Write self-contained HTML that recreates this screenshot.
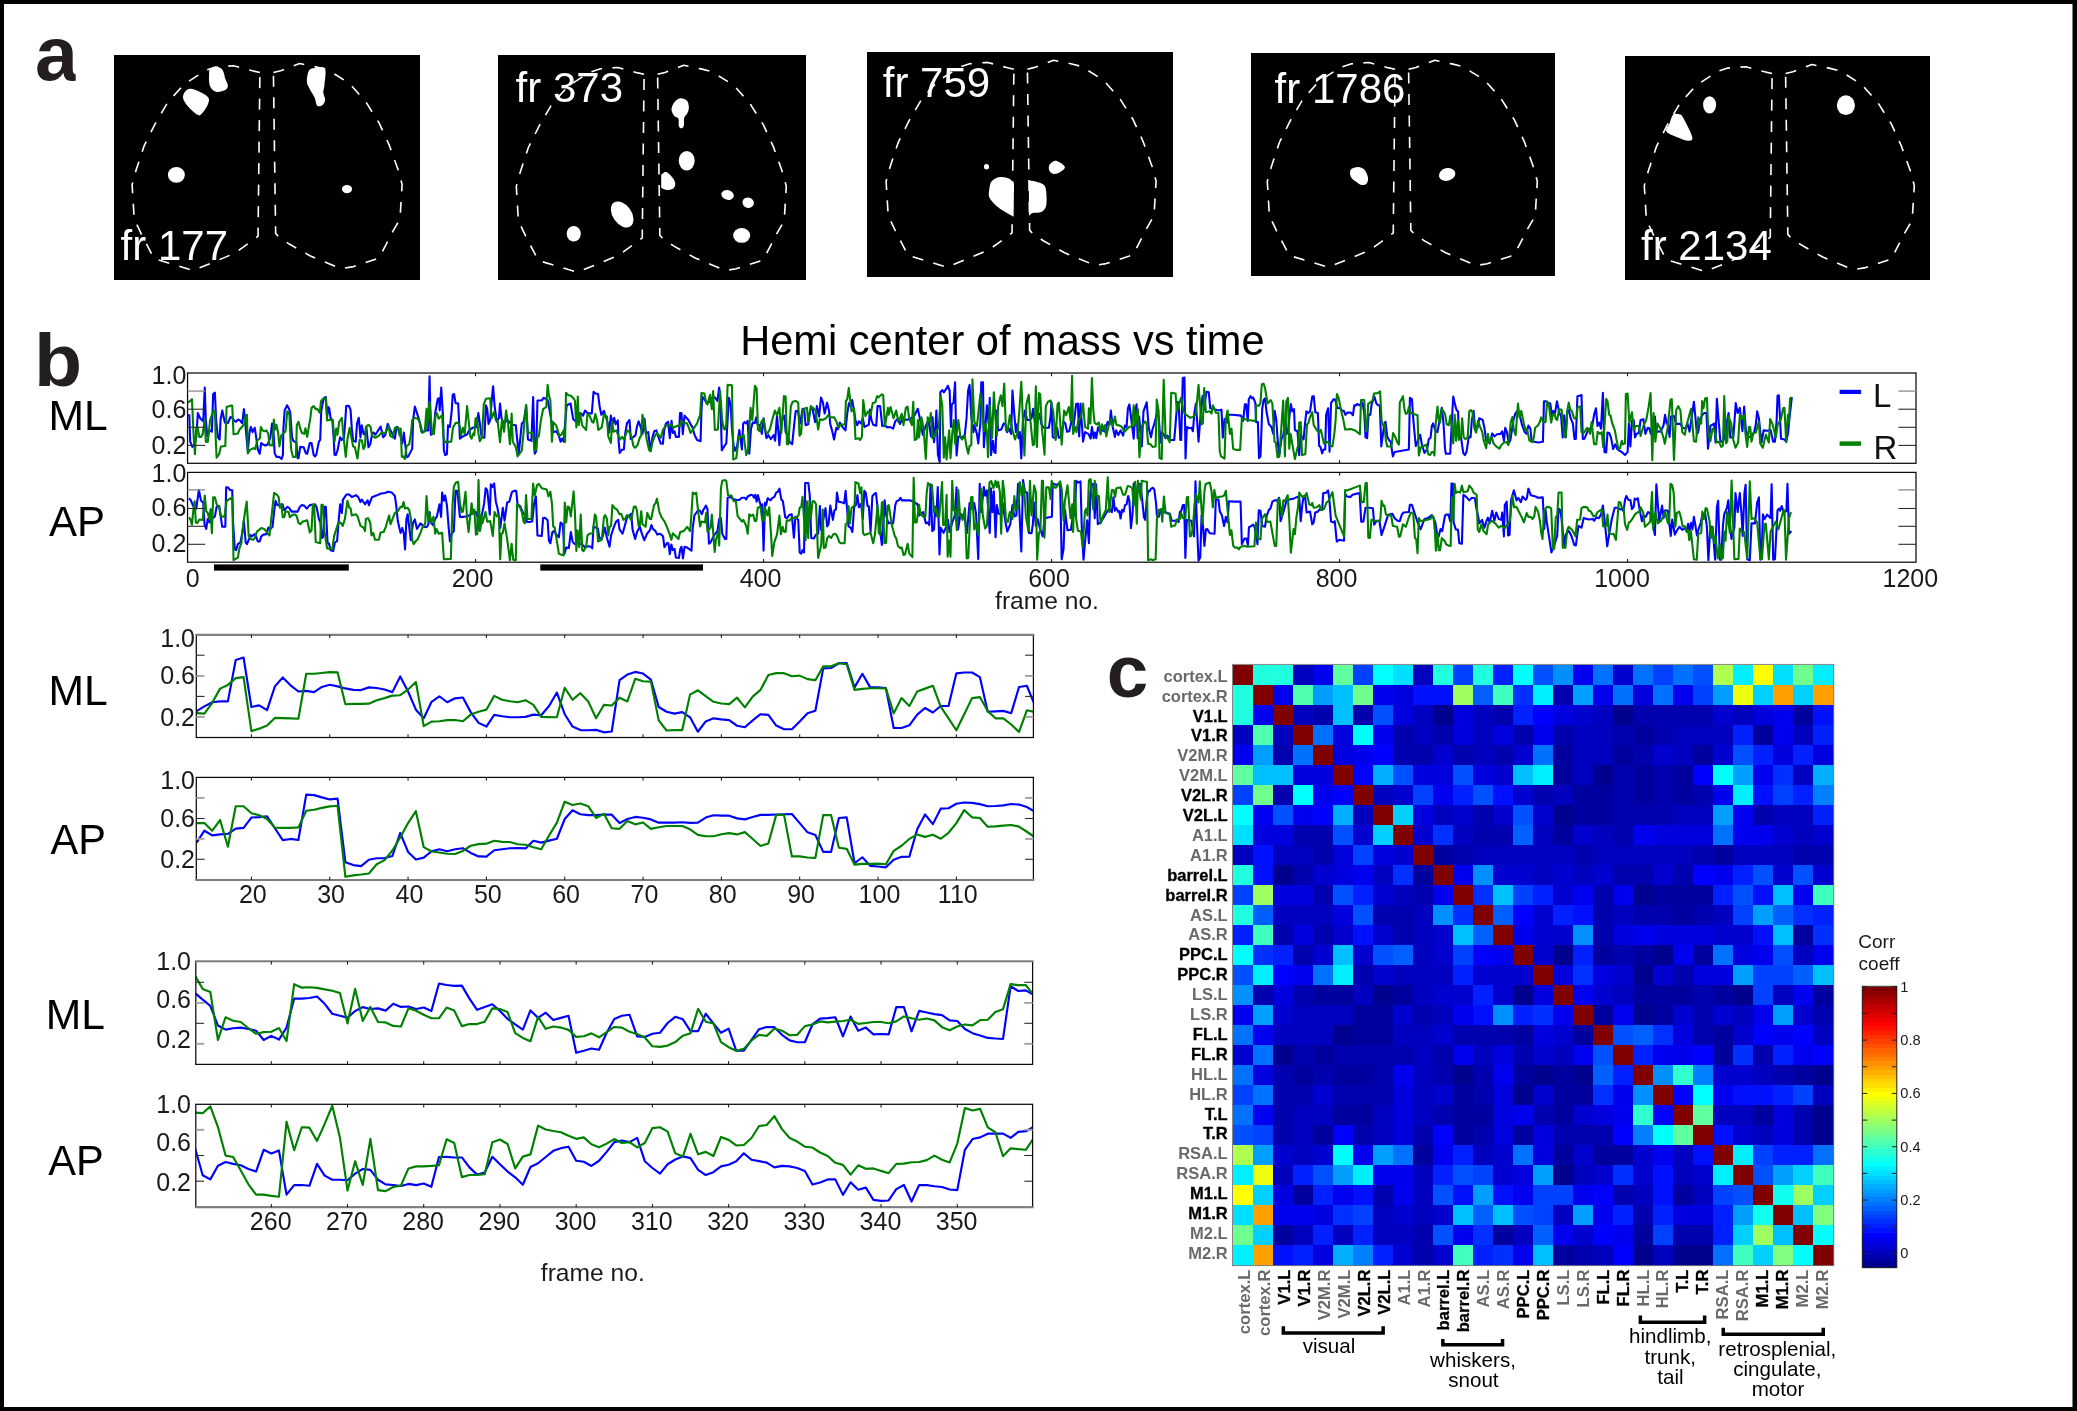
<!DOCTYPE html>
<html lang="en"><head><meta charset="utf-8"><title>Figure</title>
<style>html,body{margin:0;padding:0;background:#fff;}body{width:2077px;height:1411px;overflow:hidden;}svg{display:block;will-change:transform;}text{font-family:"Liberation Sans",sans-serif;}</style></head>
<body>
<svg width="2077" height="1411" viewBox="0 0 2077 1411">
<rect x="0" y="0" width="2077" height="1411" fill="#fff"/>
<rect x="0" y="0" width="2077" height="4" fill="#000"/>
<rect x="0" y="1407" width="2077" height="4" fill="#000"/>
<rect x="0" y="0" width="4" height="1411" fill="#000"/>
<rect x="2072.5" y="0" width="4.5" height="1411" fill="#000"/>
<defs><clipPath id="ca"><rect x="30" y="30" width="44.9" height="60"/></clipPath></defs>
<text x="34.9" y="80.3" font-size="75.6" text-anchor="start" font-weight="bold" fill="#231f20" transform="translate(34.9 80.3) scale(1.0200 1) translate(-34.9 -80.3)" clip-path="url(#ca)">a</text>
<text x="34" y="385.6" font-size="75" text-anchor="start" font-weight="bold" fill="#231f20" transform="translate(34 385.6) scale(1.0500 1) translate(-34 -385.6)">b</text>
<text x="1106.8" y="696.8" font-size="74.5" text-anchor="start" font-weight="bold" fill="#231f20">c</text>
<g transform="translate(114 55)">
<rect x="0" y="0" width="306" height="225" fill="#000"/>
<path d="M96.2 13.9C97.6 12.7 101.3 11.9 103.4 12.1C105.5 12.4 107.5 13.4 108.8 15.4C110.1 17.3 110.5 21.4 111.4 23.9C112.2 26.3 113.8 28.4 113.9 30.2C113.9 32.0 113.5 33.6 111.7 34.7C110.0 35.8 105.7 37.0 103.4 36.9C101.1 36.8 99.3 35.6 98.0 34.2C96.6 32.7 95.7 30.9 95.3 28.4C94.8 25.9 94.9 21.8 95.1 19.3C95.2 16.9 94.8 15.1 96.2 13.9Z" fill="#fff"/>
<path d="M70.5 37.4C71.7 35.8 73.5 33.8 76.3 33.8C79.1 33.8 84.1 35.9 87.1 37.4C90.2 38.9 93.5 40.7 94.5 42.8C95.6 45.0 94.8 47.4 93.6 50.1C92.5 52.8 89.2 57.5 87.5 59.1C85.8 60.7 85.7 60.9 83.5 59.7C81.3 58.4 76.9 54.5 74.5 51.9C72.1 49.2 69.9 46.2 69.2 43.7C68.6 41.3 69.3 39.1 70.5 37.4Z" fill="#fff"/>
<path d="M195.2 15.2C196.9 12.9 200.2 13.2 202.8 13.0C205.5 12.8 209.9 11.1 211.1 13.9C212.4 16.8 210.7 26.3 210.4 30.2C210.1 34.1 209.2 35.0 209.3 37.4C209.4 39.8 211.3 42.5 211.1 44.6C211.0 46.8 209.9 49.0 208.6 50.1C207.3 51.1 204.5 52.0 203.2 50.8C201.9 49.6 201.9 45.7 200.7 42.8C199.4 40.0 196.9 36.5 195.6 33.8C194.3 31.1 192.9 29.7 192.9 26.6C192.8 23.5 193.6 17.4 195.2 15.2Z" fill="#fff"/>
<ellipse cx="62.36" cy="119.85" rx="8.5" ry="7.95" fill="#fff"/>
<ellipse cx="233.01" cy="134.13" rx="5.06" ry="4.16" fill="#fff"/>
<path d="M145.9 17.5 L139.6 16.1 L119.7 10.7 L101.6 12.1 L91.6 15.4 L70 29.3 L53.7 47.4 L41 69.1 L30.2 90.7 L22.1 115.1 L18.1 129.6 L20.2 164 L27.5 179.3 L40.1 203.7 L58.2 209.1 L79 215.5 L99.8 207 L120.6 198.3 L139.6 184.7 L144.1 181.1 L144.1 174.8Z" fill="none" stroke="#fff" stroke-width="1.6" stroke-dasharray="11 10.5" stroke-linejoin="round"/>
<path d="M159.4 17.5 L166.7 15.7 L178.4 11.2 L185.6 8.5 L202.8 12.1 L213.7 14.8 L235.4 28.4 L251.6 46.5 L265.2 68.1 L275.1 89.8 L284.2 115.1 L288.1 129.6 L286 164 L278.7 176.6 L265.2 202.8 L260.7 204.6 L238.1 211.9 L227.2 213.7 L196.5 201 L175.7 189.3 L164.9 182 L161.6 178.4 L161.6 174.8Z" fill="none" stroke="#fff" stroke-width="1.6" stroke-dasharray="11 10.5" stroke-linejoin="round"/>
</g>
<text x="120.6" y="259.6" font-size="42" text-anchor="start" fill="#fff">fr 177</text>
<g transform="translate(498 55)">
<rect x="0" y="0" width="308" height="225" fill="#000"/>
<path d="M182.2 43.2C184.3 42.9 187.5 44.0 188.9 45.6C190.3 47.1 190.9 50.5 190.9 52.8C190.9 55.0 189.7 57.5 188.9 59.1C188.1 60.8 186.7 60.8 186.2 62.7C185.7 64.7 186.3 69.1 185.8 70.9C185.3 72.6 184.1 73.2 183.3 73.2C182.5 73.2 181.2 72.5 180.8 70.9C180.3 69.3 181.2 65.3 180.4 63.6C179.7 62.0 177.4 62.4 176.2 60.9C175.1 59.4 173.5 56.9 173.5 54.6C173.5 52.3 174.8 49.3 176.2 47.4C177.7 45.5 180.1 43.5 182.2 43.2Z" fill="#fff"/>
<ellipse cx="188.72" cy="105.75" rx="7.95" ry="9.76" fill="#fff"/>
<path d="M163.2 119.7C164.9 118.8 166.2 116.5 168.1 117.0C170.0 117.4 172.9 120.6 174.4 122.4C175.9 124.2 176.9 126.0 177.2 127.8C177.4 129.6 177.1 132.0 175.7 133.2C174.3 134.4 171.1 135.1 169.0 135.0C166.9 135.0 165.2 133.6 163.2 132.9L163.2 119.7Z" fill="#fff"/>
<ellipse cx="229.57" cy="139.91" rx="6.33" ry="4.88" fill="#fff" transform="rotate(15 229.57 139.91)"/>
<ellipse cx="250.18" cy="147.69" rx="5.78" ry="5.24" fill="#fff" transform="rotate(15 250.18 147.69)"/>
<ellipse cx="243.67" cy="180.4" rx="8.5" ry="7.41" fill="#fff"/>
<ellipse cx="124.19" cy="159.44" rx="14.46" ry="9.4" fill="#fff" transform="rotate(55 124.19 159.44)"/>
<ellipse cx="75.74" cy="178.78" rx="7.05" ry="7.77" fill="#fff"/>
<path d="M146.1 19.3 L139.8 17.9 L119.9 12.5 L101.8 13.9 L91.8 17.2 L70.2 31.1 L53.9 49.2 L41.2 70.9 L30.4 92.5 L22.3 116.9 L18.3 131.4 L20.4 165.8 L27.7 181.1 L40.3 205.5 L58.4 210.9 L79.2 217.3 L100 208.8 L120.8 200.1 L139.8 186.5 L144.3 182.9 L144.3 176.6Z" fill="none" stroke="#fff" stroke-width="1.6" stroke-dasharray="11 10.5" stroke-linejoin="round"/>
<path d="M159.6 19.3 L166.9 17.5 L178.6 13 L185.8 10.3 L203 13.9 L213.9 16.6 L235.6 30.2 L251.8 48.3 L265.4 69.9 L275.3 91.6 L284.4 116.9 L288.3 131.4 L286.2 165.8 L278.9 178.4 L265.4 204.6 L260.9 206.4 L238.3 213.7 L227.4 215.5 L196.7 202.8 L175.9 191.1 L165.1 183.8 L161.8 180.2 L161.8 176.6Z" fill="none" stroke="#fff" stroke-width="1.6" stroke-dasharray="11 10.5" stroke-linejoin="round"/>
</g>
<text x="515.6" y="102.4" font-size="42" text-anchor="start" fill="#fff">fr 373</text>
<g transform="translate(867 52)">
<rect x="0" y="0" width="306" height="225" fill="#000"/>
<ellipse cx="119.49" cy="114.79" rx="2.53" ry="2.71" fill="#fff"/>
<path d="M182.2 113.3C183.0 111.6 185.4 109.5 187.1 109.0C188.8 108.5 190.7 109.2 192.5 110.3C194.3 111.3 197.9 113.6 197.9 115.3C197.9 117.0 194.3 119.5 192.5 120.6C190.7 121.7 188.8 122.2 187.1 122.0C185.4 121.8 183.4 120.8 182.6 119.3C181.8 117.9 181.5 115.1 182.2 113.3Z" fill="#fff"/>
<path d="M124.7 129.2C126.5 127.3 130.0 125.5 132.9 125.1C135.7 124.6 139.6 125.5 141.9 126.5C144.3 127.6 145.3 129.8 147.0 131.4L146.6 164.7C143.2 162.8 139.2 160.8 136.5 159.1C133.7 157.4 132.0 156.1 130.2 154.6C128.3 153.0 127.0 151.7 125.6 150.0C124.3 148.4 122.6 146.9 122.0 144.6C121.5 142.4 121.9 139.0 122.4 136.5C122.8 133.9 123.0 131.1 124.7 129.2Z" fill="#fff"/>
<path d="M161.8 128.3C164.8 128.9 168.2 129.2 170.8 130.2C173.5 131.1 176.2 131.5 177.7 133.8C179.1 136.0 179.3 140.2 179.5 143.7C179.7 147.2 179.8 151.8 179.0 154.6C178.1 157.3 176.6 158.9 174.4 160.0C172.2 161.1 167.8 160.4 165.8 161.1C163.7 161.7 163.4 162.9 162.1 163.8L161.8 128.3Z" fill="#fff"/>
<path d="M146.9 17.2 L140.6 15.8 L120.7 10.4 L102.6 11.8 L92.6 15.1 L71 29 L54.7 47.1 L42 68.8 L31.2 90.4 L23.1 114.8 L19.1 129.3 L21.2 163.7 L28.5 179 L41.1 203.4 L59.2 208.8 L80 215.2 L100.8 206.7 L121.6 198 L140.6 184.4 L145.1 180.8 L145.1 174.5Z" fill="none" stroke="#fff" stroke-width="1.6" stroke-dasharray="11 10.5" stroke-linejoin="round"/>
<path d="M160.4 17.2 L167.7 15.4 L179.4 10.9 L186.6 8.2 L203.8 11.8 L214.7 14.5 L236.4 28.1 L252.6 46.2 L266.2 67.8 L276.1 89.5 L285.2 114.8 L289.1 129.3 L287 163.7 L279.7 176.3 L266.2 202.5 L261.7 204.3 L239.1 211.6 L228.2 213.4 L197.5 200.7 L176.7 189 L165.9 181.7 L162.6 178.1 L162.6 174.5Z" fill="none" stroke="#fff" stroke-width="1.6" stroke-dasharray="11 10.5" stroke-linejoin="round"/>
</g>
<text x="882.8" y="97.2" font-size="42" text-anchor="start" fill="#fff">fr 759</text>
<g transform="translate(1251 53)">
<rect x="0" y="0" width="304" height="223" fill="#000"/>
<path d="M99.8 116.6C101.0 114.9 104.8 113.9 107.0 113.9C109.3 113.9 111.7 114.8 113.3 116.6C115.0 118.4 116.6 122.4 117.0 124.7C117.3 127.0 116.7 129.3 115.7 130.5C114.6 131.7 112.5 132.3 110.6 132.0C108.7 131.6 106.1 129.7 104.3 128.3C102.5 127.0 100.5 125.8 99.8 123.8C99.0 121.9 98.6 118.3 99.8 116.6Z" fill="#fff"/>
<ellipse cx="196.13" cy="121.48" rx="8.32" ry="6.33" fill="#fff" transform="rotate(-15 196.13 121.48)"/>
<path d="M144.1 16.3 L137.8 14.9 L117.9 9.5 L99.8 10.9 L89.8 14.2 L68.2 28.1 L51.9 46.2 L39.2 67.9 L28.4 89.5 L20.3 113.9 L16.3 128.4 L18.4 162.8 L25.7 178.1 L38.3 202.5 L56.4 207.9 L77.2 214.3 L98 205.8 L118.8 197.1 L137.8 183.5 L142.3 179.9 L142.3 173.6Z" fill="none" stroke="#fff" stroke-width="1.6" stroke-dasharray="11 10.5" stroke-linejoin="round"/>
<path d="M157.6 16.3 L164.9 14.5 L176.6 10 L183.8 7.3 L201 10.9 L211.9 13.6 L233.6 27.2 L249.8 45.3 L263.4 66.9 L273.3 88.6 L282.4 113.9 L286.3 128.4 L284.2 162.8 L276.9 175.4 L263.4 201.6 L258.9 203.4 L236.3 210.7 L225.4 212.5 L194.7 199.8 L173.9 188.1 L163.1 180.8 L159.8 177.2 L159.8 173.6Z" fill="none" stroke="#fff" stroke-width="1.6" stroke-dasharray="11 10.5" stroke-linejoin="round"/>
</g>
<text x="1274.6" y="102.7" font-size="42" text-anchor="start" fill="#fff">fr 1786</text>
<g transform="translate(1625 56)">
<rect x="0" y="0" width="305" height="224" fill="#000"/>
<ellipse cx="84.6" cy="48.81" rx="6.51" ry="8.68" fill="#fff"/>
<path d="M48.3 58.6C49.9 57.1 52.9 57.7 54.6 58.2C56.2 58.7 56.1 58.1 58.2 61.8C60.3 65.6 66.3 77.0 67.2 80.8C68.1 84.6 65.9 84.6 63.6 84.8C61.4 84.9 57.4 83.3 53.7 81.7C50.0 80.1 42.9 77.8 41.4 75.4C39.9 73.0 43.5 70.0 44.6 67.2C45.8 64.4 46.6 60.1 48.3 58.6Z" fill="#fff"/>
<ellipse cx="220.9" cy="49.17" rx="9.04" ry="9.94" fill="#fff"/>
<path d="M147.1 17.5 L140.8 16.1 L120.9 10.7 L102.8 12.1 L92.8 15.4 L71.2 29.3 L54.9 47.4 L42.2 69.1 L31.4 90.7 L23.3 115.1 L19.3 129.6 L21.4 164 L28.7 179.3 L41.3 203.7 L59.4 209.1 L80.2 215.5 L101 207 L121.8 198.3 L140.8 184.7 L145.3 181.1 L145.3 174.8Z" fill="none" stroke="#fff" stroke-width="1.6" stroke-dasharray="11 10.5" stroke-linejoin="round"/>
<path d="M160.6 17.5 L167.9 15.7 L179.6 11.2 L186.8 8.5 L204 12.1 L214.9 14.8 L236.6 28.4 L252.8 46.5 L266.4 68.1 L276.3 89.8 L285.4 115.1 L289.3 129.6 L287.2 164 L279.9 176.6 L266.4 202.8 L261.9 204.6 L239.3 211.9 L228.4 213.7 L197.7 201 L176.9 189.3 L166.1 182 L162.8 178.4 L162.8 174.8Z" fill="none" stroke="#fff" stroke-width="1.6" stroke-dasharray="11 10.5" stroke-linejoin="round"/>
</g>
<text x="1641" y="259.7" font-size="42" text-anchor="start" fill="#fff">fr 2134</text>
<defs><clipPath id="cML"><rect x="187.55" y="373" width="1728.45" height="90.3"/></clipPath><clipPath id="cAP"><rect x="187.55" y="472.4" width="1728.45" height="89.8"/></clipPath></defs>
<path d="M188.03 415.23 L189.33 415.23 L190.2 441.66 L192.37 446.86 L194.53 444.26 L196.27 437.33 L197.83 413.06 L200.17 418.26 L203.2 421.3 L204.76 387.5 L205.8 420 L207.36 436.46 L209.7 430.4 L211.87 431.7 L213.17 394 L214.9 392.7 L216.2 421.73 L217.93 437.33 L219.67 439.5 L220.53 420 L222.27 410.47 L224.87 422.6 L227.9 423.03 L230.5 416.96 L232.23 417.83 L234.4 420.86 L236.13 421.73 L237.86 419.56 L240.03 420.43 L242.2 423.46 L243.93 409.17 L244.8 416.53 L246.53 437.33 L247.83 451.2 L249.56 432.13 L250.86 426.93 L252.6 432.13 L254.76 427.8 L256.06 436.46 L257.8 449.46 L259.7 453.8 L261.26 442.96 L263.43 444.7 L265.6 445.56 L267.76 444.26 L270.36 437.33 L272.1 423.46 L273.4 430.4 L274.7 453.36 L276.43 456.83 L279.03 456.83 L281.63 459 L282.93 454.66 L283.36 428.66 L284.66 410.47 L287.09 405.27 L289 408.73 L290.3 413.06 L292.03 437.33 L293.33 440.8 L295.5 442.1 L296.36 442.53 L297.66 458.13 L298.53 458.13 L300.26 446.86 L303.73 447.3 L305.9 453.36 L307.2 453.8 L309.8 442.96 L311.53 442.96 L313.7 455.1 L315 456.4 L316.3 454.66 L318.9 441.66 L320.19 439.93 L321.23 411.33 L322.79 402.67 L324.09 397.9 L325.83 397.03 L327.13 416.53 L328.43 407 L329.29 408.73 L330.59 418.26 L332.33 420 L333.63 437.33 L334.49 454.66 L335.79 455.1 L337.53 450.33 L340.13 437.33 L341.86 439.93 L344.03 437.33 L345.33 420 L346.19 406.13 L348.79 405.7 L350.53 409.6 L351.83 428.66 L353.13 440.8 L355.73 441.66 L357.03 423.46 L358.76 417.83 L360.49 437.33 L361.79 425.2 L363.53 433.86 L365 434.73 L366.3 426.93 L368.47 447.3 L370.2 444.26 L372.37 433 L373.67 432.56 L375.4 434.73 L380.6 426.5 L383.2 437.33 L385.37 434.73 L387.71 423.9 L389.7 428.66 L391.87 433 L394.9 438.63 L396.63 426.93 L398.37 427.8 L400.53 436.46 L402.27 443.4 L403.83 432.56 L405.73 448.6 L406.6 457.26 L408.33 456.4 L412.23 448.6 L413.1 420 L414.83 406.57 L417 413.06 L419.16 420 L420.9 426.93 L422.2 432.56 L425.66 430.4 L428.26 430.4 L429.56 376.23 L430.86 434.73 L433.46 433.86 L435.2 413.06 L437.8 398.77 L439.1 398.33 L439.7 410.47 L441.26 387.5 L443 416.53 L443.86 450.33 L445.16 455.1 L446.9 454.23 L448.02 425.2 L449.93 426.93 L451.66 411.33 L452.7 394.87 L454.09 394 L455.56 403.1 L458.16 403.53 L459.46 428.66 L459.9 438.63 L462.06 436.9 L467.26 434.3 L469 430.4 L472.46 427.8 L476.8 426.93 L478.36 413.06 L479.83 423.46 L481.56 436.9 L484.42 437.76 L485.9 405.27 L487.2 408.73 L488.5 423.9 L490.23 420 L491.53 402.67 L493.09 386.2 L494.56 405.27 L496.73 421.73 L498.9 418.26 L500.02 403.53 L501.49 417.83 L503.66 423.46 L507.13 420 L512.33 424.76 L515.79 425.2 L517.53 442.53 L518.83 453.36 L520.56 435.6 L521.86 423.46 L523.59 422.16 L525.33 411.33 L526.19 405.27 L527.93 439.5 L531.39 440.8 L533.13 397.03 L534.69 453.8 L536.16 451.2 L537.46 400.5 L541.79 400.5 L543.53 397.9 L545 398.33 L547.6 400.07 L549.77 411.33 L551.93 424.33 L553.23 432.13 L556.27 431.26 L558.87 435.6 L560.6 441.66 L562.33 438.63 L563.63 441.66 L565.37 420 L566.67 405.27 L570.57 403.53 L571.87 411.33 L573.17 419.13 L574.9 420.86 L576.63 419.13 L578.37 420.86 L580.53 413.06 L583.13 415.66 L585.04 410.47 L587.47 413.06 L591.8 413.5 L593.53 391.83 L595.7 393.57 L598.04 394 L599.6 406.13 L601.33 414.8 L603.93 410.9 L605.66 416.53 L607.4 421.73 L609.13 432.56 L610.86 415.66 L612.6 423.46 L614.16 417.83 L615.63 424.33 L617.8 420.43 L618.66 441.66 L619.7 452.93 L621.7 449.9 L623.86 449.46 L625.16 433.86 L626.9 423.46 L629.5 420 L630.8 439.06 L632.96 437.33 L635.56 435.16 L636.86 426.93 L638.6 421.3 L640.33 426.06 L642.5 433.86 L644.49 418.7 L645.96 433 L648.3 432.13 L650.3 451.2 L652.46 437.33 L654.2 431.26 L656.36 430.4 L658.53 437.33 L660.7 443.4 L662.86 443.83 L664.16 430.4 L665.9 423.46 L668.06 421.73 L669.8 438.2 L671.53 420.86 L672.83 433 L674.56 431.26 L675.86 436.9 L678.9 436.9 L680.02 413.06 L681.49 413.06 L682.79 434.3 L684.53 415.66 L688.43 420 L690.59 424.33 L692.33 426.93 L694.49 434.73 L697.09 439.93 L700.56 441.23 L701.43 411.33 L702.29 396.6 L706.19 401.8 L709.66 402.23 L713.13 396.6 L715.29 397.9 L717.46 400.93 L719.19 387.5 L720.49 402.67 L721.79 450.33 L725 445.13 L726.3 443.4 L727.6 420 L728.9 397.9 L730.63 404.4 L731.93 428.66 L733.67 446 L734.97 450.76 L737.13 446 L739.3 429.96 L741.9 449.46 L743.2 423.46 L744.5 422.16 L746.23 423.46 L747.71 420.86 L749.27 453.8 L751 428.66 L752.73 422.6 L754.9 423.03 L756.2 417.4 L757.5 424.33 L759.67 425.2 L761.83 433.86 L763.57 418.26 L764.87 428.66 L766.43 438.2 L768.33 435.16 L770.76 439.06 L773.7 435.16 L775.09 440.8 L777 415.23 L779.42 445.13 L781.33 420.86 L784.36 415.66 L785.66 432.13 L787.4 434.73 L789.56 442.1 L792.16 444.26 L794.33 423.46 L795.63 411.33 L797.8 410.9 L800.22 423.46 L802.56 408.73 L804.3 410.47 L805.6 425.2 L808.2 424.33 L810.36 409.6 L812.53 408.73 L815.13 422.16 L816.86 406.13 L819.03 416.53 L821.02 397.47 L822.93 402.67 L824.66 413.5 L827.09 402.67 L829 410.47 L830.3 424.33 L832.03 430.4 L834.02 439.5 L836.36 427.8 L838.1 429.1 L839.83 422.6 L842.43 426.93 L845.46 430.4 L847.2 413.93 L848.93 403.1 L850.66 406.13 L852.22 400.07 L853.7 408.73 L855.43 420 L857.16 425.2 L858.9 421.3 L861.06 423.46 L862.79 418.26 L864.53 426.93 L868.86 424.76 L869.9 409.6 L871.46 420 L873.19 424.76 L876.23 425.63 L877.53 406.13 L880.13 406.13 L882.29 426.06 L885.33 425.2 L887.06 427.36 L889.66 426.93 L893.13 428.66 L895.29 421.3 L897.46 419.13 L900.06 423.9 L902.66 417.4 L905 420 L910.2 419.13 L914.53 415.23 L917.83 408.73 L920.17 420 L922.77 434.73 L925.37 426.93 L928.4 420 L931 436.46 L932.56 417.4 L934.03 442.1 L935.33 428.66 L936.37 410.47 L937.93 454.66 L939.67 462.03 L940.36 392.27 L942.27 390.1 L943.83 392.27 L945.73 389.67 L947.9 385.77 L949.63 390.53 L950.93 426.93 L951.8 404.4 L953.53 402.67 L955.09 382.3 L956.56 455.53 L958.3 436.46 L960.46 436.46 L962.2 438.2 L964.8 434.73 L966.53 418.26 L968.09 390.53 L969.56 384.9 L971.3 416.53 L973.46 432.13 L974.33 425.2 L976.93 433.86 L978.23 443.4 L980.4 423.46 L981.26 382.3 L983 382.3 L983.86 447.3 L985.6 424.33 L986.9 405.27 L988.63 423.46 L989.76 397.9 L990.97 455.1 L992.96 440.8 L994.26 452.06 L995.56 452.93 L996.69 410.47 L998.16 430.4 L1001.2 429.53 L1003.8 423.46 L1005.53 424.76 L1007.09 432.13 L1009 428.66 L1011.16 433.86 L1012.46 390.53 L1014.2 413.06 L1015.93 432.13 L1017.23 424.33 L1018.53 438.2 L1019.83 432.13 L1021.3 458.56 L1022.86 421.73 L1025.03 410.47 L1027.2 420 L1029.36 420 L1031.53 418.26 L1033.09 408.73 L1035 423.46 L1037.6 420 L1039.33 413.93 L1041.49 424.33 L1043.66 427.8 L1048.86 427.8 L1050.59 416.53 L1051.46 402.23 L1052.76 437.33 L1055.79 438.2 L1057.09 427.8 L1058.83 437.76 L1060.99 437.33 L1063.59 421.73 L1065.33 423.46 L1067.06 431.7 L1069.23 431.26 L1071.83 420 L1073.56 426.06 L1076.16 403.97 L1077.89 403.53 L1079.19 436.46 L1080.49 403.53 L1081.79 423.46 L1083.09 441.66 L1085 432.13 L1088.47 433.86 L1090.63 438.63 L1091.93 426.93 L1093.67 438.2 L1094.97 432.56 L1096.27 438.2 L1098 427.36 L1100.17 432.13 L1102.77 429.96 L1104.93 431.7 L1107.71 421.73 L1109.7 424.33 L1110.83 410.47 L1112.73 426.93 L1114.9 436.9 L1116.2 430.4 L1118.37 435.16 L1120.53 430.4 L1123.13 435.6 L1124.87 425.63 L1126.6 426.93 L1127.9 408.3 L1129.37 404.4 L1131.8 423.46 L1133.7 438.63 L1135.09 413.06 L1136.56 404.4 L1137.69 438.2 L1139.16 416.53 L1141.76 446.43 L1143.5 411.33 L1146.7 402.23 L1148.7 427.8 L1151.04 437.33 L1152.42 429.53 L1154.33 423.9 L1156.93 413.06 L1158.66 416.53 L1160.57 442.53 L1161.7 432.56 L1163.43 433.86 L1165.6 438.2 L1167.33 435.6 L1170.36 439.93 L1174.26 439.93 L1175.56 424.33 L1177.3 401.8 L1178.6 402.67 L1180.33 439.93 L1181.2 439.93 L1182.76 377.97 L1184.49 377.53 L1185.53 458.56 L1186.83 426.93 L1189 428.23 L1191.6 427.8 L1192.9 431.26 L1194.37 413.06 L1195.93 403.53 L1198.53 441.66 L1201.56 402.67 L1202.69 395.73 L1204.16 409.6 L1206.33 391.83 L1208.76 392.27 L1210.23 408.3 L1212.83 408.73 L1216.73 410.03 L1220.19 410.47 L1221.49 409.6 L1222.79 437.76 L1224.53 419.13 L1227.13 422.6 L1228.43 414.8 L1232.33 414.8 L1240.99 415.66 L1243.16 420.86 L1244.89 404.4 L1246.19 404.4 L1247.75 420.86 L1248.79 399.2 L1250.53 396.17 L1251.83 398.33 L1253.13 397.47 L1255.29 402.67 L1256.16 422.16 L1257.89 422.16 L1259.02 458.13 L1260.49 456.4 L1262.23 408.73 L1263.53 400.07 L1265 398.33 L1266.73 413.06 L1268.9 424.33 L1271.5 426.93 L1273.23 433.86 L1274.71 410.9 L1276.27 420 L1278 444.26 L1279.3 454.66 L1281.47 439.06 L1283.2 435.6 L1285.37 420 L1286.67 433.86 L1288.4 428.66 L1289.7 413.06 L1290.83 403.97 L1292.3 411.33 L1294.03 409.17 L1294.9 429.96 L1297.5 431.26 L1299.23 455.1 L1300.53 434.73 L1303.57 439.5 L1305.04 423.46 L1306.43 411.33 L1307.9 413.06 L1310.06 411.33 L1312.23 396.6 L1313.7 396.17 L1315.26 412.2 L1317.86 413.06 L1319.16 446 L1320.46 446.86 L1322.2 453.36 L1323.5 449.46 L1325.23 449.46 L1326.1 414.8 L1328.09 408.3 L1329.56 451.63 L1331.04 403.1 L1333.46 399.2 L1335.2 399.63 L1337.36 407.87 L1339.96 408.3 L1342.13 410.47 L1343.86 410.9 L1345.42 414.8 L1347.33 412.63 L1350.8 412.63 L1352.96 415.23 L1354.26 405.27 L1355.56 405.7 L1357.04 403.97 L1359.46 405.27 L1362.5 402.67 L1364.23 413.06 L1365.53 437.33 L1367.09 438.2 L1368.56 414.8 L1370.3 414.8 L1371.6 404.4 L1374.37 396.6 L1376.36 403.53 L1378.1 405.27 L1379.83 405.27 L1381.3 446.43 L1384.16 425.2 L1385.46 421.73 L1387.2 436.46 L1388.93 439.93 L1390.66 441.66 L1392.83 456.4 L1394.56 452.06 L1408.86 449.46 L1409.9 397.9 L1411.89 399.2 L1413.63 423.46 L1415.79 446 L1417.53 441.66 L1420.13 434.73 L1421.86 444.26 L1424.46 452.93 L1427.06 449.46 L1428.79 439.06 L1430.53 437.76 L1431.83 426.06 L1433.13 423.46 L1435.29 430.4 L1437.46 432.13 L1441.79 407.87 L1443.53 423.46 L1445 448.6 L1445.87 453.8 L1450.2 453.8 L1451.93 420 L1453.23 396.6 L1455.4 406.13 L1456.7 410.47 L1458 411.33 L1459.3 437.33 L1461.03 437.33 L1463.2 452.93 L1464.93 455.1 L1466.67 451.2 L1468.83 436.46 L1470.57 437.33 L1471.87 420 L1473.6 410.9 L1474.9 426.93 L1477.5 427.8 L1479.23 418.26 L1482.7 420 L1484.43 427.8 L1486.17 440.8 L1487.9 439.06 L1489.63 443.4 L1492.23 433.43 L1494.4 436.46 L1497 434.3 L1500.46 433.86 L1502.2 431.26 L1503.93 440.8 L1505.23 427.8 L1506.96 432.13 L1508.7 443.4 L1510.43 439.93 L1513.46 420 L1515.2 413.93 L1516.93 411.33 L1519.53 414.8 L1522.13 425.2 L1524.73 432.13 L1526.46 433.86 L1528.37 425.63 L1530.36 428.66 L1531.66 440.8 L1534.26 441.66 L1538.16 442.53 L1542.93 441.66 L1543.97 401.37 L1545.96 401.37 L1547.7 402.67 L1550.3 403.53 L1552.03 416.53 L1553.33 410.9 L1555.06 413.06 L1556.97 401.37 L1559.4 413.06 L1561.13 416.53 L1562.69 437.33 L1564.16 415.23 L1565.64 437.33 L1567.2 411.33 L1568.93 410.47 L1570.66 418.26 L1572.83 423.46 L1574.56 439.06 L1575.86 439.06 L1577.42 396.17 L1579.76 395.73 L1581.49 394.87 L1582.79 439.06 L1584.53 438.63 L1587.13 432.13 L1589.29 428.66 L1591.89 427.8 L1594.06 414.8 L1595.97 408.3 L1597.53 426.06 L1599.26 422.6 L1600.99 428.66 L1602.9 392.7 L1604.46 452.06 L1606.19 452.5 L1607.49 432.56 L1609.23 433 L1610.96 437.33 L1613.13 449.03 L1615.29 444.26 L1617.46 449.46 L1621.79 452.06 L1625 455.1 L1627.6 452.06 L1628.9 423.46 L1630.37 446.43 L1631.93 420.86 L1633.67 420 L1634.97 437.33 L1636.7 433.86 L1638.87 432.56 L1640.6 420 L1643.37 419.13 L1645.37 433.86 L1647.71 427.8 L1649.27 428.23 L1650.83 433.86 L1653.6 417.83 L1654.9 416.53 L1656.2 432.56 L1658.37 431.26 L1660.53 431.7 L1663.57 425.2 L1665.04 414.8 L1666.6 423.46 L1667.47 421.73 L1669.63 436.9 L1670.93 416.53 L1673.96 416.1 L1676.13 423.9 L1680.46 423.9 L1682.63 427.8 L1685.66 428.66 L1687.4 423.46 L1689.56 431.7 L1691.73 416.53 L1693.9 401.8 L1695.37 416.53 L1696.93 433.86 L1698.23 432.13 L1699.7 420 L1702.13 415.23 L1704.3 413.06 L1706.46 413.06 L1708.02 448.6 L1710.36 425.63 L1712.53 424.76 L1714.09 423.46 L1715.56 442.53 L1716.86 398.77 L1718.6 420 L1720.33 440.8 L1722.5 442.53 L1724.66 437.33 L1727.26 420 L1728.56 413.06 L1730.3 437.33 L1733.33 437.33 L1735.76 403.1 L1737.66 413.06 L1739.83 407.87 L1742.43 431.26 L1744.16 406.57 L1745.9 430.4 L1748.06 437.33 L1751.53 436.46 L1754.13 432.56 L1755.86 424.33 L1757.16 411.33 L1758.9 418.26 L1761.49 442.53 L1763.66 430.4 L1767.13 430.83 L1770.59 429.96 L1773.19 441.66 L1774.93 441.66 L1776.66 420 L1777.53 395.73 L1778.83 395.3 L1780.13 420 L1780.99 438.63 L1784.46 439.5 L1786.19 441.66 L1787.93 433.86 L1789.66 416.53 L1791.83 397.03" stroke="#0000ff" stroke-width="2.1" fill="none" stroke-linejoin="round" clip-path="url(#cML)"/>
<path d="M188.03 402.67 L191.93 399.2 L193.67 436.46 L194.97 454.23 L196.27 427.8 L197.57 426.93 L199.3 436.9 L201.03 436.9 L202.77 433.86 L204.76 418.7 L205.8 441.66 L207.71 442.1 L210.13 420 L213.17 411.33 L214.9 410.47 L215.77 439.93 L216.63 457.7 L219.23 453.8 L220.97 446.43 L225.3 446 L226.6 407 L229.2 406.13 L230.93 405.44 L232.23 405.7 L233.53 434.3 L237.86 433.43 L239.6 429.53 L244.36 424.33 L245.66 415.23 L246.96 414.8 L247.83 453.36 L250 449.9 L253.46 448.16 L255.2 449.03 L257.36 440.36 L259.96 438.2 L260.83 426.93 L262.56 430.4 L264.73 431.26 L266.46 430.4 L268.2 433.43 L269.5 445.13 L272.53 445.56 L273.83 419.56 L275.13 429.53 L276.43 424.76 L278.16 433 L279.46 446.43 L281.2 435.6 L285.53 431.26 L287.26 411.33 L289.43 414.8 L290.3 435.6 L291.16 449.46 L292.9 456.83 L295.93 456.83 L296.8 425.2 L298.53 421.73 L300.26 428.66 L302 433 L304.16 433.86 L305.46 428.23 L307.2 436.9 L308.93 426.06 L310.23 419.13 L311.53 407.87 L313.7 406.13 L315.86 409.17 L317.16 408.73 L319.76 412.63 L321.06 400.93 L323.66 398.33 L325.83 398.33 L327.13 420.43 L329.29 420 L332.76 420 L334.49 441.66 L336.23 428.66 L337.53 434.73 L339.26 421.73 L341.86 417.83 L343.59 437.33 L345.76 456.83 L347.49 439.06 L349.66 427.8 L351.39 437.33 L353.13 446.43 L354.86 447.3 L357.46 458.56 L359.63 439.93 L361.79 440.36 L363.53 449.03 L365 446 L365.87 426.93 L368.47 424.76 L370.63 426.93 L371.93 435.6 L375.4 437.76 L378.87 435.6 L381.47 432.56 L385.37 433 L388.83 426.06 L390.13 435.6 L392.73 437.33 L394.9 427.8 L397.93 427.8 L399.67 435.16 L400.71 428.66 L401.83 456.83 L403.13 456.4 L404.87 459 L406.6 446 L409.2 444.26 L410.93 433.86 L412.23 420 L414.4 417.83 L417.86 418.7 L419.6 421.73 L421.33 431.7 L422.63 432.56 L424.8 431.26 L426.53 408.73 L426.96 428.66 L428.7 409.6 L429.56 401.8 L432.16 433.86 L433.9 433.86 L435.63 414.8 L436.93 413.06 L438.66 418.7 L442.13 415.23 L443.43 436.46 L444.73 442.1 L451.23 441.66 L452.96 427.8 L455.56 423.03 L458.16 422.6 L459.9 426.93 L461.2 435.16 L462.93 427.8 L464.66 433.86 L467.09 406.13 L468.56 420 L470.3 436.46 L471.6 438.63 L473.33 433.43 L474.37 435.16 L475.5 418.7 L476.8 417.83 L478.53 433.86 L479.83 441.23 L482 437.33 L483.73 404.4 L485.9 398.77 L490.23 398.33 L491.53 418.26 L494.13 412.2 L495.86 420 L497.6 420.86 L500.02 442.1 L501.93 420 L504.09 431.7 L506.09 410.47 L507.99 423.46 L509.9 444.26 L511.63 413.5 L512.76 441.66 L515.79 446.86 L517.53 456.4 L521.86 450.33 L523.59 432.13 L526.02 405.27 L527.93 433 L532.26 432.56 L533.56 439.93 L534.43 450.76 L536.16 449.46 L537.46 436.46 L538.76 436.46 L540.93 420 L543.09 409.17 L545 407.87 L546.3 407 L547.6 384.9 L548.9 394.87 L550.37 400.5 L551.93 441.66 L553.23 422.16 L556.27 425.63 L559.3 435.6 L561.47 434.73 L563.63 430.4 L565.11 442.1 L565.97 392.7 L568.4 395.3 L571 395.73 L573.17 397.9 L574.9 400.5 L576.37 427.36 L577.76 396.6 L578.8 425.2 L580.1 413.06 L582.27 425.63 L586.17 429.96 L587.47 413.93 L589.2 414.8 L592.23 422.16 L593.53 422.6 L595.26 413.93 L597 420 L598.3 429.96 L601.76 427.36 L603.93 414.36 L606.96 416.53 L608.26 436.46 L610.86 442.96 L612.16 421.3 L613.46 431.7 L616.5 430.4 L618.23 435.6 L620.22 439.5 L622.13 436.9 L623.86 439.5 L627.33 430.4 L629.5 432.13 L631.66 437.33 L633.4 446 L635.13 447.73 L637.3 445.56 L639.9 437.33 L641.2 435.6 L642.5 414.8 L644.66 426.93 L646.83 439.93 L649 449.9 L650.73 451.2 L652.46 442.1 L654.63 436.46 L656.8 433 L660.7 437.76 L662.86 429.96 L665.46 426.06 L669.8 425.2 L671.53 424.33 L673.26 427.8 L677.6 425.63 L679.76 426.06 L681.49 420.86 L684.09 423.46 L686.69 423.03 L688.86 427.8 L690.59 433 L694.06 427.8 L697.09 423.46 L700.13 414.8 L701.43 393.13 L704.46 393.57 L706.19 403.1 L707.49 404.4 L710.09 394.87 L711.83 409.17 L713.13 390.97 L714.86 429.96 L717.89 429.53 L720.06 390.97 L722.23 420 L723.53 428.66 L725 429.53 L726.3 423.46 L727.6 384.9 L731.93 385.33 L733.23 459.43 L736.27 458.13 L738.87 436.46 L741.47 437.33 L743.63 434.73 L746.23 455.1 L747.97 450.33 L750.57 407.87 L752.3 420 L754.9 385.77 L756.63 388.37 L757.93 429.53 L759.67 431.26 L761.4 421.73 L763.57 419.13 L765.73 432.13 L767.9 433 L770.06 428.66 L772.23 420 L774.83 410.47 L777 415.23 L779.42 407.87 L781.33 433 L783.93 396.17 L785.66 396.6 L786.96 444.26 L788.26 444.26 L790.86 406.13 L792.6 401.8 L795.63 400.93 L798.23 402.67 L799.53 435.6 L801.09 433.86 L802.56 412.2 L803.86 408.73 L806.9 407.87 L808.2 421.73 L810.8 406.13 L813.4 408.3 L815.56 410.47 L818.16 429.53 L819.9 419.13 L822.5 420 L825.96 418.26 L828.13 415.23 L830.3 417.4 L834.2 417.4 L836.36 421.3 L838.53 427.8 L840.26 424.76 L845.03 424.33 L845.9 400.5 L847.2 399.63 L848.76 387.93 L851.53 411.33 L854.13 408.73 L855.43 439.06 L858.46 438.2 L860.19 439.93 L861.93 436.46 L863.23 400.07 L865.39 416.1 L867.99 411.33 L870.59 414.8 L872.76 403.1 L875.36 402.23 L877.09 396.17 L878.39 397.47 L880.13 395.73 L881.86 394.43 L883.16 394.87 L884.89 426.5 L887.93 407.87 L888.79 414.8 L890.53 407 L893.56 418.26 L896.16 410.47 L898.33 421.73 L901.79 413.93 L903.53 425.2 L905 413.06 L905.87 407.87 L907.6 406.57 L909.33 419.13 L911.93 425.2 L913.23 401.8 L914.71 439.93 L916.7 439.06 L918 420 L919.04 437.33 L921.47 417.4 L923.63 428.66 L925.8 459 L927.71 417.4 L929.7 421.73 L930.83 413.06 L932.3 438.2 L934.9 435.6 L936.63 430.4 L938.8 427.8 L940.71 396.17 L942.27 405.27 L943.83 457.7 L945.04 437.33 L946.6 459.43 L949.2 430.4 L950.5 458.13 L952.23 433.86 L953.7 420 L955.26 444.26 L957 430.4 L958.3 420 L960.46 437.33 L962.2 439.5 L964.8 435.6 L966.53 446.86 L968.26 453.8 L969.56 446 L971.3 445.13 L972.42 379.27 L974.33 421.73 L976.93 426.06 L978.66 410.47 L980.4 393.57 L982.13 409.6 L983.86 431.26 L985.6 423.46 L986.9 432.13 L988.02 457.26 L989.76 405.27 L992.1 438.2 L993.83 392.27 L995.56 420 L996.86 435.6 L998.16 406.13 L1000.76 395.3 L1002.5 406.13 L1004.23 383.6 L1005.96 430.4 L1007.7 430.4 L1009.86 415.23 L1012.46 430.4 L1015.06 439.5 L1017.66 432.13 L1019.4 409.6 L1021.3 381.87 L1023.04 423.46 L1024.42 455.53 L1026.33 404.4 L1028.76 394.87 L1030.66 423.46 L1032.83 445.13 L1034.3 444.26 L1035.86 386.2 L1036.9 446.86 L1038.9 393.13 L1040.19 394 L1041.93 428.66 L1043.23 440.8 L1044.53 454.66 L1045.83 406.13 L1047.99 401.8 L1050.59 400.5 L1053.19 411.33 L1055.62 439.93 L1057.53 404.4 L1058.83 402.67 L1061.69 444.7 L1064.03 410.47 L1066.19 415.23 L1068.79 407 L1070.7 420.86 L1072.09 375.8 L1073.13 433.86 L1075.29 426.93 L1076.59 432.13 L1078.33 420 L1080.93 417.4 L1083.09 403.53 L1085 426.93 L1088.03 428.66 L1088.9 408.3 L1090.37 423.46 L1091.93 377.97 L1093.23 409.6 L1094.53 422.6 L1096.7 424.33 L1098.87 422.6 L1100.6 434.3 L1101.9 424.33 L1103.2 429.1 L1104.93 425.2 L1106.23 436.46 L1108.4 426.93 L1110.83 419.13 L1112.73 426.06 L1114.9 416.53 L1116.37 424.76 L1119.67 425.63 L1121.83 426.93 L1124.43 431.7 L1129.2 426.93 L1132.23 426.06 L1133.7 405.27 L1135.26 425.63 L1137.86 409.17 L1139.42 457.26 L1141.76 426.06 L1145.23 421.3 L1146.53 423.46 L1148.09 443.83 L1150.43 444.26 L1152.6 446.86 L1155.63 446.43 L1156.76 399.63 L1158.66 411.33 L1159.53 458.13 L1161.7 459 L1163.69 379.7 L1165.6 436.46 L1167.33 437.76 L1169.76 442.1 L1171.23 392.7 L1175.56 393.57 L1176.86 411.33 L1179.03 404.4 L1181.02 397.9 L1183.36 410.47 L1184.66 413.5 L1190.3 417.83 L1193.76 416.53 L1195.93 413.06 L1198.53 384.9 L1201.56 424.33 L1202.86 423.46 L1204.16 387.93 L1205.9 412.2 L1209.8 411.33 L1211.53 413.5 L1212.83 405.27 L1215.86 412.63 L1218.46 413.06 L1219.76 451.2 L1221.06 456.4 L1224.53 458.56 L1225.83 419.13 L1227.56 410.47 L1229.9 433.86 L1231.46 428.66 L1233.19 449.03 L1236.66 449.9 L1240.13 449.9 L1241.86 418.26 L1247.93 420 L1254.43 420.86 L1255.73 420 L1256.16 405.27 L1259.19 405.7 L1260.49 402.67 L1261.79 384.47 L1263.53 383.6 L1265 387.93 L1267.6 403.53 L1270.63 400.07 L1272.37 403.53 L1274.53 441.66 L1275.83 442.53 L1277.57 457.26 L1279.3 456.83 L1283.2 400.5 L1284.93 456.4 L1286.23 401.8 L1287.97 397.9 L1289.27 448.6 L1290.57 433.86 L1294.9 459 L1298.37 444.26 L1299.23 422.6 L1300.71 422.16 L1302.09 455.1 L1305.3 454.23 L1307.03 424.33 L1308.33 423.46 L1309.63 418.26 L1312.23 412.2 L1313.7 425.2 L1317 430.4 L1319.16 432.56 L1320.9 429.96 L1323.93 443.4 L1325.66 442.53 L1328.09 441.66 L1329.56 445.13 L1332.42 446.43 L1334.33 433.86 L1335.63 420 L1336.93 394 L1338.66 397.9 L1341.26 411.33 L1343 418.26 L1345.16 429.53 L1350.8 429.1 L1355.13 430.4 L1359.9 434.3 L1361.02 400.07 L1364.23 400.07 L1365.96 431.26 L1367.09 430.4 L1368.13 403.97 L1369.86 402.67 L1372.46 400.93 L1374.02 393.57 L1377.66 393.13 L1380.09 391.4 L1381.56 420 L1383.04 425.2 L1384.42 424.33 L1385.9 440.36 L1387.2 446.43 L1391.53 446.43 L1393.09 433 L1395 436.46 L1397.6 442.96 L1398.9 444.7 L1399.76 402.67 L1402.97 396.17 L1404.53 409.6 L1405.83 413.93 L1407.56 413.06 L1408.86 407 L1410.59 413.06 L1417.53 415.23 L1418.83 455.53 L1420.56 447.73 L1426.19 444.7 L1428.36 454.23 L1430.09 455.1 L1431.83 452.06 L1433.56 452.06 L1434.43 455.53 L1435.73 423.46 L1437.46 406.57 L1438.76 420 L1440.06 422.6 L1441.79 408.73 L1443.53 411.33 L1445 413.93 L1446.73 424.33 L1448.9 425.2 L1450.37 415.66 L1451.93 426.93 L1453.23 443.4 L1454.71 414.8 L1456.09 440.8 L1457.83 420 L1458.87 439.93 L1461.03 436.46 L1462.16 418.26 L1463.63 437.33 L1465.37 439.06 L1467.71 437.33 L1469.27 411.33 L1470.83 410.03 L1472.73 413.06 L1474.47 428.66 L1476.2 432.56 L1477.93 420.86 L1480.1 426.93 L1482.27 432.13 L1483.57 439.93 L1486.17 448.16 L1487.9 433.86 L1489.2 442.53 L1491.8 437.33 L1493.53 443.4 L1496.13 446.43 L1499.42 448.6 L1501.33 445.13 L1503.93 442.53 L1506.96 442.1 L1508.26 445.13 L1510.86 421.73 L1512.42 416.96 L1513.9 430.4 L1515.63 435.16 L1517.97 403.53 L1519.53 417.4 L1521.26 410.9 L1523.86 423.46 L1525.6 430.4 L1526.9 428.66 L1529.5 440.8 L1532.53 442.1 L1533.83 437.33 L1535.13 427.8 L1538.16 425.2 L1539.9 421.73 L1541.2 417.4 L1542.93 421.73 L1545.53 422.16 L1547.09 401.37 L1549 406.13 L1551.16 422.6 L1552.9 414.8 L1554.63 413.93 L1555.93 419.13 L1557.23 420 L1558.96 409.6 L1561.56 409.6 L1562.86 421.73 L1564.16 436.46 L1565.9 436.46 L1567.2 411.33 L1568.76 402.67 L1570.23 409.6 L1571.96 411.33 L1573.7 417.4 L1575 418.7 L1576.73 416.53 L1577.6 407 L1580.19 406.57 L1581.49 432.13 L1583.66 433 L1587.13 427.8 L1588.86 430.4 L1590.16 433.86 L1591.63 422.16 L1594.06 444.26 L1596.23 444.26 L1597.7 431.7 L1600.13 433.86 L1601.86 432.13 L1603.16 446.86 L1604.89 420 L1606.19 398.77 L1607.49 400.93 L1609.23 414.8 L1610.53 415.66 L1612.26 423.46 L1614.86 430.4 L1616.59 439.93 L1618.33 448.6 L1620.06 448.16 L1621.79 440.8 L1623.09 444.26 L1625 443.4 L1625.87 394 L1627.6 393.57 L1629.33 422.6 L1631.93 412.2 L1633.67 430.4 L1635.4 426.06 L1638.87 426.06 L1640.6 436.03 L1643.63 425.2 L1646.23 420 L1648.4 408.3 L1650.57 393.13 L1652.3 460.3 L1653.6 413.06 L1655.33 441.66 L1657.5 423.46 L1660.53 428.66 L1663.13 436.46 L1664.87 443.83 L1667.47 428.66 L1669.2 413.06 L1670.5 399.63 L1671.8 399.2 L1673.96 459.86 L1676.13 410.47 L1678.3 406.13 L1680.46 410.47 L1682.2 432.13 L1684.8 434.73 L1686.53 425.2 L1688.26 419.13 L1691.04 408.73 L1693.9 441.23 L1696.06 441.66 L1698.23 417.4 L1699.7 423.9 L1701.26 423.46 L1702.13 400.93 L1703.43 408.3 L1705.16 398.33 L1706.9 397.9 L1708.37 433.86 L1710.36 441.23 L1712.53 428.66 L1714.26 429.1 L1716.86 442.53 L1719.03 441.66 L1721.2 446.86 L1722.93 445.56 L1724.23 396.17 L1725.96 443.4 L1727.26 441.66 L1728.56 416.53 L1731.16 423.46 L1733.33 439.93 L1735.5 447.73 L1738.1 442.53 L1739.83 415.23 L1741.56 419.13 L1744.16 414.8 L1745.46 433.86 L1747.2 446.86 L1748.93 426.93 L1750.23 426.93 L1751.53 441.66 L1753.26 433 L1755.86 432.56 L1758.9 421.73 L1760.19 443.4 L1762.79 447.73 L1765.83 434.73 L1768.86 442.53 L1770.16 419.13 L1772.33 423.46 L1775.79 437.33 L1777.7 424.33 L1780.99 419.13 L1783.16 408.3 L1784.46 407.87 L1786.19 442.1 L1787.93 414.8 L1788.79 423.46 L1790.09 398.33 L1791.39 397.47" stroke="#008000" stroke-width="2.1" fill="none" stroke-linejoin="round" clip-path="url(#cML)"/>
<rect x="187.55" y="373" width="1728.45" height="90.3" fill="none" stroke="#0a0a0a" stroke-width="1.25"/>
<path d="M187.55 391.1H205.15" stroke="#8a8a8a" stroke-width="1.3" fill="none"/>
<path d="M1916 391.1H1898.4" stroke="#8a8a8a" stroke-width="1.3" fill="none"/>
<path d="M187.55 409.2H205.15" stroke="#2b2b2b" stroke-width="1.1" fill="none"/>
<path d="M1916 409.2H1898.4" stroke="#2b2b2b" stroke-width="1.1" fill="none"/>
<path d="M187.55 427.3H205.15" stroke="#2b2b2b" stroke-width="1.1" fill="none"/>
<path d="M1916 427.3H1898.4" stroke="#2b2b2b" stroke-width="1.1" fill="none"/>
<path d="M187.55 445.4H205.15" stroke="#2b2b2b" stroke-width="1.1" fill="none"/>
<path d="M1916 445.4H1898.4" stroke="#2b2b2b" stroke-width="1.1" fill="none"/>
<path d="M475.6 373v3.2 M475.6 463.3v-3.2 M763.6 373v3.2 M763.6 463.3v-3.2 M1051.6 373v3.2 M1051.6 463.3v-3.2 M1339.6 373v3.2 M1339.6 463.3v-3.2 M1627.6 373v3.2 M1627.6 463.3v-3.2 " stroke="#0a0a0a" stroke-width="1" fill="none"/>
<path d="M188.9 498.2 L190.63 499.93 L193.23 506 L194.53 504.27 L196.27 508.6 L198.87 489.97 L201.03 500.8 L203.2 502.53 L204.5 524.2 L206.23 528.96 L207.71 519 L209.7 522.46 L211.87 519 L214.9 516.4 L216.63 506.87 L219.23 506 L220.53 515.53 L222.27 526.8 L225.3 526.8 L226.17 487.37 L227.9 487.37 L230.06 489.97 L232.23 490.4 L233.1 522.46 L234.83 549.33 L236.13 550.2 L237.86 544.13 L240.46 542.4 L242.2 532.86 L243.93 520.73 L245.66 542.4 L246.96 544.13 L249.13 538.93 L250.43 535.03 L252.16 536.33 L254.33 534.16 L256.06 536.33 L257.8 541.53 L259.7 541.53 L261.26 536.33 L263.43 534.6 L266.46 534.16 L268.37 527.66 L270.36 528.96 L272.53 526.8 L274.26 510.33 L275.56 500.8 L277.3 505.13 L279.9 505.13 L282.5 504.27 L284.23 510.33 L287.26 506.87 L289 507.73 L291.6 511.63 L297.66 511.63 L299.83 506.87 L301.56 505.13 L304.16 505.57 L306.76 508.6 L309.8 505.13 L315 504.27 L316.73 507.73 L318.9 519 L320.37 522.46 L321.93 538.06 L322.97 537.2 L324.7 506.87 L325.83 506.87 L327.56 543.26 L328.86 543.26 L330.59 550.2 L333.19 551.06 L334.93 542.4 L337.09 541.1 L338.83 519 L340.13 504.27 L341.86 512.93 L342.9 499.93 L346.19 494.73 L348.79 494.3 L351.83 496.9 L356.16 495.17 L358.33 497.33 L360.49 502.1 L361.79 499.5 L365 504.27 L367.6 500.37 L368.9 505.13 L371.93 497.33 L376.27 495.6 L381.03 493.43 L384.93 493 L387.97 491.7 L391.87 492.57 L394.9 496.03 L396.2 505.13 L397.76 520.73 L400.53 532.86 L402.27 528.1 L403.83 533.73 L405.04 549.33 L406.43 519 L407.64 514.23 L409.2 526.8 L410.76 540.23 L413.1 522.46 L414.83 519.43 L417 528.96 L420.46 523.33 L423.93 526.8 L426.53 527.23 L428.26 524.63 L429.56 512.06 L430.86 522.46 L433.03 525.06 L435.2 519 L436.93 516.4 L439.53 504.27 L441.09 516.83 L442.13 492.57 L443.86 500.8 L445.16 495.6 L446.9 505.13 L448.63 526.8 L449.93 541.53 L451.66 533.73 L453.83 531.13 L455.56 490.83 L457.3 490.83 L458.6 503.4 L459.9 516.83 L463.8 516.83 L467.26 516.4 L471.6 513.8 L475.93 512.06 L477.66 517.26 L478.53 529.4 L480.26 529.4 L481.56 516.4 L484.16 503.4 L485.64 488.23 L487.2 489.97 L489.8 514.66 L490.84 484.33 L492.4 486.93 L494.13 483.47 L495.86 501.67 L497.42 507.73 L499.33 519 L500.37 527.66 L502.79 507.73 L504.53 520.73 L507.13 502.53 L509.29 501.67 L511.89 492.13 L514.06 490.83 L516.23 490.83 L517.53 504.27 L520.13 506 L522.73 512.06 L524.46 514.23 L527.06 522.03 L529.66 522.03 L532.26 521.16 L533.99 504.27 L535.9 496.47 L537.46 535.46 L541.79 535.9 L543.09 518.13 L545 517.7 L547.6 520.3 L548.9 540.66 L550.37 543.26 L552.37 532 L553.67 531.13 L556.27 534.6 L558.87 537.2 L560.6 522.46 L562.77 524.2 L564.5 553.66 L566.23 547.6 L568.83 548.03 L570.83 532 L572.73 541.96 L574.9 544.13 L577.5 543.26 L581.4 544.13 L585.04 547.16 L588.33 546.3 L590.93 546.73 L592.23 548.46 L593.53 526.8 L596.13 527.66 L597.86 528.53 L599.42 538.5 L602.2 538.06 L604.8 527.66 L606.96 538.06 L609.56 546.73 L611.04 535.46 L613.9 526.8 L616.06 521.6 L618.23 519.86 L619.53 529.4 L622.56 533.73 L624.73 525.93 L627.33 516.4 L629.5 515.53 L631.23 513.8 L632.53 529.4 L635.13 538.93 L637.04 532 L639.9 526.8 L641.63 532.86 L644.23 540.23 L647.09 533.73 L649.86 530.26 L651.42 525.06 L652.9 528.96 L655.5 531.13 L657.23 534.6 L660.26 533.73 L663.04 536.33 L664.42 547.16 L667.2 542.83 L668.5 543.7 L669.8 554.1 L671.36 544.56 L672.83 550.2 L674.56 548.9 L675.86 557.56 L678.9 558 L680.19 549.33 L681.49 546.73 L682.97 558.43 L684.53 546.73 L687.13 547.6 L691.46 550.63 L692.76 527.66 L694.49 515.1 L696.23 512.93 L697.96 510.33 L700.13 510.77 L701.86 514.23 L703.59 509.47 L706.02 505.57 L707.49 509.47 L708.97 543.7 L710.53 542.4 L713.99 535.46 L717.46 531.13 L719.19 519 L720.93 518.13 L722.23 533.73 L725 538.93 L726.3 538.93 L727.6 497.77 L730.2 496.9 L733.23 499.07 L736.27 499.93 L739.3 499.93 L741.9 497.77 L744.93 497.77 L746.23 499.5 L747.71 496.47 L751 494.73 L752.73 495.17 L754.03 497.77 L755.33 494.73 L756.63 501.67 L757.93 495.17 L759.67 501.67 L760.97 506.87 L762.27 504.27 L763.57 550.63 L765.04 502.53 L766.17 505.13 L767.64 498.2 L770.5 500.37 L772.23 498.2 L774.4 496.9 L776.13 492.57 L777.86 491.7 L779.42 488.67 L781.33 499.5 L782.89 501.23 L785.23 517.26 L786.96 518.13 L789.56 514.66 L791.73 514.23 L793.9 537.63 L795.37 516.83 L798.23 519.86 L799.7 552.36 L801.26 553.66 L802.56 550.2 L804.04 552.36 L805.16 483.03 L808.37 483.03 L809.76 495.6 L811.23 538.06 L813.83 538.5 L816 534.6 L818.16 533.73 L819.9 506 L821.2 530.26 L823.8 516.83 L825.53 508.17 L827.09 526.36 L828.56 524.2 L830.3 505.57 L832.9 519.86 L834.37 510.33 L835.93 509.47 L836.97 492.57 L838.53 501.67 L841.13 502.1 L844.16 503.4 L845.64 490.83 L847.2 510.33 L848.5 526.36 L850.66 527.66 L852.4 532 L854.13 506.87 L855.86 505.13 L857.42 495.17 L858.9 507.3 L861.06 503.83 L862.79 519 L864.35 490.83 L865.83 493 L867.56 506 L868.86 506.43 L870.59 531.56 L872.33 496.47 L874.23 493.87 L875.97 493 L877.53 507.73 L880.13 530.26 L881.86 545 L883.59 519 L884.63 500.37 L886.19 515.53 L888.36 523.33 L890.53 522.46 L893.13 523.33 L895.29 505.13 L896.59 501.23 L898.76 500.37 L900.49 497.77 L901.79 500.37 L905 500.37 L910.2 500.37 L913.23 501.67 L917.57 504.27 L919.3 515.53 L923.2 512.06 L925.8 523.33 L927.71 522.46 L929.27 525.06 L930.57 484.33 L932.3 531.13 L934.03 529.4 L935.16 506.87 L936.37 515.53 L937.76 486.93 L939.49 554.53 L940.71 527.66 L943.57 532.86 L946.17 526.8 L947.9 519.86 L949.63 532 L952.23 522.46 L954.83 515.53 L956.56 487.37 L958.04 529.4 L960.46 513.8 L962.63 515.53 L964.8 519 L966.96 532.86 L969.56 502.97 L971.73 508.6 L974.16 502.97 L976.06 513.8 L978.23 558.86 L979.7 483.9 L981.26 512.06 L983.86 486.93 L985.16 495.6 L986.9 490.4 L989.76 532.86 L990.97 488.23 L992.53 512.06 L993.83 491.27 L995.56 537.2 L996.86 505.13 L998.6 513.8 L1001.2 513.8 L1002.76 503.4 L1005.53 522.46 L1007.26 531.56 L1010.3 524.2 L1012.46 505.13 L1014.37 516.4 L1016.36 515.53 L1018.1 483.9 L1021.3 551.5 L1023.04 480 L1025.03 492.13 L1027.2 492.57 L1028.93 532.86 L1031.53 533.3 L1032.83 524.2 L1034.3 502.53 L1035.86 525.93 L1037.6 519 L1040.19 529.4 L1042.79 536.33 L1044.53 518.13 L1051.89 516.83 L1052.76 483.47 L1055.79 484.77 L1060.13 483.9 L1061.69 559.3 L1063.59 548.46 L1064.89 509.47 L1067.49 530.26 L1070.96 529.83 L1073.13 513.8 L1074.86 515.53 L1076.16 480.87 L1078.33 482.6 L1080.49 481.3 L1081.79 527.66 L1083.53 559.73 L1085 542.4 L1087.17 520.3 L1088.9 543.26 L1090.37 493 L1091.93 483.9 L1093.67 484.33 L1094.71 518.13 L1096.09 484.33 L1097.83 524.2 L1100.6 522.46 L1103.2 518.13 L1106.23 512.93 L1109.27 508.6 L1111.87 512.06 L1113.43 497.33 L1114.9 510.77 L1116.37 508.17 L1118.37 512.06 L1119.49 511.2 L1120.53 518.56 L1122.09 509.9 L1123.57 511.63 L1125.04 505.13 L1126.6 504.27 L1128.16 496.03 L1129.37 500.8 L1130.93 528.1 L1132.66 512.93 L1133.7 483.47 L1135.26 503.4 L1137 491.27 L1138.04 483.47 L1140.46 484.33 L1142.2 499.93 L1143.93 517.26 L1145.23 519.86 L1146.7 499.93 L1148.26 490.83 L1149.56 491.27 L1151.04 488.67 L1153.03 487.8 L1154.33 489.53 L1156.06 503.4 L1156.93 515.53 L1158.66 516.83 L1160.57 511.2 L1162.13 512.5 L1164.73 512.06 L1167.33 512.93 L1169.93 513.8 L1171.66 520.73 L1175.13 520.73 L1177.04 519.86 L1178.6 522.03 L1179.9 512.06 L1181.37 510.77 L1182.76 505.13 L1184.23 505.13 L1185.36 558 L1186.83 519.86 L1189 520.3 L1191.42 520.73 L1194.02 536.33 L1195.5 481.3 L1196.8 520.73 L1198.53 560.6 L1200.26 557.56 L1201.56 515.53 L1202.86 524.2 L1204.42 545.86 L1205.9 529.4 L1207.2 528.96 L1209.8 533.3 L1214.56 533.73 L1215.86 499.5 L1218.46 499.5 L1219.76 511.2 L1221.93 515.53 L1224.09 525.93 L1225.83 516.83 L1227.56 522.46 L1228.86 501.23 L1234.06 501.67 L1240.56 501.67 L1241.86 544.13 L1244.46 538.5 L1246.37 538.5 L1247.93 545 L1248.97 527.23 L1251.39 525.93 L1253.13 524.63 L1254.69 527.23 L1257.46 544.13 L1258.76 510.33 L1260.49 510.77 L1262.23 525.93 L1265 526.8 L1266.73 515.53 L1268.9 509.9 L1270.37 508.6 L1272.37 501.67 L1274.53 500.37 L1277.57 500.37 L1279.04 497.77 L1280.6 521.16 L1283.63 511.2 L1286.23 501.67 L1289.27 499.5 L1293.6 498.63 L1296.37 497.33 L1299.23 496.9 L1300.71 521.16 L1302.27 505.13 L1303.57 496.47 L1305.04 495.6 L1306.6 512.5 L1310.06 511.63 L1312.23 524.2 L1313.7 522.46 L1315.26 512.5 L1317.86 511.63 L1319.42 509.47 L1322.2 509.9 L1323.24 493 L1325.66 493 L1328.09 490.4 L1329.56 501.67 L1331.04 521.6 L1333.46 522.46 L1334.76 521.16 L1336.76 541.53 L1339.53 539.8 L1344.04 540.66 L1345.16 493.87 L1346.9 496.47 L1350.36 496.9 L1352.53 494.73 L1356 493.87 L1359.64 493 L1361.2 521.6 L1363.36 521.6 L1365.53 507.73 L1369 507.73 L1372.9 508.17 L1374.2 524.63 L1376.36 521.16 L1379.4 520.73 L1381.56 535.03 L1384.6 525.93 L1388.06 515.1 L1389.8 514.23 L1392.4 513.8 L1394.56 518.13 L1397.6 520.73 L1399.76 521.16 L1401.93 514.23 L1403.66 512.5 L1408.86 512.06 L1409.9 504.7 L1411.89 504.7 L1414.49 512.93 L1417.53 522.03 L1420.56 529.4 L1424.46 519 L1427.93 518.13 L1431.83 515.1 L1433.56 518.13 L1435.29 522.46 L1437.46 535.46 L1438.76 536.33 L1440.49 528.96 L1442.23 531.13 L1445 515.53 L1446.3 514.66 L1448.47 514.66 L1450.37 521.6 L1451.5 483.47 L1452.8 483.47 L1453.67 522.46 L1455.83 529.4 L1458 529.83 L1459.3 543.26 L1461.9 543.7 L1463.37 494.73 L1466.23 496.9 L1469.27 500.37 L1471.87 497.77 L1474.9 498.2 L1476.37 508.6 L1478.37 517.26 L1479.23 523.33 L1482.09 519.86 L1484.43 527.66 L1486.6 520.73 L1487.9 517.7 L1489.63 522.46 L1492.23 510.77 L1494.4 520.73 L1496.3 512.5 L1498.73 519 L1501.33 519.86 L1502.2 512.5 L1503.93 536.33 L1504.8 505.13 L1506.7 501.67 L1508.09 535.46 L1509.56 535.03 L1511.04 499.93 L1513.9 490.4 L1516.5 500.37 L1518.23 497.77 L1520.83 502.1 L1522.56 496.47 L1525.6 499.93 L1526.9 498.2 L1528.37 488.67 L1530.8 495.17 L1535.56 496.47 L1537.73 497.77 L1542.76 497.33 L1544.23 528.96 L1545.53 509.9 L1546.83 522.46 L1549 536.33 L1551.42 552.36 L1554.63 544.13 L1557.23 535.46 L1558.53 508.6 L1560.26 510.33 L1561.56 519 L1563.04 534.6 L1564.42 545.86 L1565.64 534.6 L1568.76 530.7 L1571.53 536.33 L1574.3 545 L1575.86 545.43 L1578.46 525.93 L1581.49 527.66 L1583.66 518.13 L1588.86 519.43 L1592.76 519 L1594.23 520.73 L1596.23 517.26 L1598.83 518.13 L1600.99 514.66 L1602.9 505.57 L1604.46 519 L1607.23 546.3 L1609.66 531.13 L1611.83 519 L1614.69 507.73 L1617.46 507.73 L1620.06 509.47 L1621.79 508.6 L1623.53 511.2 L1625 499.93 L1626.3 496.03 L1628.47 499.93 L1630.37 499.93 L1631.93 509.03 L1633.67 506.87 L1634.71 498.63 L1636.27 499.5 L1637.83 498.2 L1639.3 507.73 L1641.9 521.16 L1643.37 515.53 L1645.8 516.83 L1647.97 512.06 L1650.13 513.36 L1651.87 519 L1654.9 535.03 L1656.37 484.33 L1657.76 503.4 L1659.23 520.73 L1662.09 505.57 L1663.57 518.13 L1665.04 510.33 L1667.9 510.77 L1669.2 522.46 L1670.76 535.9 L1672.23 519.43 L1674.83 534.6 L1677 530.26 L1679.42 526.8 L1682.2 529.83 L1684.8 528.1 L1686.7 531.13 L1688.09 523.76 L1689.56 530.26 L1691.04 522.9 L1692.42 529.4 L1693.9 516.83 L1695.63 526.8 L1696.93 535.46 L1698.66 528.96 L1700.83 522.46 L1702.56 513.8 L1705.16 513.36 L1706.9 526.8 L1708.37 560.16 L1710.36 526.8 L1712.53 526.8 L1715.13 559.73 L1716.86 507.73 L1718.16 500.8 L1719.9 559.73 L1721.2 559.73 L1722.93 525.93 L1724.23 514.23 L1726.83 508.17 L1728.3 500.37 L1729.86 522.46 L1731.42 538.93 L1734.37 527.66 L1735.5 493 L1737.66 512.06 L1739.83 493 L1741.56 515.53 L1742.69 535.9 L1744.42 493 L1745.64 484.77 L1747.2 559.3 L1749.8 560.16 L1751.53 523.33 L1755 523.33 L1757.16 502.53 L1758.9 497.33 L1760.37 559.73 L1761.49 558.86 L1762.97 514.23 L1764.53 519 L1767.13 514.66 L1770.59 518.13 L1771.63 484.33 L1773.19 559.73 L1774.93 559.3 L1777.53 510.33 L1779.26 508.6 L1780.13 510.77 L1781.69 506 L1783.59 512.06 L1786.37 511.2 L1787.49 483.9 L1788.97 533.73 L1791.39 531.13" stroke="#0000ff" stroke-width="2.1" fill="none" stroke-linejoin="round" clip-path="url(#cAP)"/>
<path d="M188.9 517.26 L190.2 519 L191.93 524.63 L193.67 506.87 L194.71 501.23 L195.83 522.46 L197.57 522.9 L199.3 519.43 L202.77 519.86 L204.76 495.6 L206.23 511.2 L207.71 512.93 L209.27 519 L210.57 509.03 L211.87 533.3 L213.17 497.33 L214.9 497.33 L216.63 504.27 L219.23 507.73 L220.97 516.4 L224.43 516.83 L226.6 501.23 L229.2 499.07 L232.23 497.33 L233.53 560.16 L237.86 557.56 L239.42 548.46 L241.33 543.26 L243.5 522.46 L245.66 507.73 L246.7 501.67 L248.7 535.9 L250.86 538.93 L253.03 539.8 L254.76 538.5 L256.93 531.56 L261.26 528.1 L264.3 528.96 L267.33 532.86 L269.5 535.46 L271.23 519 L274.09 493 L276.86 494.73 L278.6 496.9 L279.9 507.73 L281.37 504.27 L282.76 517.26 L284.23 517.26 L285.53 511.2 L288.56 512.06 L289.86 517.26 L292.9 514.66 L295.5 514.66 L296.8 516.4 L298.53 522.9 L300.26 524.2 L302.86 521.6 L307.2 520.3 L309.8 532.43 L311.53 530.26 L312.83 504.7 L314.13 504.7 L315.69 541.96 L320.19 543.26 L321.49 504.7 L322.79 504.7 L324.53 531.56 L327.13 548.46 L332.33 548.9 L334.06 536.33 L336.23 529.4 L338.39 522.46 L340.99 522.9 L342.73 525.93 L344.89 519 L347.49 500.8 L349.23 507.73 L350.53 508.17 L351.83 515.53 L356.16 514.23 L357.89 517.26 L360.49 525.93 L363.53 527.66 L365 531.13 L365.87 519 L368.03 518.13 L370.2 522.46 L371.5 535.46 L373.23 532.86 L374.97 539.8 L378.87 539.8 L380.6 532.43 L383.63 532 L385.8 526.8 L389.09 515.53 L390.57 524.2 L394.9 512.93 L397.76 511.2 L400.53 506.87 L402.27 506.87 L403.57 502.1 L405.04 508.6 L407.47 507.73 L409.2 509.9 L410.93 519 L412.23 540.23 L413.7 544.13 L416.13 540.66 L417.86 538.93 L420.46 532.86 L422.63 526.8 L425.23 523.76 L426.53 496.03 L428.26 520.73 L429.56 514.23 L431.3 522.46 L433.46 516.83 L435.2 533.73 L436.5 528.96 L438.66 533.73 L442.13 532.86 L443.86 559.3 L450.8 558.86 L452.53 505.13 L453.83 486.93 L455.56 483.03 L458.16 481.73 L459.9 502.53 L461.63 512.06 L462.93 511.63 L465.53 491.7 L467.09 519 L468.56 532 L471.6 503.4 L472.9 513.8 L474.37 509.47 L475.93 534.6 L477.23 534.16 L478.53 480 L479.83 531.13 L481.13 515.1 L482.43 523.33 L485.46 512.06 L487.2 521.6 L490.23 521.16 L492.83 535.9 L494.56 512.06 L496.73 516.4 L498.9 515.53 L500.19 559.3 L501.49 533.73 L502.79 532.86 L504.53 523.33 L507.13 538.93 L509.9 560.16 L511.63 543.7 L513.19 559.73 L515.79 560.16 L517.09 503.83 L520.13 507.73 L521.86 512.06 L523.59 521.6 L524.89 523.33 L526.02 495.17 L527.49 519 L531.39 519 L533.13 483.47 L534.69 495.6 L537.03 485.2 L538.76 483.9 L541.79 488.23 L545 489.1 L546.73 489.53 L548.47 496.47 L550.37 491.7 L551.93 503.4 L553.23 526.36 L554.71 527.66 L558.87 553.66 L563.63 555.4 L564.76 502.53 L566.23 522.46 L567.71 506.43 L569.27 507.3 L570.83 516.4 L573.6 491.27 L574.9 512.06 L576.37 551.06 L577.5 530.26 L579.23 547.16 L580.71 514.66 L582.27 550.2 L583.57 551.06 L586.17 546.73 L587.47 535.46 L589.2 533.73 L592.66 533.3 L594.83 514.66 L596.13 516.83 L598.04 541.53 L601.76 539.8 L603.93 517.26 L605.23 515.1 L606.96 519 L608.26 535.46 L609.56 526.8 L611.04 525.93 L612.42 505.13 L615.2 508.6 L616.93 509.47 L619.53 514.23 L621.26 513.8 L623.43 519.86 L625.16 519 L626.9 515.1 L629.5 517.26 L631.23 519.86 L633.83 506.87 L635.56 506.43 L636.86 510.33 L638.6 525.93 L639.9 525.06 L641.2 511.2 L642.5 524.2 L645.53 526.8 L647.26 512.93 L649.86 519 L651.16 519 L654.02 505.13 L655.5 503.4 L656.97 498.63 L659.4 512.06 L661.56 517.26 L664.6 521.6 L667.2 527.66 L669.8 534.6 L671.36 539.8 L672.83 533.3 L675.86 536.33 L678.46 538.93 L680.19 532 L683.66 531.13 L687.13 526.8 L690.16 531.13 L691.46 513.8 L692.76 492.57 L694.49 493.87 L696.23 492.57 L697.53 506 L700.13 526.36 L701.43 521.6 L704.89 522.46 L706.19 512.93 L707.49 531.56 L710.53 527.66 L711.83 514.66 L714.69 551.93 L715.9 539.8 L718.33 532.43 L719.19 545.43 L720.93 488.67 L722.23 480.87 L725 480 L726.3 480.87 L728.03 495.17 L731.5 495.6 L733.67 501.23 L735.83 501.23 L737.57 515.96 L740.6 519.86 L741.9 521.6 L743.37 519.86 L746.23 525.93 L747.71 533.73 L749.27 514.23 L750.57 515.96 L753.17 514.66 L754.9 521.16 L756.37 520.73 L757.76 507.73 L760.53 506.87 L762.27 520.73 L763.57 520.73 L765.04 507.73 L767.47 515.53 L769.2 507.3 L770.93 532.86 L772.23 555.83 L774.4 541.96 L777 534.6 L779.42 515.53 L780.9 534.16 L782.63 526.8 L783.93 531.56 L785.66 532 L786.7 520.3 L789.56 520.73 L791.73 517.7 L796.5 518.13 L798.66 514.66 L799.7 507.73 L801.26 506.87 L802.56 496.9 L804.04 519 L805.6 540.23 L806.9 501.23 L808.2 538.06 L809.5 500.8 L810.8 518.13 L812.53 501.23 L814.26 501.23 L816 504.27 L818.16 558 L821.2 545 L822.76 509.47 L823.8 548.03 L825.53 547.6 L827.26 538.06 L829 535.9 L831.16 538.06 L833.33 534.16 L835.5 533.73 L837.23 536.33 L839.4 542.4 L841.13 543.26 L844.6 543.26 L845.64 524.2 L847.2 523.33 L848.5 506 L849.97 523.33 L851.53 507.73 L854.56 505.57 L855.43 482.17 L858.46 483.47 L860.19 493 L861.49 487.37 L862.97 532.86 L864.53 535.03 L867.99 533.73 L870.59 532.86 L873.19 543.26 L874.93 534.6 L877.53 505.57 L878.83 532.86 L880.13 534.6 L881.86 502.53 L882.73 502.1 L884.46 543.26 L886.19 542.83 L887.49 506 L888.79 505.13 L891.83 525.06 L894.86 536.33 L896.16 538.06 L897.89 545.86 L900.06 548.03 L901.79 547.6 L903.53 554.96 L905 554.53 L907.6 543.7 L909.33 553.66 L912.37 557.13 L913.67 477.83 L914.97 522.46 L916.7 522.46 L919.04 504.7 L920.6 514.23 L923.63 516.83 L925.37 516.83 L926.67 493 L927.97 483.03 L930.13 485.63 L931.87 484.77 L934.03 512.06 L935.77 507.73 L937.5 516.83 L939.23 516.4 L942.09 482.17 L943.13 525.06 L945.04 525.06 L946.6 494.73 L947.64 556.7 L949.2 540.66 L950.5 556.7 L952.23 480.87 L953.7 510.33 L955.26 509.47 L956.82 530.26 L958.3 489.97 L960.03 515.1 L962.63 519.86 L964.97 508.17 L966.7 558.43 L968.26 558 L971.04 497.33 L972.42 496.9 L974.33 529.4 L976.06 524.2 L978.23 534.6 L979.7 512.06 L981.26 488.67 L982.82 515.53 L985.16 528.53 L986.9 525.93 L989.5 482.6 L991.23 480.87 L993.4 488.23 L995.56 480.87 L996.86 486.93 L998.16 481.73 L999.9 492.13 L1001.2 533.73 L1002.76 480.87 L1004.23 492.13 L1005.96 520.73 L1007.7 522.03 L1009.86 512.06 L1012.46 519 L1014.37 496.03 L1015.76 510.33 L1017.66 508.17 L1019.83 482.17 L1021.56 495.6 L1023.04 483.9 L1024.42 493 L1025.9 516.4 L1028.5 531.56 L1029.97 480.87 L1031.53 515.53 L1034.13 485.63 L1035.86 492.13 L1037.16 559.73 L1038.9 532.86 L1040.37 531.13 L1041.93 480.87 L1042.97 480.87 L1044.53 537.63 L1046.26 487.37 L1048.86 487.37 L1050.59 499.07 L1051.63 480.87 L1053.19 486.5 L1055.79 487.8 L1057.53 485.63 L1060.13 481.3 L1061.69 489.53 L1063.59 520.73 L1064.89 501.23 L1067.49 485.2 L1070.53 518.13 L1072.26 504.27 L1073.13 532 L1074.69 480.87 L1076.16 519 L1077.89 530.7 L1080.93 531.56 L1082.66 546.73 L1085 511.2 L1086.3 508.6 L1087.6 515.53 L1088.9 480.43 L1090.63 479.13 L1093.23 509.47 L1094.71 480.87 L1096.27 495.6 L1098.87 496.03 L1100.6 523.33 L1103.2 515.53 L1105.8 509.9 L1106.67 495.6 L1107.71 477.4 L1109.27 512.06 L1111.87 489.97 L1113.6 489.97 L1115.16 496.9 L1116.37 488.23 L1120.53 487.37 L1123.13 494.73 L1125.04 494.73 L1127.64 486.07 L1130.06 486.5 L1132.23 488.23 L1133.7 506 L1135.09 481.73 L1136.82 523.76 L1137.86 480.87 L1140.9 499.5 L1141.76 480.87 L1143.93 481.3 L1146.96 481.73 L1148.09 560.16 L1151.04 559.3 L1152.6 560.16 L1155.63 559.3 L1156.93 519 L1158.66 509.9 L1161.26 509.03 L1162.3 521.6 L1163.86 496.47 L1165.6 512.93 L1169.5 514.23 L1171.23 526.8 L1172.53 525.93 L1175.13 525.5 L1176.86 519.43 L1179.9 519 L1181.2 512.93 L1182.76 518.13 L1185.36 518.13 L1186.83 497.33 L1188.13 496.9 L1189.86 536.33 L1191.16 535.9 L1192.9 527.66 L1194.37 506.87 L1195.93 493.87 L1198.53 502.53 L1199.83 481.3 L1202.43 524.2 L1204.42 491.27 L1205.64 483.9 L1209.8 482.6 L1211.53 491.27 L1212.83 507.3 L1214.3 489.97 L1215.86 497.77 L1218.9 496.9 L1221.93 496.47 L1224.09 495.6 L1225.83 490.83 L1227.56 509.47 L1229.9 535.03 L1231.46 530.26 L1233.19 545.86 L1234.93 547.6 L1237.53 547.6 L1238.83 549.33 L1240.56 546.73 L1244.46 545.86 L1247.06 546.73 L1254.43 546.3 L1255.9 522.46 L1257.63 538.5 L1260.49 539.36 L1261.79 519 L1263.53 516.4 L1265 514.23 L1267.17 522.03 L1270.37 521.6 L1272.37 532.86 L1274.71 545.86 L1276.27 545.86 L1277.83 499.93 L1279.3 498.63 L1281.9 516.4 L1283.37 500.37 L1284.76 501.23 L1287.71 495.17 L1289.27 519 L1290.83 552.8 L1293.6 528.96 L1294.9 534.16 L1296.37 517.26 L1297.93 507.73 L1299.23 492.57 L1302.27 496.9 L1304.43 496.9 L1306.6 493 L1309.2 504.27 L1310.93 505.13 L1312.23 502.97 L1313.7 507.73 L1316.82 507.3 L1319.42 505.13 L1320.9 509.9 L1323.93 509.03 L1326.53 502.53 L1328.09 501.67 L1332.42 492.13 L1335.63 515.53 L1344.04 536.33 L1345.16 489.97 L1346.9 490.4 L1359.9 485.63 L1361.37 502.1 L1363.8 502.1 L1365.53 483.03 L1366.83 483.03 L1368.3 537.63 L1369.86 538.06 L1371.42 519.86 L1374.37 520.73 L1380.26 520.73 L1381.56 500.8 L1383.3 506 L1384.42 505.57 L1385.9 514.23 L1388.06 515.53 L1391.1 515.1 L1392.83 525.93 L1397.16 526.8 L1398.9 536.76 L1400.19 536.33 L1402.97 524.2 L1405.83 526.8 L1408.86 517.26 L1411.03 512.5 L1413.19 512.93 L1414.93 538.06 L1416.23 539.36 L1417.53 553.23 L1418.83 518.13 L1420.56 521.16 L1426.19 519.86 L1430.53 519 L1431.83 515.53 L1433.56 517.26 L1434.86 531.13 L1435.9 550.63 L1437.46 532.86 L1438.76 550.2 L1440.06 550.2 L1441.79 538.06 L1445 541.53 L1446.3 544.56 L1449.33 545.86 L1450.63 545.86 L1451.93 497.33 L1453.23 519.86 L1454.71 483.9 L1455.83 493 L1457.57 491.7 L1460.17 492.57 L1461.9 485.63 L1463.37 492.13 L1467.71 491.27 L1469.27 485.63 L1471.87 488.67 L1473.6 492.57 L1476.63 494.73 L1477.76 529.4 L1479.23 532 L1481.4 524.2 L1483.57 531.13 L1486.6 534.16 L1488.16 524.2 L1491.8 520.73 L1495.26 523.33 L1498.73 527.66 L1501.33 525.93 L1504.8 528.1 L1508.26 523.33 L1509.82 520.73 L1512.42 496.03 L1514.16 507.3 L1516.5 506.87 L1521.26 516.4 L1523.86 522.46 L1526.64 512.93 L1528.37 516.83 L1530.8 516.83 L1532.53 519 L1534.26 516.4 L1535.56 506.87 L1538.16 512.06 L1539.9 520.73 L1541.2 532.86 L1542.5 538.93 L1544.23 510.33 L1546.83 506.87 L1549.86 507.3 L1551.16 508.6 L1552.9 548.46 L1554.2 548.9 L1555.76 517.26 L1557.23 515.53 L1558.53 492.57 L1561.56 492.57 L1562.69 547.6 L1565.46 547.6 L1567.2 530.26 L1568.76 526.8 L1572.4 530.26 L1575.43 536.33 L1577.16 519.86 L1580.19 519.43 L1581.49 508.17 L1583.66 506.87 L1587.13 507.3 L1588.86 510.77 L1590.59 511.2 L1593.63 516.4 L1595.79 515.53 L1597.53 512.06 L1601.86 509.47 L1603.16 526.36 L1606.19 525.93 L1607.49 514.66 L1608.97 532.86 L1611.39 534.16 L1613.56 533.73 L1615.9 539.8 L1617.46 519 L1618.76 502.1 L1620.49 502.53 L1621.79 507.73 L1623.53 507.73 L1625 524.2 L1627.17 529.83 L1628.9 522.46 L1630.37 521.6 L1632.8 518.13 L1635.4 513.8 L1638 512.06 L1639.3 512.06 L1640.6 507.3 L1643.2 512.5 L1644.93 526.8 L1647.71 524.2 L1650.13 521.6 L1652.04 492.13 L1653.17 529.4 L1655.16 512.06 L1657.76 523.33 L1660.71 521.16 L1663.13 516.83 L1665.04 511.63 L1667.9 523.33 L1669.2 522.46 L1670.5 483.9 L1672.23 485.2 L1673.7 493 L1675.26 526.8 L1676.82 512.93 L1679.16 511.63 L1680.9 517.26 L1682.63 526.36 L1684.97 526.36 L1686.7 532 L1688.09 530.26 L1689.3 540.23 L1690.86 531.13 L1693.9 559.3 L1696.76 559.73 L1698.23 534.16 L1701.26 532.86 L1702.3 511.63 L1703.86 519 L1705.6 508.17 L1706.9 508.6 L1709.5 520.73 L1710.8 538.06 L1712.53 527.66 L1714.09 543.26 L1715.56 536.33 L1717.73 558.43 L1719.9 544.56 L1721.2 558.86 L1722.93 558 L1724.23 531.56 L1725.53 540.66 L1727.09 512.06 L1729.86 532.86 L1731.6 480.43 L1734.37 559.3 L1738.53 558.86 L1739.83 528.53 L1741.56 531.56 L1744.16 532 L1747.2 558.43 L1749.8 481.3 L1751.53 519 L1754.13 518.13 L1757.16 522.46 L1760.37 558.86 L1761.93 558.86 L1764.53 524.2 L1765.83 523.76 L1768.86 559.3 L1770.59 531.56 L1775.79 521.6 L1778.39 529.4 L1783.59 509.9 L1784.46 510.33 L1786.02 559.73 L1788.97 518.13 L1790.96 512.06" stroke="#008000" stroke-width="2.1" fill="none" stroke-linejoin="round" clip-path="url(#cAP)"/>
<rect x="187.55" y="472.4" width="1728.45" height="89.8" fill="none" stroke="#0a0a0a" stroke-width="1.25"/>
<path d="M187.55 489.9H205.15" stroke="#8a8a8a" stroke-width="1.3" fill="none"/>
<path d="M1916 489.9H1898.4" stroke="#8a8a8a" stroke-width="1.3" fill="none"/>
<path d="M187.55 508.5H205.15" stroke="#2b2b2b" stroke-width="1.1" fill="none"/>
<path d="M1916 508.5H1898.4" stroke="#2b2b2b" stroke-width="1.1" fill="none"/>
<path d="M187.55 526.3H205.15" stroke="#2b2b2b" stroke-width="1.1" fill="none"/>
<path d="M1916 526.3H1898.4" stroke="#2b2b2b" stroke-width="1.1" fill="none"/>
<path d="M187.55 544.3H205.15" stroke="#2b2b2b" stroke-width="1.1" fill="none"/>
<path d="M1916 544.3H1898.4" stroke="#2b2b2b" stroke-width="1.1" fill="none"/>
<path d="M475.6 472.4v3.2 M475.6 562.2v-3.2 M763.6 472.4v3.2 M763.6 562.2v-3.2 M1051.6 472.4v3.2 M1051.6 562.2v-3.2 M1339.6 472.4v3.2 M1339.6 562.2v-3.2 M1627.6 472.4v3.2 M1627.6 562.2v-3.2 " stroke="#0a0a0a" stroke-width="1" fill="none"/>
<text x="186.3" y="383.7" font-size="25" text-anchor="end" fill="#1a1a1a">1.0</text>
<text x="186.3" y="417.8" font-size="25" text-anchor="end" fill="#1a1a1a">0.6</text>
<text x="186.3" y="454" font-size="25" text-anchor="end" fill="#1a1a1a">0.2</text>
<text x="186.3" y="482.4" font-size="25" text-anchor="end" fill="#1a1a1a">1.0</text>
<text x="186.3" y="516.1" font-size="25" text-anchor="end" fill="#1a1a1a">0.6</text>
<text x="186.3" y="552.4" font-size="25" text-anchor="end" fill="#1a1a1a">0.2</text>
<text x="192.8" y="587.4" font-size="25" text-anchor="middle" fill="#1a1a1a">0</text>
<text x="472.5" y="587.4" font-size="25" text-anchor="middle" fill="#1a1a1a">200</text>
<text x="760.5" y="587.4" font-size="25" text-anchor="middle" fill="#1a1a1a">400</text>
<text x="1049" y="587.4" font-size="25" text-anchor="middle" fill="#1a1a1a">600</text>
<text x="1336.5" y="587.4" font-size="25" text-anchor="middle" fill="#1a1a1a">800</text>
<text x="1622" y="587.4" font-size="25" text-anchor="middle" fill="#1a1a1a">1000</text>
<text x="1910.3" y="587.4" font-size="25" text-anchor="middle" fill="#1a1a1a">1200</text>
<text x="1047" y="609.4" font-size="24.6" text-anchor="middle" fill="#1a1a1a">frame no.</text>
<text x="1002.4" y="355" font-size="43" text-anchor="middle" fill="#000" transform="translate(1002.4 355) scale(0.9670 1) translate(-1002.4 -355)">Hemi center of mass vs time</text>
<text x="48.5" y="429.8" font-size="42" text-anchor="start" fill="#000" transform="translate(48.5 429.8) scale(1.0150 1) translate(-48.5 -429.8)">ML</text>
<text x="49" y="535.8" font-size="42" text-anchor="start" fill="#000">AP</text>
<rect x="214" y="564.4" width="134.8" height="6.2" fill="#000"/>
<rect x="540.3" y="564.4" width="162.7" height="6.2" fill="#000"/>
<rect x="1839.6" y="389.8" width="21.5" height="4.2" fill="#0000ff"/>
<rect x="1839.6" y="441.4" width="21.5" height="4.4" fill="#008000"/>
<text x="1873" y="406.9" font-size="33" text-anchor="start" fill="#111">L</text>
<text x="1873.4" y="458.8" font-size="33" text-anchor="start" fill="#111">R</text>
<defs><clipPath id="cz634"><rect x="196.3" y="634.8" width="837.1" height="102.7"/></clipPath></defs>
<path d="M196.57 711.1 L204.4 706.36 L212.24 702.24 L220.07 701.41 L227.9 701.41 L235.73 659.96 L243.57 657.48 L251.4 706.98 L259.23 705.33 L267.07 710.07 L274.9 686.36 L282.73 677.49 L290.56 685.33 L298.4 691.51 L306.23 690.89 L314.06 692.13 L321.9 686.97 L329.73 684.71 L337.56 686.36 L345.4 688.42 L353.23 689.86 L361.06 690.07 L368.89 687.39 L376.73 688.01 L384.56 689.45 L392.39 692.13 L400.23 676.46 L408.06 691.51 L415.89 709.66 L423.73 718.32 L431.56 701.82 L439.39 696.26 L447.23 702.24 L455.06 698.32 L462.89 697.49 L470.72 712.13 L478.56 722.86 L486.39 726.57 L494.22 714.82 L502.06 716.26 L509.89 717.29 L517.72 717.29 L525.56 716.88 L533.39 714.61 L541.22 715.23 L549.05 705.95 L556.89 692.54 L564.72 714.2 L572.55 726.57 L580.39 730.08 L588.22 730.28 L596.05 729.87 L603.88 732.34 L611.72 731.52 L619.55 680.17 L627.38 674.6 L635.22 671.92 L643.05 673.57 L650.88 679.55 L658.72 706.98 L666.55 711.72 L674.38 713.58 L682.22 712.13 L690.05 717.29 L697.88 731.73 L705.71 721.41 L713.55 718.32 L721.38 719.35 L729.21 720.18 L737.05 725.75 L744.88 727.19 L752.71 720.38 L760.55 714.2 L768.38 714.82 L776.21 725.54 L784.04 729.25 L791.88 729.25 L799.71 721.41 L807.54 713.17 L815.38 710.69 L823.21 668.41 L831.04 668 L838.88 663.26 L846.71 663.05 L854.54 687.39 L862.37 673.78 L870.21 687.39 L878.04 687.39 L885.87 688.01 L893.71 728.01 L901.54 728.01 L909.37 725.33 L917.21 714.61 L925.04 708.01 L932.87 712.55 L940.7 705.95 L948.54 705.95 L956.37 673.36 L964.2 672.54 L972.04 672.54 L979.87 677.08 L987.7 711.72 L995.53 711.31 L1003.37 710.9 L1011.2 713.17 L1019.03 686.97 L1026.87 685.74 L1034.7 704.92" stroke="#0000ff" stroke-width="2.15" fill="none" stroke-linejoin="round" clip-path="url(#cz634)"/>
<path d="M196.57 713.17 L204.4 713.58 L212.24 702.85 L220.07 688.62 L227.9 684.91 L235.73 678.11 L243.57 677.08 L251.4 731.11 L259.23 728.63 L267.07 725.54 L274.9 717.91 L282.73 718.11 L290.56 718.32 L298.4 718.73 L306.23 673.78 L314.06 673.78 L321.9 672.95 L329.73 672.13 L337.56 672.33 L345.4 704.3 L353.23 703.89 L361.06 703.89 L368.89 703.68 L376.73 700.17 L384.56 698.11 L392.39 695.64 L400.23 695.22 L408.06 689.45 L415.89 682.03 L423.73 726.16 L431.56 721.62 L439.39 721.21 L447.23 720.18 L455.06 719.97 L462.89 721.21 L470.72 714.61 L478.56 711.72 L486.39 709.66 L494.22 695.84 L502.06 699.76 L509.89 701.2 L517.72 702.24 L525.56 700.17 L533.39 704.92 L541.22 716.88 L549.05 717.08 L556.89 717.29 L564.72 687.8 L572.55 699.76 L580.39 693.16 L588.22 701.41 L596.05 718.32 L603.88 704.92 L611.72 705.54 L619.55 697.7 L627.38 701.41 L635.22 678.73 L643.05 681.2 L650.88 681.61 L658.72 720.38 L666.55 730.49 L674.38 730.08 L682.22 730.08 L690.05 694.61 L697.88 690.27 L705.71 696.05 L713.55 701.82 L721.38 703.47 L729.21 704.09 L737.05 697.7 L744.88 707.39 L752.71 696.67 L760.55 689.86 L768.38 675.01 L776.21 673.16 L784.04 673.16 L791.88 676.25 L799.71 675.63 L807.54 679.14 L815.38 680.17 L823.21 666.35 L831.04 666.35 L838.88 663.26 L846.71 664.29 L854.54 689.86 L862.37 688.83 L870.21 688.21 L878.04 688.21 L885.87 688.42 L893.71 713.37 L901.54 698.11 L909.37 705.95 L917.21 691.51 L925.04 688.62 L932.87 685.74 L940.7 706.57 L948.54 718.32 L956.37 730.28 L964.2 714.2 L972.04 698.11 L979.87 697.08 L987.7 711.1 L995.53 718.32 L1003.37 718.32 L1011.2 724.51 L1019.03 731.93 L1026.87 710.28 L1034.7 712.13" stroke="#008000" stroke-width="2.15" fill="none" stroke-linejoin="round" clip-path="url(#cz634)"/>
<rect x="196.3" y="634.8" width="837.1" height="102.7" fill="none" stroke="#0a0a0a" stroke-width="1.25"/>
<path d="M196.3 634.8L1033.4 634.8" stroke="#7d7d7d" stroke-width="1.9" fill="none" stroke-linecap="square"/>
<path d="M196.3 655.2H204.6" stroke="#2b2b2b" stroke-width="1.1" fill="none"/>
<path d="M1033.4 655.2H1025.1" stroke="#2b2b2b" stroke-width="1.1" fill="none"/>
<path d="M196.3 675.9H204.6" stroke="#a2a2a2" stroke-width="1.9" fill="none"/>
<path d="M1033.4 675.9H1025.1" stroke="#a2a2a2" stroke-width="1.9" fill="none"/>
<path d="M196.3 696.4H204.6" stroke="#2b2b2b" stroke-width="1.1" fill="none"/>
<path d="M1033.4 696.4H1025.1" stroke="#2b2b2b" stroke-width="1.1" fill="none"/>
<path d="M196.3 716.9H204.6" stroke="#a2a2a2" stroke-width="1.9" fill="none"/>
<path d="M1033.4 716.9H1025.1" stroke="#a2a2a2" stroke-width="1.9" fill="none"/>
<path d="M251.4 634.8v3.2 M251.4 737.5v-3.2 M329.73 634.8v3.2 M329.73 737.5v-3.2 M408.06 634.8v3.2 M408.06 737.5v-3.2 M486.39 634.8v3.2 M486.39 737.5v-3.2 M564.72 634.8v3.2 M564.72 737.5v-3.2 M643.05 634.8v3.2 M643.05 737.5v-3.2 M721.38 634.8v3.2 M721.38 737.5v-3.2 M799.71 634.8v3.2 M799.71 737.5v-3.2 M878.04 634.8v3.2 M878.04 737.5v-3.2 M956.37 634.8v3.2 M956.37 737.5v-3.2 " stroke="#0a0a0a" stroke-width="1" fill="none"/>
<text x="48.5" y="704.6" font-size="42" text-anchor="start" fill="#000" transform="translate(48.5 704.6) scale(1.0150 1) translate(-48.5 -704.6)">ML</text>
<text x="195" y="646.5" font-size="25" text-anchor="end" fill="#1a1a1a">1.0</text>
<text x="195" y="684" font-size="25" text-anchor="end" fill="#1a1a1a">0.6</text>
<text x="195" y="726.2" font-size="25" text-anchor="end" fill="#1a1a1a">0.2</text>
<defs><clipPath id="cz777"><rect x="196.3" y="777.4" width="837.1" height="102.5"/></clipPath></defs>
<path d="M196.57 842.65 L204.4 830.71 L212.24 835.44 L220.07 834.41 L227.9 833.8 L235.73 828.65 L243.57 827.83 L251.4 817.54 L259.23 817.12 L267.07 816.3 L274.9 828.24 L282.73 840.18 L290.56 838.94 L298.4 839.97 L306.23 794.69 L314.06 795.1 L321.9 797.36 L329.73 799.42 L337.56 798.6 L345.4 862.2 L353.23 865.08 L361.06 866.11 L368.89 859.73 L376.73 858.29 L384.56 858.08 L392.39 856.02 L400.23 832.97 L408.06 851.91 L415.89 859.52 L423.73 857.67 L431.56 851.29 L439.39 849.23 L447.23 851.29 L455.06 849.23 L462.89 848.2 L470.72 852.94 L478.56 856.44 L486.39 856.64 L494.22 850.26 L502.06 849.23 L509.89 848.2 L517.72 848 L525.56 848.41 L533.39 840.79 L541.22 842.65 L549.05 840.59 L556.89 838.74 L564.72 818.98 L572.55 810.33 L580.39 814.24 L588.22 815.07 L596.05 815.07 L603.88 814.65 L611.72 814.65 L619.55 823.09 L627.38 818.98 L635.22 816.92 L643.05 817.74 L650.88 819.39 L658.72 822.68 L666.55 822.48 L674.38 822.68 L682.22 822.27 L690.05 822.89 L697.88 822.68 L705.71 817.54 L713.55 815.27 L721.38 815.68 L729.21 815.68 L737.05 818.36 L744.88 819.39 L752.71 816.92 L760.55 814.86 L768.38 814.86 L776.21 814.45 L784.04 814.24 L791.88 814.04 L799.71 823.09 L807.54 832.35 L815.38 835.03 L823.21 851.91 L831.04 851.91 L838.88 817.95 L846.71 817.33 L854.54 863.23 L862.37 857.26 L870.21 865.9 L878.04 866.52 L885.87 867.34 L893.71 859.73 L901.54 856.85 L909.37 856.64 L917.21 829.27 L925.04 814.45 L932.87 824.12 L940.7 808.69 L948.54 808.27 L956.37 803.75 L964.2 802.51 L972.04 802.92 L979.87 804.16 L987.7 806.22 L995.53 806.01 L1003.37 805.39 L1011.2 803.95 L1019.03 804.57 L1026.87 807.04 L1034.7 811.77" stroke="#0000ff" stroke-width="2.15" fill="none" stroke-linejoin="round" clip-path="url(#cz777)"/>
<path d="M196.57 823.09 L204.4 823.09 L212.24 830.71 L220.07 820.01 L227.9 846.76 L235.73 806.22 L243.57 806.22 L251.4 813.21 L259.23 815.27 L267.07 818.98 L274.9 827.62 L282.73 827.83 L290.56 827.83 L298.4 827.42 L306.23 810.74 L314.06 809.71 L321.9 807.86 L329.73 806.42 L337.56 805.8 L345.4 876.81 L353.23 875.37 L361.06 874.55 L368.89 873.52 L376.73 864.26 L384.56 860.14 L392.39 850.47 L400.23 837.5 L408.06 823.09 L415.89 811.16 L423.73 847.17 L431.56 851.5 L439.39 852.53 L447.23 853.76 L455.06 853.97 L462.89 850.88 L470.72 845.73 L478.56 844.09 L486.39 843.68 L494.22 840.79 L502.06 841.82 L509.89 842.03 L517.72 844.29 L525.56 844.7 L533.39 847.17 L541.22 849.23 L549.05 835.44 L556.89 822.68 L564.72 801.69 L572.55 804.98 L580.39 803.54 L588.22 806.22 L596.05 817.95 L603.88 813.83 L611.72 828.24 L619.55 828.86 L627.38 821.03 L635.22 824.33 L643.05 822.48 L650.88 828.86 L658.72 827.21 L666.55 825.97 L674.38 825.97 L682.22 825.97 L690.05 829.27 L697.88 834.82 L705.71 836.27 L713.55 836.27 L721.38 834.21 L729.21 833.18 L737.05 834.41 L744.88 832.15 L752.71 838.94 L760.55 845.94 L768.38 843.47 L776.21 814.86 L784.04 814.86 L791.88 856.44 L799.71 856.44 L807.54 857.47 L815.38 857.88 L823.21 815.07 L831.04 815.07 L838.88 847.79 L846.71 848.82 L854.54 864.67 L862.37 863.85 L870.21 863.85 L878.04 863.64 L885.87 864.26 L893.71 850.88 L901.54 845.73 L909.37 838.94 L917.21 834.41 L925.04 836.88 L932.87 834.82 L940.7 838.74 L948.54 832.77 L956.37 823.09 L964.2 810.13 L972.04 817.33 L979.87 817.95 L987.7 826.8 L995.53 826.39 L1003.37 825.56 L1011.2 824.95 L1019.03 826.59 L1026.87 831.74 L1034.7 837.09" stroke="#008000" stroke-width="2.15" fill="none" stroke-linejoin="round" clip-path="url(#cz777)"/>
<rect x="196.3" y="777.4" width="837.1" height="102.5" fill="none" stroke="#0a0a0a" stroke-width="1.25"/>
<path d="M196.3 879.9L1033.4 879.9" stroke="#7d7d7d" stroke-width="1.9" fill="none" stroke-linecap="square"/>
<path d="M196.3 797.9H204.6" stroke="#a2a2a2" stroke-width="1.9" fill="none"/>
<path d="M1033.4 797.9H1025.1" stroke="#a2a2a2" stroke-width="1.9" fill="none"/>
<path d="M196.3 818.5H204.6" stroke="#2b2b2b" stroke-width="1.1" fill="none"/>
<path d="M1033.4 818.5H1025.1" stroke="#2b2b2b" stroke-width="1.1" fill="none"/>
<path d="M196.3 838.9H204.6" stroke="#a2a2a2" stroke-width="1.9" fill="none"/>
<path d="M1033.4 838.9H1025.1" stroke="#a2a2a2" stroke-width="1.9" fill="none"/>
<path d="M196.3 859.3H204.6" stroke="#2b2b2b" stroke-width="1.1" fill="none"/>
<path d="M1033.4 859.3H1025.1" stroke="#2b2b2b" stroke-width="1.1" fill="none"/>
<path d="M251.4 777.4v3.2 M251.4 879.9v-3.2 M329.73 777.4v3.2 M329.73 879.9v-3.2 M408.06 777.4v3.2 M408.06 879.9v-3.2 M486.39 777.4v3.2 M486.39 879.9v-3.2 M564.72 777.4v3.2 M564.72 879.9v-3.2 M643.05 777.4v3.2 M643.05 879.9v-3.2 M721.38 777.4v3.2 M721.38 879.9v-3.2 M799.71 777.4v3.2 M799.71 879.9v-3.2 M878.04 777.4v3.2 M878.04 879.9v-3.2 M956.37 777.4v3.2 M956.37 879.9v-3.2 " stroke="#0a0a0a" stroke-width="1" fill="none"/>
<text x="50.6" y="854.3" font-size="42" text-anchor="start" fill="#000" transform="translate(50.6 854.3) scale(0.9900 1) translate(-50.6 -854.3)">AP</text>
<text x="195" y="788.8" font-size="25" text-anchor="end" fill="#1a1a1a">1.0</text>
<text x="195" y="826.5" font-size="25" text-anchor="end" fill="#1a1a1a">0.6</text>
<text x="195" y="867.7" font-size="25" text-anchor="end" fill="#1a1a1a">0.2</text>
<text x="252.8" y="903.3" font-size="25" text-anchor="middle" fill="#1a1a1a">20</text>
<text x="331.13" y="903.3" font-size="25" text-anchor="middle" fill="#1a1a1a">30</text>
<text x="409.46" y="903.3" font-size="25" text-anchor="middle" fill="#1a1a1a">40</text>
<text x="487.79" y="903.3" font-size="25" text-anchor="middle" fill="#1a1a1a">50</text>
<text x="566.12" y="903.3" font-size="25" text-anchor="middle" fill="#1a1a1a">60</text>
<text x="644.45" y="903.3" font-size="25" text-anchor="middle" fill="#1a1a1a">70</text>
<text x="722.78" y="903.3" font-size="25" text-anchor="middle" fill="#1a1a1a">80</text>
<text x="801.11" y="903.3" font-size="25" text-anchor="middle" fill="#1a1a1a">90</text>
<text x="879.44" y="903.3" font-size="25" text-anchor="middle" fill="#1a1a1a">100</text>
<text x="957.77" y="903.3" font-size="25" text-anchor="middle" fill="#1a1a1a">110</text>
<defs><clipPath id="cz961"><rect x="195.8" y="961.4" width="836.8" height="103"/></clipPath></defs>
<path d="M195.08 993.04 L202.7 999.66 L210.32 1005.87 L217.95 1025.52 L225.57 1029.65 L233.19 1028.21 L240.81 1027.58 L248.43 1029.03 L256.06 1030.69 L263.68 1039.99 L271.3 1035.86 L278.92 1039.58 L286.54 1027.58 L294.17 998.63 L301.79 998.63 L309.41 998.01 L317.03 996.56 L324.65 1003.8 L332.28 1013.73 L339.9 1015.8 L347.52 1017.66 L355.14 1011.04 L362.76 1007.11 L370.39 1008.97 L378.01 1008.35 L385.63 1010.62 L393.25 1003.8 L400.87 1006.9 L408.5 1006.49 L416.12 1008.97 L423.74 1007.52 L431.36 1011.04 L438.98 983.53 L446.61 984.98 L454.23 985.81 L461.85 985.6 L469.47 998.63 L477.09 1009.8 L484.72 1006.9 L492.34 1004.21 L499.96 1011.04 L507.58 1018.9 L515.2 1024.48 L522.83 1029.65 L530.45 1010.42 L538.07 1017.86 L545.69 1012.69 L553.31 1019.93 L560.94 1017.86 L568.56 1015.8 L576.18 1052.82 L583.8 1050.75 L591.42 1048.47 L599.05 1049.72 L606.67 1032.76 L614.29 1018.9 L621.91 1015.8 L629.53 1014.76 L637.16 1036.48 L644.78 1036.89 L652.4 1033.79 L660.02 1032.76 L667.64 1023.03 L675.27 1016.83 L682.89 1019.31 L690.51 1031.1 L698.13 1031.1 L705.75 1013.73 L713.38 1023.45 L721 1032.76 L728.62 1028.62 L736.24 1050.75 L743.86 1050.75 L751.49 1039.99 L759.11 1029.24 L766.73 1026.96 L774.35 1027.17 L781.97 1034.82 L789.6 1040.41 L797.22 1042.27 L804.84 1042.27 L812.46 1024.48 L820.08 1018.69 L827.71 1018.07 L835.33 1017.24 L842.95 1036.27 L850.57 1016.62 L858.19 1030.69 L865.82 1027.58 L873.44 1034.41 L881.06 1034 L888.68 1034.41 L896.3 1007.11 L903.93 1007.11 L911.55 1031.31 L919.17 1010.83 L926.79 1012.49 L934.41 1014.14 L942.04 1015.18 L949.66 1020.35 L957.28 1020.97 L964.9 1029.03 L972.52 1033.17 L980.15 1035.44 L987.77 1037.93 L995.39 1038.55 L1003.01 1038.96 L1010.63 986.22 L1018.26 990.98 L1025.88 990.36 L1033.5 994.91" stroke="#0000ff" stroke-width="2.15" fill="none" stroke-linejoin="round" clip-path="url(#cz961)"/>
<path d="M195.08 975.88 L202.7 988.91 L210.32 992.01 L217.95 1039.99 L225.57 1017.24 L233.19 1020.76 L240.81 1022 L248.43 1028.21 L256.06 1033.79 L263.68 1032.13 L271.3 1031.72 L278.92 1028 L286.54 1041.03 L294.17 984.15 L301.79 987.67 L309.41 987.25 L317.03 987.87 L324.65 989.32 L332.28 990.77 L339.9 993.04 L347.52 1023.45 L355.14 988.91 L362.76 1020.97 L370.39 1006.9 L378.01 1022 L385.63 1022.41 L393.25 1025.93 L400.87 1026.55 L408.5 1008.35 L416.12 1010.83 L423.74 1014.76 L431.36 1018.28 L438.98 1018.28 L446.61 1007.52 L454.23 1010.62 L461.85 1026.14 L469.47 1024.07 L477.09 1024.07 L484.72 1021.79 L492.34 1008.35 L499.96 1008.97 L507.58 1012.07 L515.2 1033.17 L522.83 1037.93 L530.45 1041.24 L538.07 1016.83 L545.69 1028.83 L553.31 1026.55 L560.94 1027.58 L568.56 1029.86 L576.18 1036.89 L583.8 1036.27 L591.42 1033.38 L599.05 1037.31 L606.67 1032.13 L614.29 1026.96 L621.91 1027.58 L629.53 1031.72 L637.16 1034 L644.78 1037.51 L652.4 1046.2 L660.02 1046.82 L667.64 1045.58 L675.27 1042.06 L682.89 1035.65 L690.51 1033.17 L698.13 1008.76 L705.75 1021.79 L713.38 1023.45 L721 1042.06 L728.62 1047.23 L736.24 1050.75 L743.86 1048.89 L751.49 1040.41 L759.11 1034.82 L766.73 1035.86 L774.35 1028.83 L781.97 1030.69 L789.6 1035.24 L797.22 1034.82 L804.84 1026.14 L812.46 1024.48 L820.08 1021.38 L827.71 1022.41 L835.33 1021.59 L842.95 1020.97 L850.57 1019.73 L858.19 1023.86 L865.82 1023.03 L873.44 1022 L881.06 1022 L888.68 1023.24 L896.3 1021.38 L903.93 1016.42 L911.55 1018.28 L919.17 1019.73 L926.79 1018.48 L934.41 1020.35 L942.04 1027.17 L949.66 1030.27 L957.28 1026.55 L964.9 1024.48 L972.52 1025.31 L980.15 1020.14 L987.77 1019.73 L995.39 1012.07 L1003.01 1009.18 L1010.63 984.15 L1018.26 985.19 L1025.88 985.19 L1033.5 994.91" stroke="#008000" stroke-width="2.15" fill="none" stroke-linejoin="round" clip-path="url(#cz961)"/>
<rect x="195.8" y="961.4" width="836.8" height="103" fill="none" stroke="#0a0a0a" stroke-width="1.25"/>
<path d="M195.8 961.4L1032.6 961.4" stroke="#7d7d7d" stroke-width="1.9" fill="none" stroke-linecap="square"/>
<path d="M195.8 982.3H204.1" stroke="#2b2b2b" stroke-width="1.1" fill="none"/>
<path d="M1032.6 982.3H1024.3" stroke="#2b2b2b" stroke-width="1.1" fill="none"/>
<path d="M195.8 1002.9H204.1" stroke="#a2a2a2" stroke-width="1.9" fill="none"/>
<path d="M1032.6 1002.9H1024.3" stroke="#a2a2a2" stroke-width="1.9" fill="none"/>
<path d="M195.8 1023.3H204.1" stroke="#2b2b2b" stroke-width="1.1" fill="none"/>
<path d="M1032.6 1023.3H1024.3" stroke="#2b2b2b" stroke-width="1.1" fill="none"/>
<path d="M195.8 1043.8H204.1" stroke="#a2a2a2" stroke-width="1.9" fill="none"/>
<path d="M1032.6 1043.8H1024.3" stroke="#a2a2a2" stroke-width="1.9" fill="none"/>
<path d="M271.3 961.4v3.2 M271.3 1064.4v-3.2 M347.52 961.4v3.2 M347.52 1064.4v-3.2 M423.74 961.4v3.2 M423.74 1064.4v-3.2 M499.96 961.4v3.2 M499.96 1064.4v-3.2 M576.18 961.4v3.2 M576.18 1064.4v-3.2 M652.4 961.4v3.2 M652.4 1064.4v-3.2 M728.62 961.4v3.2 M728.62 1064.4v-3.2 M804.84 961.4v3.2 M804.84 1064.4v-3.2 M881.06 961.4v3.2 M881.06 1064.4v-3.2 M957.28 961.4v3.2 M957.28 1064.4v-3.2 " stroke="#0a0a0a" stroke-width="1" fill="none"/>
<text x="45.8" y="1029" font-size="42" text-anchor="start" fill="#000" transform="translate(45.8 1029) scale(1.0150 1) translate(-45.8 -1029)">ML</text>
<text x="191" y="969.9" font-size="25" text-anchor="end" fill="#1a1a1a">1.0</text>
<text x="191" y="1007.8" font-size="25" text-anchor="end" fill="#1a1a1a">0.6</text>
<text x="191" y="1048.3" font-size="25" text-anchor="end" fill="#1a1a1a">0.2</text>
<defs><clipPath id="cz1104"><rect x="195.8" y="1104.3" width="836.8" height="103"/></clipPath></defs>
<path d="M195.08 1148.35 L202.7 1175.24 L210.32 1179.38 L217.95 1165.73 L225.57 1162 L233.19 1163.87 L240.81 1165.31 L248.43 1169.04 L256.06 1171.52 L263.68 1149.8 L271.3 1153.52 L278.92 1150.42 L286.54 1194.68 L294.17 1185.17 L301.79 1184.96 L309.41 1185.79 L317.03 1163.87 L324.65 1175.66 L332.28 1179.79 L339.9 1179.79 L347.52 1180.21 L355.14 1173.59 L362.76 1169.04 L370.39 1169.86 L378.01 1179.79 L385.63 1184.34 L393.25 1184.96 L400.87 1186 L408.5 1183.93 L416.12 1185.17 L423.74 1183.51 L431.36 1186.82 L438.98 1157.04 L446.61 1156.83 L454.23 1157.45 L461.85 1157.45 L469.47 1167.38 L477.09 1174.62 L484.72 1172.55 L492.34 1156.83 L499.96 1164.28 L507.58 1171.52 L515.2 1177.31 L522.83 1184.76 L530.45 1166.97 L538.07 1163.25 L545.69 1157.04 L553.31 1150.84 L560.94 1148.15 L568.56 1146.7 L576.18 1160.76 L583.8 1161.8 L591.42 1165.93 L599.05 1160.76 L606.67 1151.87 L614.29 1142.15 L621.91 1140.49 L629.53 1142.15 L637.16 1137.81 L644.78 1161.18 L652.4 1168 L660.02 1173.59 L667.64 1164.28 L675.27 1159.52 L682.89 1156.42 L690.51 1158.08 L698.13 1169.86 L705.75 1175.03 L713.38 1172.14 L721 1166.35 L728.62 1164.69 L736.24 1161.18 L743.86 1153.32 L751.49 1159.73 L759.11 1161.18 L766.73 1162.63 L774.35 1167.38 L781.97 1165.93 L789.6 1166.35 L797.22 1168 L804.84 1170.9 L812.46 1184.55 L820.08 1182.48 L827.71 1179.38 L835.33 1179.38 L842.95 1194.89 L850.57 1182.27 L858.19 1189.72 L865.82 1187.65 L873.44 1199.85 L881.06 1200.89 L888.68 1200.47 L896.3 1189.1 L903.93 1184.96 L911.55 1201.51 L919.17 1184.96 L926.79 1185.17 L934.41 1186.2 L942.04 1187.03 L949.66 1189.51 L957.28 1190.13 L964.9 1149.8 L972.52 1139.05 L980.15 1137.39 L987.77 1133.67 L995.39 1133.67 L1003.01 1133.67 L1010.63 1137.81 L1018.26 1131.81 L1025.88 1131.19 L1033.5 1127.05" stroke="#0000ff" stroke-width="2.15" fill="none" stroke-linejoin="round" clip-path="url(#cz1104)"/>
<path d="M195.08 1112.57 L202.7 1113.19 L210.32 1106.37 L217.95 1127.05 L225.57 1155.59 L233.19 1157.04 L240.81 1170.48 L248.43 1184.34 L256.06 1194.68 L263.68 1194.68 L271.3 1195.92 L278.92 1196.75 L286.54 1121.88 L294.17 1150.22 L301.79 1127.26 L309.41 1127.67 L317.03 1140.91 L324.65 1123.95 L332.28 1105.75 L339.9 1137.39 L347.52 1190.55 L355.14 1161.18 L362.76 1184.96 L370.39 1138.84 L378.01 1190.13 L385.63 1191.17 L393.25 1187.03 L400.87 1185.58 L408.5 1168.42 L416.12 1166.35 L423.74 1166.35 L431.36 1165.93 L438.98 1165.31 L446.61 1139.25 L454.23 1142.98 L461.85 1177.1 L469.47 1175.03 L477.09 1174.83 L484.72 1174.21 L492.34 1142.15 L499.96 1139.46 L507.58 1144.01 L515.2 1168.42 L522.83 1156.63 L530.45 1154.35 L538.07 1125.6 L545.69 1129.53 L553.31 1130.98 L560.94 1132.22 L568.56 1135.74 L576.18 1138.84 L583.8 1137.39 L591.42 1144.22 L599.05 1147.32 L606.67 1143.6 L614.29 1139.05 L621.91 1142.98 L629.53 1142.15 L637.16 1147.32 L644.78 1142.98 L652.4 1128.09 L660.02 1127.26 L667.64 1131.6 L675.27 1153.32 L682.89 1156.42 L690.51 1133.88 L698.13 1154.35 L705.75 1151.87 L713.38 1156.01 L721 1136.98 L728.62 1139.87 L736.24 1145.46 L743.86 1145.04 L751.49 1138.01 L759.11 1126.02 L766.73 1124.98 L774.35 1116.09 L781.97 1129.12 L789.6 1138.01 L797.22 1141.53 L804.84 1146.7 L812.46 1147.53 L820.08 1152.49 L827.71 1156.01 L835.33 1162.83 L842.95 1164.9 L850.57 1174.62 L858.19 1165.31 L865.82 1168.83 L873.44 1168.42 L881.06 1170.9 L888.68 1173.17 L896.3 1163.87 L903.93 1163.66 L911.55 1162.21 L919.17 1162 L926.79 1160.14 L934.41 1155.59 L942.04 1159.73 L949.66 1162.42 L957.28 1143.6 L964.9 1108.02 L972.52 1110.5 L980.15 1108.85 L987.77 1127.46 L995.39 1132.22 L1003.01 1156.21 L1010.63 1148.35 L1018.26 1149.18 L1025.88 1149.8 L1033.5 1138.43" stroke="#008000" stroke-width="2.15" fill="none" stroke-linejoin="round" clip-path="url(#cz1104)"/>
<rect x="195.8" y="1104.3" width="836.8" height="103" fill="none" stroke="#0a0a0a" stroke-width="1.25"/>
<path d="M195.8 1207.3L1032.6 1207.3" stroke="#7d7d7d" stroke-width="1.9" fill="none" stroke-linecap="square"/>
<path d="M195.8 1129.8H204.1" stroke="#a2a2a2" stroke-width="1.9" fill="none"/>
<path d="M1032.6 1129.8H1024.3" stroke="#a2a2a2" stroke-width="1.9" fill="none"/>
<path d="M195.8 1155.5H204.1" stroke="#2b2b2b" stroke-width="1.1" fill="none"/>
<path d="M1032.6 1155.5H1024.3" stroke="#2b2b2b" stroke-width="1.1" fill="none"/>
<path d="M195.8 1181.2H204.1" stroke="#2b2b2b" stroke-width="1.1" fill="none"/>
<path d="M1032.6 1181.2H1024.3" stroke="#2b2b2b" stroke-width="1.1" fill="none"/>
<path d="M271.3 1104.3v3.2 M271.3 1207.3v-3.2 M347.52 1104.3v3.2 M347.52 1207.3v-3.2 M423.74 1104.3v3.2 M423.74 1207.3v-3.2 M499.96 1104.3v3.2 M499.96 1207.3v-3.2 M576.18 1104.3v3.2 M576.18 1207.3v-3.2 M652.4 1104.3v3.2 M652.4 1207.3v-3.2 M728.62 1104.3v3.2 M728.62 1207.3v-3.2 M804.84 1104.3v3.2 M804.84 1207.3v-3.2 M881.06 1104.3v3.2 M881.06 1207.3v-3.2 M957.28 1104.3v3.2 M957.28 1207.3v-3.2 " stroke="#0a0a0a" stroke-width="1" fill="none"/>
<text x="48.2" y="1175.5" font-size="42" text-anchor="start" fill="#000" transform="translate(48.2 1175.5) scale(0.9900 1) translate(-48.2 -1175.5)">AP</text>
<text x="191" y="1112.6" font-size="25" text-anchor="end" fill="#1a1a1a">1.0</text>
<text x="191" y="1151" font-size="25" text-anchor="end" fill="#1a1a1a">0.6</text>
<text x="191" y="1191.2" font-size="25" text-anchor="end" fill="#1a1a1a">0.2</text>
<text x="270.7" y="1229.5" font-size="25" text-anchor="middle" fill="#1a1a1a">260</text>
<text x="346.92" y="1229.5" font-size="25" text-anchor="middle" fill="#1a1a1a">270</text>
<text x="423.14" y="1229.5" font-size="25" text-anchor="middle" fill="#1a1a1a">280</text>
<text x="499.36" y="1229.5" font-size="25" text-anchor="middle" fill="#1a1a1a">290</text>
<text x="575.58" y="1229.5" font-size="25" text-anchor="middle" fill="#1a1a1a">300</text>
<text x="651.8" y="1229.5" font-size="25" text-anchor="middle" fill="#1a1a1a">310</text>
<text x="728.02" y="1229.5" font-size="25" text-anchor="middle" fill="#1a1a1a">320</text>
<text x="804.24" y="1229.5" font-size="25" text-anchor="middle" fill="#1a1a1a">330</text>
<text x="880.46" y="1229.5" font-size="25" text-anchor="middle" fill="#1a1a1a">340</text>
<text x="956.68" y="1229.5" font-size="25" text-anchor="middle" fill="#1a1a1a">350</text>
<text x="592.8" y="1280.6" font-size="24.6" text-anchor="middle" fill="#1a1a1a">frame no.</text>
<g shape-rendering="crispEdges">
<rect x="1232.9" y="664.8" width="20.32" height="20.32" fill="rgb(128,0,0)"/>
<rect x="1252.92" y="664.8" width="40.33" height="20.32" fill="rgb(32,255,223)"/>
<rect x="1292.95" y="664.8" width="20.32" height="20.32" fill="rgb(0,0,191)"/>
<rect x="1312.96" y="664.8" width="20.32" height="20.32" fill="rgb(0,0,239)"/>
<rect x="1332.98" y="664.8" width="20.32" height="20.32" fill="rgb(96,255,159)"/>
<rect x="1352.99" y="664.8" width="20.32" height="20.32" fill="rgb(0,64,255)"/>
<rect x="1373.01" y="664.8" width="20.32" height="20.32" fill="rgb(0,255,255)"/>
<rect x="1393.02" y="664.8" width="20.32" height="20.32" fill="rgb(0,223,255)"/>
<rect x="1413.04" y="664.8" width="20.32" height="20.32" fill="rgb(0,0,191)"/>
<rect x="1433.05" y="664.8" width="20.32" height="20.32" fill="rgb(32,255,223)"/>
<rect x="1453.07" y="664.8" width="20.32" height="20.32" fill="rgb(0,64,255)"/>
<rect x="1473.08" y="664.8" width="20.32" height="20.32" fill="rgb(32,255,223)"/>
<rect x="1493.1" y="664.8" width="20.32" height="20.32" fill="rgb(0,32,255)"/>
<rect x="1513.11" y="664.8" width="20.32" height="20.32" fill="rgb(0,255,255)"/>
<rect x="1533.12" y="664.8" width="20.32" height="20.32" fill="rgb(0,80,255)"/>
<rect x="1553.14" y="664.8" width="20.32" height="20.32" fill="rgb(0,143,255)"/>
<rect x="1573.16" y="664.8" width="20.32" height="20.32" fill="rgb(0,0,239)"/>
<rect x="1593.17" y="664.8" width="20.32" height="20.32" fill="rgb(0,112,255)"/>
<rect x="1613.19" y="664.8" width="20.32" height="20.32" fill="rgb(0,0,207)"/>
<rect x="1633.2" y="664.8" width="20.32" height="20.32" fill="rgb(0,112,255)"/>
<rect x="1653.22" y="664.8" width="20.32" height="20.32" fill="rgb(0,64,255)"/>
<rect x="1673.23" y="664.8" width="20.32" height="20.32" fill="rgb(0,112,255)"/>
<rect x="1693.25" y="664.8" width="20.32" height="20.32" fill="rgb(0,80,255)"/>
<rect x="1713.26" y="664.8" width="20.32" height="20.32" fill="rgb(175,255,80)"/>
<rect x="1733.28" y="664.8" width="20.32" height="20.32" fill="rgb(0,239,255)"/>
<rect x="1753.29" y="664.8" width="20.32" height="20.32" fill="rgb(255,255,0)"/>
<rect x="1773.31" y="664.8" width="20.32" height="20.32" fill="rgb(0,223,255)"/>
<rect x="1793.32" y="664.8" width="20.32" height="20.32" fill="rgb(112,255,143)"/>
<rect x="1813.34" y="664.8" width="20.32" height="20.32" fill="rgb(0,239,255)"/>
<rect x="1232.9" y="684.81" width="20.32" height="20.32" fill="rgb(32,255,223)"/>
<rect x="1252.92" y="684.81" width="20.32" height="20.32" fill="rgb(128,0,0)"/>
<rect x="1272.93" y="684.81" width="20.32" height="20.32" fill="rgb(0,0,239)"/>
<rect x="1292.95" y="684.81" width="20.32" height="20.32" fill="rgb(80,255,175)"/>
<rect x="1312.96" y="684.81" width="20.32" height="20.32" fill="rgb(0,159,255)"/>
<rect x="1332.98" y="684.81" width="20.32" height="20.32" fill="rgb(0,191,255)"/>
<rect x="1352.99" y="684.81" width="20.32" height="20.32" fill="rgb(112,255,143)"/>
<rect x="1373.01" y="684.81" width="20.32" height="20.32" fill="rgb(0,0,239)"/>
<rect x="1393.02" y="684.81" width="20.32" height="20.32" fill="rgb(0,0,223)"/>
<rect x="1413.04" y="684.81" width="40.33" height="20.32" fill="rgb(0,16,255)"/>
<rect x="1453.07" y="684.81" width="20.32" height="20.32" fill="rgb(159,255,96)"/>
<rect x="1473.08" y="684.81" width="20.32" height="20.32" fill="rgb(0,96,255)"/>
<rect x="1493.1" y="684.81" width="20.32" height="20.32" fill="rgb(64,255,191)"/>
<rect x="1513.11" y="684.81" width="20.32" height="20.32" fill="rgb(0,48,255)"/>
<rect x="1533.12" y="684.81" width="20.32" height="20.32" fill="rgb(0,239,255)"/>
<rect x="1553.14" y="684.81" width="20.32" height="20.32" fill="rgb(0,0,175)"/>
<rect x="1573.16" y="684.81" width="20.32" height="20.32" fill="rgb(0,159,255)"/>
<rect x="1593.17" y="684.81" width="20.32" height="20.32" fill="rgb(0,0,239)"/>
<rect x="1613.19" y="684.81" width="20.32" height="20.32" fill="rgb(0,112,255)"/>
<rect x="1633.2" y="684.81" width="20.32" height="20.32" fill="rgb(0,0,223)"/>
<rect x="1653.22" y="684.81" width="20.32" height="20.32" fill="rgb(0,112,255)"/>
<rect x="1673.23" y="684.81" width="20.32" height="20.32" fill="rgb(0,0,239)"/>
<rect x="1693.25" y="684.81" width="20.32" height="20.32" fill="rgb(0,64,255)"/>
<rect x="1713.26" y="684.81" width="20.32" height="20.32" fill="rgb(0,159,255)"/>
<rect x="1733.28" y="684.81" width="20.32" height="20.32" fill="rgb(239,255,16)"/>
<rect x="1753.29" y="684.81" width="20.32" height="20.32" fill="rgb(0,207,255)"/>
<rect x="1773.31" y="684.81" width="20.32" height="20.32" fill="rgb(255,159,0)"/>
<rect x="1793.32" y="684.81" width="20.32" height="20.32" fill="rgb(0,207,255)"/>
<rect x="1813.34" y="684.81" width="20.32" height="20.32" fill="rgb(255,159,0)"/>
<rect x="1232.9" y="704.83" width="20.32" height="20.32" fill="rgb(32,255,223)"/>
<rect x="1252.92" y="704.83" width="20.32" height="20.32" fill="rgb(0,0,239)"/>
<rect x="1272.93" y="704.83" width="20.32" height="20.32" fill="rgb(128,0,0)"/>
<rect x="1292.95" y="704.83" width="20.32" height="20.32" fill="rgb(0,0,191)"/>
<rect x="1312.96" y="704.83" width="20.32" height="20.32" fill="rgb(0,0,175)"/>
<rect x="1332.98" y="704.83" width="20.32" height="20.32" fill="rgb(0,191,255)"/>
<rect x="1352.99" y="704.83" width="20.32" height="20.32" fill="rgb(0,0,175)"/>
<rect x="1373.01" y="704.83" width="20.32" height="20.32" fill="rgb(0,80,255)"/>
<rect x="1393.02" y="704.83" width="20.32" height="20.32" fill="rgb(0,0,223)"/>
<rect x="1413.04" y="704.83" width="20.32" height="20.32" fill="rgb(0,0,191)"/>
<rect x="1433.05" y="704.83" width="20.32" height="20.32" fill="rgb(0,0,143)"/>
<rect x="1453.07" y="704.83" width="20.32" height="20.32" fill="rgb(0,0,223)"/>
<rect x="1473.08" y="704.83" width="20.32" height="20.32" fill="rgb(0,0,191)"/>
<rect x="1493.1" y="704.83" width="20.32" height="20.32" fill="rgb(0,0,175)"/>
<rect x="1513.11" y="704.83" width="20.32" height="20.32" fill="rgb(0,32,255)"/>
<rect x="1533.12" y="704.83" width="20.32" height="20.32" fill="rgb(0,0,255)"/>
<rect x="1553.14" y="704.83" width="20.32" height="20.32" fill="rgb(0,0,223)"/>
<rect x="1573.16" y="704.83" width="20.32" height="20.32" fill="rgb(0,0,207)"/>
<rect x="1593.17" y="704.83" width="20.32" height="20.32" fill="rgb(0,0,191)"/>
<rect x="1613.19" y="704.83" width="20.32" height="20.32" fill="rgb(0,0,143)"/>
<rect x="1633.2" y="704.83" width="80.36" height="20.32" fill="rgb(0,0,175)"/>
<rect x="1713.26" y="704.83" width="20.32" height="20.32" fill="rgb(0,0,207)"/>
<rect x="1733.28" y="704.83" width="20.32" height="20.32" fill="rgb(0,0,191)"/>
<rect x="1753.29" y="704.83" width="20.32" height="20.32" fill="rgb(0,0,223)"/>
<rect x="1773.31" y="704.83" width="20.32" height="20.32" fill="rgb(0,0,239)"/>
<rect x="1793.32" y="704.83" width="20.32" height="20.32" fill="rgb(0,0,159)"/>
<rect x="1813.34" y="704.83" width="20.32" height="20.32" fill="rgb(0,16,255)"/>
<rect x="1232.9" y="724.84" width="20.32" height="20.32" fill="rgb(0,0,191)"/>
<rect x="1252.92" y="724.84" width="20.32" height="20.32" fill="rgb(80,255,175)"/>
<rect x="1272.93" y="724.84" width="20.32" height="20.32" fill="rgb(0,0,191)"/>
<rect x="1292.95" y="724.84" width="20.32" height="20.32" fill="rgb(128,0,0)"/>
<rect x="1312.96" y="724.84" width="20.32" height="20.32" fill="rgb(0,112,255)"/>
<rect x="1332.98" y="724.84" width="20.32" height="20.32" fill="rgb(0,0,223)"/>
<rect x="1352.99" y="724.84" width="20.32" height="20.32" fill="rgb(0,255,255)"/>
<rect x="1373.01" y="724.84" width="20.32" height="20.32" fill="rgb(0,0,239)"/>
<rect x="1393.02" y="724.84" width="20.32" height="20.32" fill="rgb(0,0,175)"/>
<rect x="1413.04" y="724.84" width="20.32" height="20.32" fill="rgb(0,0,191)"/>
<rect x="1433.05" y="724.84" width="20.32" height="20.32" fill="rgb(0,0,175)"/>
<rect x="1453.07" y="724.84" width="20.32" height="20.32" fill="rgb(0,0,223)"/>
<rect x="1473.08" y="724.84" width="20.32" height="20.32" fill="rgb(0,0,191)"/>
<rect x="1493.1" y="724.84" width="20.32" height="20.32" fill="rgb(0,0,223)"/>
<rect x="1513.11" y="724.84" width="20.32" height="20.32" fill="rgb(0,0,175)"/>
<rect x="1533.12" y="724.84" width="20.32" height="20.32" fill="rgb(0,0,239)"/>
<rect x="1553.14" y="724.84" width="20.32" height="20.32" fill="rgb(0,0,175)"/>
<rect x="1573.16" y="724.84" width="40.33" height="20.32" fill="rgb(0,0,191)"/>
<rect x="1613.19" y="724.84" width="20.32" height="20.32" fill="rgb(0,0,175)"/>
<rect x="1633.2" y="724.84" width="20.32" height="20.32" fill="rgb(0,0,159)"/>
<rect x="1653.22" y="724.84" width="20.32" height="20.32" fill="rgb(0,0,175)"/>
<rect x="1673.23" y="724.84" width="60.34" height="20.32" fill="rgb(0,0,191)"/>
<rect x="1733.28" y="724.84" width="20.32" height="20.32" fill="rgb(0,32,255)"/>
<rect x="1753.29" y="724.84" width="20.32" height="20.32" fill="rgb(0,0,159)"/>
<rect x="1773.31" y="724.84" width="20.32" height="20.32" fill="rgb(0,0,239)"/>
<rect x="1793.32" y="724.84" width="20.32" height="20.32" fill="rgb(0,0,191)"/>
<rect x="1813.34" y="724.84" width="20.32" height="20.32" fill="rgb(0,32,255)"/>
<rect x="1232.9" y="744.86" width="20.32" height="20.32" fill="rgb(0,0,239)"/>
<rect x="1252.92" y="744.86" width="20.32" height="20.32" fill="rgb(0,159,255)"/>
<rect x="1272.93" y="744.86" width="20.32" height="20.32" fill="rgb(0,0,175)"/>
<rect x="1292.95" y="744.86" width="20.32" height="20.32" fill="rgb(0,112,255)"/>
<rect x="1312.96" y="744.86" width="20.32" height="20.32" fill="rgb(128,0,0)"/>
<rect x="1332.98" y="744.86" width="20.32" height="20.32" fill="rgb(0,0,223)"/>
<rect x="1352.99" y="744.86" width="20.32" height="20.32" fill="rgb(0,0,239)"/>
<rect x="1373.01" y="744.86" width="20.32" height="20.32" fill="rgb(0,0,255)"/>
<rect x="1393.02" y="744.86" width="40.33" height="20.32" fill="rgb(0,0,175)"/>
<rect x="1433.05" y="744.86" width="20.32" height="20.32" fill="rgb(0,0,207)"/>
<rect x="1453.07" y="744.86" width="20.32" height="20.32" fill="rgb(0,0,175)"/>
<rect x="1473.08" y="744.86" width="20.32" height="20.32" fill="rgb(0,0,191)"/>
<rect x="1493.1" y="744.86" width="20.32" height="20.32" fill="rgb(0,0,175)"/>
<rect x="1513.11" y="744.86" width="20.32" height="20.32" fill="rgb(0,0,207)"/>
<rect x="1533.12" y="744.86" width="20.32" height="20.32" fill="rgb(0,112,255)"/>
<rect x="1553.14" y="744.86" width="20.32" height="20.32" fill="rgb(0,0,159)"/>
<rect x="1573.16" y="744.86" width="40.33" height="20.32" fill="rgb(0,0,191)"/>
<rect x="1613.19" y="744.86" width="20.32" height="20.32" fill="rgb(0,0,159)"/>
<rect x="1633.2" y="744.86" width="20.32" height="20.32" fill="rgb(0,0,175)"/>
<rect x="1653.22" y="744.86" width="20.32" height="20.32" fill="rgb(0,0,207)"/>
<rect x="1673.23" y="744.86" width="20.32" height="20.32" fill="rgb(0,0,191)"/>
<rect x="1693.25" y="744.86" width="20.32" height="20.32" fill="rgb(0,0,159)"/>
<rect x="1713.26" y="744.86" width="20.32" height="20.32" fill="rgb(0,0,207)"/>
<rect x="1733.28" y="744.86" width="20.32" height="20.32" fill="rgb(0,80,255)"/>
<rect x="1753.29" y="744.86" width="20.32" height="20.32" fill="rgb(0,32,255)"/>
<rect x="1773.31" y="744.86" width="20.32" height="20.32" fill="rgb(0,0,223)"/>
<rect x="1793.32" y="744.86" width="20.32" height="20.32" fill="rgb(0,32,255)"/>
<rect x="1813.34" y="744.86" width="20.32" height="20.32" fill="rgb(0,0,223)"/>
<rect x="1232.9" y="764.88" width="20.32" height="20.32" fill="rgb(96,255,159)"/>
<rect x="1252.92" y="764.88" width="40.33" height="20.32" fill="rgb(0,191,255)"/>
<rect x="1292.95" y="764.88" width="40.33" height="20.32" fill="rgb(0,0,223)"/>
<rect x="1332.98" y="764.88" width="20.32" height="20.32" fill="rgb(128,0,0)"/>
<rect x="1352.99" y="764.88" width="20.32" height="20.32" fill="rgb(0,0,255)"/>
<rect x="1373.01" y="764.88" width="20.32" height="20.32" fill="rgb(0,175,255)"/>
<rect x="1393.02" y="764.88" width="20.32" height="20.32" fill="rgb(0,80,255)"/>
<rect x="1413.04" y="764.88" width="40.33" height="20.32" fill="rgb(0,0,223)"/>
<rect x="1453.07" y="764.88" width="20.32" height="20.32" fill="rgb(0,80,255)"/>
<rect x="1473.08" y="764.88" width="20.32" height="20.32" fill="rgb(0,0,223)"/>
<rect x="1493.1" y="764.88" width="20.32" height="20.32" fill="rgb(0,0,207)"/>
<rect x="1513.11" y="764.88" width="20.32" height="20.32" fill="rgb(0,191,255)"/>
<rect x="1533.12" y="764.88" width="20.32" height="20.32" fill="rgb(0,239,255)"/>
<rect x="1553.14" y="764.88" width="20.32" height="20.32" fill="rgb(0,0,159)"/>
<rect x="1573.16" y="764.88" width="20.32" height="20.32" fill="rgb(0,0,191)"/>
<rect x="1593.17" y="764.88" width="20.32" height="20.32" fill="rgb(0,0,143)"/>
<rect x="1613.19" y="764.88" width="20.32" height="20.32" fill="rgb(0,0,175)"/>
<rect x="1633.2" y="764.88" width="20.32" height="20.32" fill="rgb(0,0,159)"/>
<rect x="1653.22" y="764.88" width="20.32" height="20.32" fill="rgb(0,0,175)"/>
<rect x="1673.23" y="764.88" width="20.32" height="20.32" fill="rgb(0,0,159)"/>
<rect x="1693.25" y="764.88" width="20.32" height="20.32" fill="rgb(0,0,255)"/>
<rect x="1713.26" y="764.88" width="20.32" height="20.32" fill="rgb(0,255,255)"/>
<rect x="1733.28" y="764.88" width="20.32" height="20.32" fill="rgb(0,159,255)"/>
<rect x="1753.29" y="764.88" width="20.32" height="20.32" fill="rgb(0,0,239)"/>
<rect x="1773.31" y="764.88" width="20.32" height="20.32" fill="rgb(0,48,255)"/>
<rect x="1793.32" y="764.88" width="20.32" height="20.32" fill="rgb(0,0,191)"/>
<rect x="1813.34" y="764.88" width="20.32" height="20.32" fill="rgb(0,175,255)"/>
<rect x="1232.9" y="784.89" width="20.32" height="20.32" fill="rgb(0,64,255)"/>
<rect x="1252.92" y="784.89" width="20.32" height="20.32" fill="rgb(112,255,143)"/>
<rect x="1272.93" y="784.89" width="20.32" height="20.32" fill="rgb(0,0,175)"/>
<rect x="1292.95" y="784.89" width="20.32" height="20.32" fill="rgb(0,255,255)"/>
<rect x="1312.96" y="784.89" width="20.32" height="20.32" fill="rgb(0,0,239)"/>
<rect x="1332.98" y="784.89" width="20.32" height="20.32" fill="rgb(0,0,255)"/>
<rect x="1352.99" y="784.89" width="20.32" height="20.32" fill="rgb(128,0,0)"/>
<rect x="1373.01" y="784.89" width="20.32" height="20.32" fill="rgb(0,0,191)"/>
<rect x="1393.02" y="784.89" width="20.32" height="20.32" fill="rgb(0,0,207)"/>
<rect x="1413.04" y="784.89" width="20.32" height="20.32" fill="rgb(0,64,255)"/>
<rect x="1433.05" y="784.89" width="20.32" height="20.32" fill="rgb(0,0,239)"/>
<rect x="1453.07" y="784.89" width="20.32" height="20.32" fill="rgb(0,32,255)"/>
<rect x="1473.08" y="784.89" width="20.32" height="20.32" fill="rgb(0,80,255)"/>
<rect x="1493.1" y="784.89" width="20.32" height="20.32" fill="rgb(0,16,255)"/>
<rect x="1513.11" y="784.89" width="20.32" height="20.32" fill="rgb(0,0,207)"/>
<rect x="1533.12" y="784.89" width="20.32" height="20.32" fill="rgb(0,0,175)"/>
<rect x="1553.14" y="784.89" width="20.32" height="20.32" fill="rgb(0,0,191)"/>
<rect x="1573.16" y="784.89" width="40.33" height="20.32" fill="rgb(0,0,159)"/>
<rect x="1613.19" y="784.89" width="20.32" height="20.32" fill="rgb(0,0,175)"/>
<rect x="1633.2" y="784.89" width="20.32" height="20.32" fill="rgb(0,0,159)"/>
<rect x="1653.22" y="784.89" width="20.32" height="20.32" fill="rgb(0,0,175)"/>
<rect x="1673.23" y="784.89" width="20.32" height="20.32" fill="rgb(0,0,159)"/>
<rect x="1693.25" y="784.89" width="20.32" height="20.32" fill="rgb(0,0,175)"/>
<rect x="1713.26" y="784.89" width="20.32" height="20.32" fill="rgb(0,0,239)"/>
<rect x="1733.28" y="784.89" width="20.32" height="20.32" fill="rgb(0,239,255)"/>
<rect x="1753.29" y="784.89" width="20.32" height="20.32" fill="rgb(0,16,255)"/>
<rect x="1773.31" y="784.89" width="20.32" height="20.32" fill="rgb(0,64,255)"/>
<rect x="1793.32" y="784.89" width="20.32" height="20.32" fill="rgb(0,32,255)"/>
<rect x="1813.34" y="784.89" width="20.32" height="20.32" fill="rgb(0,128,255)"/>
<rect x="1232.9" y="804.9" width="20.32" height="20.32" fill="rgb(0,255,255)"/>
<rect x="1252.92" y="804.9" width="20.32" height="20.32" fill="rgb(0,0,239)"/>
<rect x="1272.93" y="804.9" width="20.32" height="20.32" fill="rgb(0,80,255)"/>
<rect x="1292.95" y="804.9" width="20.32" height="20.32" fill="rgb(0,0,239)"/>
<rect x="1312.96" y="804.9" width="20.32" height="20.32" fill="rgb(0,0,255)"/>
<rect x="1332.98" y="804.9" width="20.32" height="20.32" fill="rgb(0,175,255)"/>
<rect x="1352.99" y="804.9" width="20.32" height="20.32" fill="rgb(0,0,191)"/>
<rect x="1373.01" y="804.9" width="20.32" height="20.32" fill="rgb(128,0,0)"/>
<rect x="1393.02" y="804.9" width="20.32" height="20.32" fill="rgb(0,207,255)"/>
<rect x="1413.04" y="804.9" width="20.32" height="20.32" fill="rgb(0,0,223)"/>
<rect x="1433.05" y="804.9" width="20.32" height="20.32" fill="rgb(0,0,191)"/>
<rect x="1453.07" y="804.9" width="20.32" height="20.32" fill="rgb(0,0,207)"/>
<rect x="1473.08" y="804.9" width="20.32" height="20.32" fill="rgb(0,0,175)"/>
<rect x="1493.1" y="804.9" width="20.32" height="20.32" fill="rgb(0,0,207)"/>
<rect x="1513.11" y="804.9" width="20.32" height="20.32" fill="rgb(0,80,255)"/>
<rect x="1533.12" y="804.9" width="20.32" height="20.32" fill="rgb(0,0,207)"/>
<rect x="1553.14" y="804.9" width="20.32" height="20.32" fill="rgb(0,0,143)"/>
<rect x="1573.16" y="804.9" width="40.33" height="20.32" fill="rgb(0,0,159)"/>
<rect x="1613.19" y="804.9" width="60.34" height="20.32" fill="rgb(0,0,175)"/>
<rect x="1673.23" y="804.9" width="40.33" height="20.32" fill="rgb(0,0,191)"/>
<rect x="1713.26" y="804.9" width="20.32" height="20.32" fill="rgb(0,159,255)"/>
<rect x="1733.28" y="804.9" width="20.32" height="20.32" fill="rgb(0,0,239)"/>
<rect x="1753.29" y="804.9" width="20.32" height="20.32" fill="rgb(0,0,175)"/>
<rect x="1773.31" y="804.9" width="40.33" height="20.32" fill="rgb(0,0,191)"/>
<rect x="1813.34" y="804.9" width="20.32" height="20.32" fill="rgb(0,32,255)"/>
<rect x="1232.9" y="824.92" width="20.32" height="20.32" fill="rgb(0,223,255)"/>
<rect x="1252.92" y="824.92" width="40.33" height="20.32" fill="rgb(0,0,223)"/>
<rect x="1292.95" y="824.92" width="40.33" height="20.32" fill="rgb(0,0,175)"/>
<rect x="1332.98" y="824.92" width="20.32" height="20.32" fill="rgb(0,80,255)"/>
<rect x="1352.99" y="824.92" width="20.32" height="20.32" fill="rgb(0,0,207)"/>
<rect x="1373.01" y="824.92" width="20.32" height="20.32" fill="rgb(0,207,255)"/>
<rect x="1393.02" y="824.92" width="20.32" height="20.32" fill="rgb(128,0,0)"/>
<rect x="1413.04" y="824.92" width="20.32" height="20.32" fill="rgb(0,0,207)"/>
<rect x="1433.05" y="824.92" width="20.32" height="20.32" fill="rgb(0,48,255)"/>
<rect x="1453.07" y="824.92" width="20.32" height="20.32" fill="rgb(0,0,191)"/>
<rect x="1473.08" y="824.92" width="40.33" height="20.32" fill="rgb(0,0,175)"/>
<rect x="1513.11" y="824.92" width="20.32" height="20.32" fill="rgb(0,96,255)"/>
<rect x="1533.12" y="824.92" width="20.32" height="20.32" fill="rgb(0,0,191)"/>
<rect x="1553.14" y="824.92" width="20.32" height="20.32" fill="rgb(0,0,159)"/>
<rect x="1573.16" y="824.92" width="20.32" height="20.32" fill="rgb(0,0,207)"/>
<rect x="1593.17" y="824.92" width="20.32" height="20.32" fill="rgb(0,0,191)"/>
<rect x="1613.19" y="824.92" width="20.32" height="20.32" fill="rgb(0,0,175)"/>
<rect x="1633.2" y="824.92" width="20.32" height="20.32" fill="rgb(0,0,239)"/>
<rect x="1653.22" y="824.92" width="60.34" height="20.32" fill="rgb(0,0,223)"/>
<rect x="1713.26" y="824.92" width="20.32" height="20.32" fill="rgb(0,112,255)"/>
<rect x="1733.28" y="824.92" width="40.33" height="20.32" fill="rgb(0,0,239)"/>
<rect x="1773.31" y="824.92" width="20.32" height="20.32" fill="rgb(0,0,207)"/>
<rect x="1793.32" y="824.92" width="20.32" height="20.32" fill="rgb(0,0,191)"/>
<rect x="1813.34" y="824.92" width="20.32" height="20.32" fill="rgb(0,0,207)"/>
<rect x="1232.9" y="844.93" width="20.32" height="20.32" fill="rgb(0,0,191)"/>
<rect x="1252.92" y="844.93" width="20.32" height="20.32" fill="rgb(0,16,255)"/>
<rect x="1272.93" y="844.93" width="40.33" height="20.32" fill="rgb(0,0,191)"/>
<rect x="1312.96" y="844.93" width="20.32" height="20.32" fill="rgb(0,0,175)"/>
<rect x="1332.98" y="844.93" width="20.32" height="20.32" fill="rgb(0,0,223)"/>
<rect x="1352.99" y="844.93" width="20.32" height="20.32" fill="rgb(0,64,255)"/>
<rect x="1373.01" y="844.93" width="20.32" height="20.32" fill="rgb(0,0,223)"/>
<rect x="1393.02" y="844.93" width="20.32" height="20.32" fill="rgb(0,0,207)"/>
<rect x="1413.04" y="844.93" width="20.32" height="20.32" fill="rgb(128,0,0)"/>
<rect x="1433.05" y="844.93" width="20.32" height="20.32" fill="rgb(0,0,159)"/>
<rect x="1453.07" y="844.93" width="20.32" height="20.32" fill="rgb(0,0,175)"/>
<rect x="1473.08" y="844.93" width="100.38" height="20.32" fill="rgb(0,0,191)"/>
<rect x="1573.16" y="844.93" width="20.32" height="20.32" fill="rgb(0,0,175)"/>
<rect x="1593.17" y="844.93" width="100.38" height="20.32" fill="rgb(0,0,191)"/>
<rect x="1693.25" y="844.93" width="20.32" height="20.32" fill="rgb(0,0,175)"/>
<rect x="1713.26" y="844.93" width="20.32" height="20.32" fill="rgb(0,0,159)"/>
<rect x="1733.28" y="844.93" width="60.34" height="20.32" fill="rgb(0,0,191)"/>
<rect x="1793.32" y="844.93" width="40.33" height="20.32" fill="rgb(0,0,175)"/>
<rect x="1232.9" y="864.95" width="20.32" height="20.32" fill="rgb(32,255,223)"/>
<rect x="1252.92" y="864.95" width="20.32" height="20.32" fill="rgb(0,16,255)"/>
<rect x="1272.93" y="864.95" width="20.32" height="20.32" fill="rgb(0,0,143)"/>
<rect x="1292.95" y="864.95" width="20.32" height="20.32" fill="rgb(0,0,175)"/>
<rect x="1312.96" y="864.95" width="20.32" height="20.32" fill="rgb(0,0,207)"/>
<rect x="1332.98" y="864.95" width="20.32" height="20.32" fill="rgb(0,0,223)"/>
<rect x="1352.99" y="864.95" width="20.32" height="20.32" fill="rgb(0,0,239)"/>
<rect x="1373.01" y="864.95" width="20.32" height="20.32" fill="rgb(0,0,191)"/>
<rect x="1393.02" y="864.95" width="20.32" height="20.32" fill="rgb(0,48,255)"/>
<rect x="1413.04" y="864.95" width="20.32" height="20.32" fill="rgb(0,0,159)"/>
<rect x="1433.05" y="864.95" width="20.32" height="20.32" fill="rgb(128,0,0)"/>
<rect x="1453.07" y="864.95" width="20.32" height="20.32" fill="rgb(0,0,239)"/>
<rect x="1473.08" y="864.95" width="20.32" height="20.32" fill="rgb(0,143,255)"/>
<rect x="1493.1" y="864.95" width="40.33" height="20.32" fill="rgb(0,0,207)"/>
<rect x="1533.12" y="864.95" width="20.32" height="20.32" fill="rgb(0,0,191)"/>
<rect x="1553.14" y="864.95" width="20.32" height="20.32" fill="rgb(0,0,207)"/>
<rect x="1573.16" y="864.95" width="20.32" height="20.32" fill="rgb(0,0,191)"/>
<rect x="1593.17" y="864.95" width="20.32" height="20.32" fill="rgb(0,0,207)"/>
<rect x="1613.19" y="864.95" width="40.33" height="20.32" fill="rgb(0,0,175)"/>
<rect x="1653.22" y="864.95" width="20.32" height="20.32" fill="rgb(0,0,207)"/>
<rect x="1673.23" y="864.95" width="20.32" height="20.32" fill="rgb(0,0,175)"/>
<rect x="1693.25" y="864.95" width="20.32" height="20.32" fill="rgb(0,0,255)"/>
<rect x="1713.26" y="864.95" width="20.32" height="20.32" fill="rgb(0,0,239)"/>
<rect x="1733.28" y="864.95" width="20.32" height="20.32" fill="rgb(0,32,255)"/>
<rect x="1753.29" y="864.95" width="20.32" height="20.32" fill="rgb(0,80,255)"/>
<rect x="1773.31" y="864.95" width="20.32" height="20.32" fill="rgb(0,0,207)"/>
<rect x="1793.32" y="864.95" width="20.32" height="20.32" fill="rgb(0,80,255)"/>
<rect x="1813.34" y="864.95" width="20.32" height="20.32" fill="rgb(0,0,207)"/>
<rect x="1232.9" y="884.96" width="20.32" height="20.32" fill="rgb(0,64,255)"/>
<rect x="1252.92" y="884.96" width="20.32" height="20.32" fill="rgb(159,255,96)"/>
<rect x="1272.93" y="884.96" width="40.33" height="20.32" fill="rgb(0,0,223)"/>
<rect x="1312.96" y="884.96" width="20.32" height="20.32" fill="rgb(0,0,175)"/>
<rect x="1332.98" y="884.96" width="20.32" height="20.32" fill="rgb(0,80,255)"/>
<rect x="1352.99" y="884.96" width="20.32" height="20.32" fill="rgb(0,32,255)"/>
<rect x="1373.01" y="884.96" width="20.32" height="20.32" fill="rgb(0,0,207)"/>
<rect x="1393.02" y="884.96" width="20.32" height="20.32" fill="rgb(0,0,191)"/>
<rect x="1413.04" y="884.96" width="20.32" height="20.32" fill="rgb(0,0,175)"/>
<rect x="1433.05" y="884.96" width="20.32" height="20.32" fill="rgb(0,0,239)"/>
<rect x="1453.07" y="884.96" width="20.32" height="20.32" fill="rgb(128,0,0)"/>
<rect x="1473.08" y="884.96" width="20.32" height="20.32" fill="rgb(0,48,255)"/>
<rect x="1493.1" y="884.96" width="20.32" height="20.32" fill="rgb(0,191,255)"/>
<rect x="1513.11" y="884.96" width="20.32" height="20.32" fill="rgb(0,64,255)"/>
<rect x="1533.12" y="884.96" width="20.32" height="20.32" fill="rgb(0,32,255)"/>
<rect x="1553.14" y="884.96" width="20.32" height="20.32" fill="rgb(0,0,207)"/>
<rect x="1573.16" y="884.96" width="20.32" height="20.32" fill="rgb(0,0,239)"/>
<rect x="1593.17" y="884.96" width="20.32" height="20.32" fill="rgb(0,0,175)"/>
<rect x="1613.19" y="884.96" width="20.32" height="20.32" fill="rgb(0,0,239)"/>
<rect x="1633.2" y="884.96" width="20.32" height="20.32" fill="rgb(0,0,143)"/>
<rect x="1653.22" y="884.96" width="60.34" height="20.32" fill="rgb(0,0,159)"/>
<rect x="1713.26" y="884.96" width="20.32" height="20.32" fill="rgb(0,32,255)"/>
<rect x="1733.28" y="884.96" width="20.32" height="20.32" fill="rgb(0,80,255)"/>
<rect x="1753.29" y="884.96" width="20.32" height="20.32" fill="rgb(0,16,255)"/>
<rect x="1773.31" y="884.96" width="20.32" height="20.32" fill="rgb(0,191,255)"/>
<rect x="1793.32" y="884.96" width="20.32" height="20.32" fill="rgb(0,0,239)"/>
<rect x="1813.34" y="884.96" width="20.32" height="20.32" fill="rgb(64,255,191)"/>
<rect x="1232.9" y="904.98" width="20.32" height="20.32" fill="rgb(32,255,223)"/>
<rect x="1252.92" y="904.98" width="20.32" height="20.32" fill="rgb(0,96,255)"/>
<rect x="1272.93" y="904.98" width="60.34" height="20.32" fill="rgb(0,0,191)"/>
<rect x="1332.98" y="904.98" width="20.32" height="20.32" fill="rgb(0,0,223)"/>
<rect x="1352.99" y="904.98" width="20.32" height="20.32" fill="rgb(0,80,255)"/>
<rect x="1373.01" y="904.98" width="40.33" height="20.32" fill="rgb(0,0,175)"/>
<rect x="1413.04" y="904.98" width="20.32" height="20.32" fill="rgb(0,0,191)"/>
<rect x="1433.05" y="904.98" width="20.32" height="20.32" fill="rgb(0,143,255)"/>
<rect x="1453.07" y="904.98" width="20.32" height="20.32" fill="rgb(0,48,255)"/>
<rect x="1473.08" y="904.98" width="20.32" height="20.32" fill="rgb(128,0,0)"/>
<rect x="1493.1" y="904.98" width="20.32" height="20.32" fill="rgb(0,96,255)"/>
<rect x="1513.11" y="904.98" width="20.32" height="20.32" fill="rgb(0,0,255)"/>
<rect x="1533.12" y="904.98" width="20.32" height="20.32" fill="rgb(0,0,207)"/>
<rect x="1553.14" y="904.98" width="20.32" height="20.32" fill="rgb(0,32,255)"/>
<rect x="1573.16" y="904.98" width="20.32" height="20.32" fill="rgb(0,16,255)"/>
<rect x="1593.17" y="904.98" width="20.32" height="20.32" fill="rgb(0,0,175)"/>
<rect x="1613.19" y="904.98" width="20.32" height="20.32" fill="rgb(0,0,191)"/>
<rect x="1633.2" y="904.98" width="40.33" height="20.32" fill="rgb(0,0,175)"/>
<rect x="1673.23" y="904.98" width="20.32" height="20.32" fill="rgb(0,0,159)"/>
<rect x="1693.25" y="904.98" width="20.32" height="20.32" fill="rgb(0,0,175)"/>
<rect x="1713.26" y="904.98" width="20.32" height="20.32" fill="rgb(0,0,191)"/>
<rect x="1733.28" y="904.98" width="20.32" height="20.32" fill="rgb(0,64,255)"/>
<rect x="1753.29" y="904.98" width="20.32" height="20.32" fill="rgb(0,159,255)"/>
<rect x="1773.31" y="904.98" width="20.32" height="20.32" fill="rgb(0,96,255)"/>
<rect x="1793.32" y="904.98" width="20.32" height="20.32" fill="rgb(0,48,255)"/>
<rect x="1813.34" y="904.98" width="20.32" height="20.32" fill="rgb(0,32,255)"/>
<rect x="1232.9" y="924.99" width="20.32" height="20.32" fill="rgb(0,32,255)"/>
<rect x="1252.92" y="924.99" width="20.32" height="20.32" fill="rgb(64,255,191)"/>
<rect x="1272.93" y="924.99" width="20.32" height="20.32" fill="rgb(0,0,175)"/>
<rect x="1292.95" y="924.99" width="20.32" height="20.32" fill="rgb(0,0,223)"/>
<rect x="1312.96" y="924.99" width="20.32" height="20.32" fill="rgb(0,0,175)"/>
<rect x="1332.98" y="924.99" width="20.32" height="20.32" fill="rgb(0,0,207)"/>
<rect x="1352.99" y="924.99" width="20.32" height="20.32" fill="rgb(0,16,255)"/>
<rect x="1373.01" y="924.99" width="20.32" height="20.32" fill="rgb(0,0,207)"/>
<rect x="1393.02" y="924.99" width="20.32" height="20.32" fill="rgb(0,0,175)"/>
<rect x="1413.04" y="924.99" width="20.32" height="20.32" fill="rgb(0,0,191)"/>
<rect x="1433.05" y="924.99" width="20.32" height="20.32" fill="rgb(0,0,207)"/>
<rect x="1453.07" y="924.99" width="20.32" height="20.32" fill="rgb(0,191,255)"/>
<rect x="1473.08" y="924.99" width="20.32" height="20.32" fill="rgb(0,96,255)"/>
<rect x="1493.1" y="924.99" width="20.32" height="20.32" fill="rgb(128,0,0)"/>
<rect x="1513.11" y="924.99" width="20.32" height="20.32" fill="rgb(0,0,239)"/>
<rect x="1533.12" y="924.99" width="40.33" height="20.32" fill="rgb(0,0,207)"/>
<rect x="1573.16" y="924.99" width="20.32" height="20.32" fill="rgb(0,143,255)"/>
<rect x="1593.17" y="924.99" width="20.32" height="20.32" fill="rgb(0,0,175)"/>
<rect x="1613.19" y="924.99" width="20.32" height="20.32" fill="rgb(0,0,223)"/>
<rect x="1633.2" y="924.99" width="20.32" height="20.32" fill="rgb(0,0,239)"/>
<rect x="1653.22" y="924.99" width="60.34" height="20.32" fill="rgb(0,0,223)"/>
<rect x="1713.26" y="924.99" width="40.33" height="20.32" fill="rgb(0,0,207)"/>
<rect x="1753.29" y="924.99" width="20.32" height="20.32" fill="rgb(0,16,255)"/>
<rect x="1773.31" y="924.99" width="20.32" height="20.32" fill="rgb(0,191,255)"/>
<rect x="1793.32" y="924.99" width="20.32" height="20.32" fill="rgb(0,0,159)"/>
<rect x="1813.34" y="924.99" width="20.32" height="20.32" fill="rgb(0,48,255)"/>
<rect x="1232.9" y="945.01" width="20.32" height="20.32" fill="rgb(0,255,255)"/>
<rect x="1252.92" y="945.01" width="20.32" height="20.32" fill="rgb(0,48,255)"/>
<rect x="1272.93" y="945.01" width="20.32" height="20.32" fill="rgb(0,32,255)"/>
<rect x="1292.95" y="945.01" width="20.32" height="20.32" fill="rgb(0,0,175)"/>
<rect x="1312.96" y="945.01" width="20.32" height="20.32" fill="rgb(0,0,207)"/>
<rect x="1332.98" y="945.01" width="20.32" height="20.32" fill="rgb(0,191,255)"/>
<rect x="1352.99" y="945.01" width="20.32" height="20.32" fill="rgb(0,0,207)"/>
<rect x="1373.01" y="945.01" width="20.32" height="20.32" fill="rgb(0,80,255)"/>
<rect x="1393.02" y="945.01" width="20.32" height="20.32" fill="rgb(0,96,255)"/>
<rect x="1413.04" y="945.01" width="20.32" height="20.32" fill="rgb(0,0,191)"/>
<rect x="1433.05" y="945.01" width="20.32" height="20.32" fill="rgb(0,0,207)"/>
<rect x="1453.07" y="945.01" width="20.32" height="20.32" fill="rgb(0,64,255)"/>
<rect x="1473.08" y="945.01" width="20.32" height="20.32" fill="rgb(0,0,255)"/>
<rect x="1493.1" y="945.01" width="20.32" height="20.32" fill="rgb(0,0,239)"/>
<rect x="1513.11" y="945.01" width="20.32" height="20.32" fill="rgb(128,0,0)"/>
<rect x="1533.12" y="945.01" width="20.32" height="20.32" fill="rgb(0,0,207)"/>
<rect x="1553.14" y="945.01" width="20.32" height="20.32" fill="rgb(0,0,143)"/>
<rect x="1573.16" y="945.01" width="20.32" height="20.32" fill="rgb(0,32,255)"/>
<rect x="1593.17" y="945.01" width="20.32" height="20.32" fill="rgb(0,0,159)"/>
<rect x="1613.19" y="945.01" width="20.32" height="20.32" fill="rgb(0,0,175)"/>
<rect x="1633.2" y="945.01" width="20.32" height="20.32" fill="rgb(0,0,159)"/>
<rect x="1653.22" y="945.01" width="20.32" height="20.32" fill="rgb(0,0,143)"/>
<rect x="1673.23" y="945.01" width="20.32" height="20.32" fill="rgb(0,0,239)"/>
<rect x="1693.25" y="945.01" width="20.32" height="20.32" fill="rgb(0,0,159)"/>
<rect x="1713.26" y="945.01" width="20.32" height="20.32" fill="rgb(0,112,255)"/>
<rect x="1733.28" y="945.01" width="20.32" height="20.32" fill="rgb(0,0,223)"/>
<rect x="1753.29" y="945.01" width="20.32" height="20.32" fill="rgb(0,0,239)"/>
<rect x="1773.31" y="945.01" width="20.32" height="20.32" fill="rgb(0,80,255)"/>
<rect x="1793.32" y="945.01" width="20.32" height="20.32" fill="rgb(0,0,191)"/>
<rect x="1813.34" y="945.01" width="20.32" height="20.32" fill="rgb(0,0,239)"/>
<rect x="1232.9" y="965.02" width="20.32" height="20.32" fill="rgb(0,80,255)"/>
<rect x="1252.92" y="965.02" width="20.32" height="20.32" fill="rgb(0,239,255)"/>
<rect x="1272.93" y="965.02" width="20.32" height="20.32" fill="rgb(0,0,255)"/>
<rect x="1292.95" y="965.02" width="20.32" height="20.32" fill="rgb(0,0,239)"/>
<rect x="1312.96" y="965.02" width="20.32" height="20.32" fill="rgb(0,112,255)"/>
<rect x="1332.98" y="965.02" width="20.32" height="20.32" fill="rgb(0,239,255)"/>
<rect x="1352.99" y="965.02" width="20.32" height="20.32" fill="rgb(0,0,175)"/>
<rect x="1373.01" y="965.02" width="20.32" height="20.32" fill="rgb(0,0,207)"/>
<rect x="1393.02" y="965.02" width="60.34" height="20.32" fill="rgb(0,0,191)"/>
<rect x="1453.07" y="965.02" width="20.32" height="20.32" fill="rgb(0,32,255)"/>
<rect x="1473.08" y="965.02" width="60.34" height="20.32" fill="rgb(0,0,207)"/>
<rect x="1533.12" y="965.02" width="20.32" height="20.32" fill="rgb(128,0,0)"/>
<rect x="1553.14" y="965.02" width="20.32" height="20.32" fill="rgb(0,0,223)"/>
<rect x="1573.16" y="965.02" width="20.32" height="20.32" fill="rgb(0,48,255)"/>
<rect x="1593.17" y="965.02" width="20.32" height="20.32" fill="rgb(0,0,223)"/>
<rect x="1613.19" y="965.02" width="20.32" height="20.32" fill="rgb(0,0,207)"/>
<rect x="1633.2" y="965.02" width="20.32" height="20.32" fill="rgb(0,0,143)"/>
<rect x="1653.22" y="965.02" width="20.32" height="20.32" fill="rgb(0,0,207)"/>
<rect x="1673.23" y="965.02" width="20.32" height="20.32" fill="rgb(0,0,175)"/>
<rect x="1693.25" y="965.02" width="40.33" height="20.32" fill="rgb(0,0,223)"/>
<rect x="1733.28" y="965.02" width="20.32" height="20.32" fill="rgb(0,159,255)"/>
<rect x="1753.29" y="965.02" width="40.33" height="20.32" fill="rgb(0,64,255)"/>
<rect x="1793.32" y="965.02" width="20.32" height="20.32" fill="rgb(0,96,255)"/>
<rect x="1813.34" y="965.02" width="20.32" height="20.32" fill="rgb(0,191,255)"/>
<rect x="1232.9" y="985.04" width="20.32" height="20.32" fill="rgb(0,143,255)"/>
<rect x="1252.92" y="985.04" width="20.32" height="20.32" fill="rgb(0,0,175)"/>
<rect x="1272.93" y="985.04" width="20.32" height="20.32" fill="rgb(0,0,223)"/>
<rect x="1292.95" y="985.04" width="20.32" height="20.32" fill="rgb(0,0,175)"/>
<rect x="1312.96" y="985.04" width="40.33" height="20.32" fill="rgb(0,0,159)"/>
<rect x="1352.99" y="985.04" width="20.32" height="20.32" fill="rgb(0,0,191)"/>
<rect x="1373.01" y="985.04" width="20.32" height="20.32" fill="rgb(0,0,143)"/>
<rect x="1393.02" y="985.04" width="20.32" height="20.32" fill="rgb(0,0,159)"/>
<rect x="1413.04" y="985.04" width="20.32" height="20.32" fill="rgb(0,0,191)"/>
<rect x="1433.05" y="985.04" width="40.33" height="20.32" fill="rgb(0,0,207)"/>
<rect x="1473.08" y="985.04" width="20.32" height="20.32" fill="rgb(0,32,255)"/>
<rect x="1493.1" y="985.04" width="20.32" height="20.32" fill="rgb(0,0,207)"/>
<rect x="1513.11" y="985.04" width="20.32" height="20.32" fill="rgb(0,0,143)"/>
<rect x="1533.12" y="985.04" width="20.32" height="20.32" fill="rgb(0,0,223)"/>
<rect x="1553.14" y="985.04" width="20.32" height="20.32" fill="rgb(128,0,0)"/>
<rect x="1573.16" y="985.04" width="20.32" height="20.32" fill="rgb(0,0,239)"/>
<rect x="1593.17" y="985.04" width="20.32" height="20.32" fill="rgb(0,0,207)"/>
<rect x="1613.19" y="985.04" width="20.32" height="20.32" fill="rgb(0,0,191)"/>
<rect x="1633.2" y="985.04" width="60.34" height="20.32" fill="rgb(0,0,159)"/>
<rect x="1693.25" y="985.04" width="20.32" height="20.32" fill="rgb(0,0,175)"/>
<rect x="1713.26" y="985.04" width="20.32" height="20.32" fill="rgb(0,0,159)"/>
<rect x="1733.28" y="985.04" width="20.32" height="20.32" fill="rgb(0,0,143)"/>
<rect x="1753.29" y="985.04" width="20.32" height="20.32" fill="rgb(0,64,255)"/>
<rect x="1773.31" y="985.04" width="20.32" height="20.32" fill="rgb(0,0,191)"/>
<rect x="1793.32" y="985.04" width="20.32" height="20.32" fill="rgb(0,0,239)"/>
<rect x="1813.34" y="985.04" width="20.32" height="20.32" fill="rgb(0,0,159)"/>
<rect x="1232.9" y="1005.05" width="20.32" height="20.32" fill="rgb(0,0,239)"/>
<rect x="1252.92" y="1005.05" width="20.32" height="20.32" fill="rgb(0,159,255)"/>
<rect x="1272.93" y="1005.05" width="20.32" height="20.32" fill="rgb(0,0,207)"/>
<rect x="1292.95" y="1005.05" width="60.34" height="20.32" fill="rgb(0,0,191)"/>
<rect x="1352.99" y="1005.05" width="40.33" height="20.32" fill="rgb(0,0,159)"/>
<rect x="1393.02" y="1005.05" width="20.32" height="20.32" fill="rgb(0,0,207)"/>
<rect x="1413.04" y="1005.05" width="20.32" height="20.32" fill="rgb(0,0,175)"/>
<rect x="1433.05" y="1005.05" width="20.32" height="20.32" fill="rgb(0,0,191)"/>
<rect x="1453.07" y="1005.05" width="20.32" height="20.32" fill="rgb(0,0,239)"/>
<rect x="1473.08" y="1005.05" width="20.32" height="20.32" fill="rgb(0,16,255)"/>
<rect x="1493.1" y="1005.05" width="20.32" height="20.32" fill="rgb(0,143,255)"/>
<rect x="1513.11" y="1005.05" width="20.32" height="20.32" fill="rgb(0,32,255)"/>
<rect x="1533.12" y="1005.05" width="20.32" height="20.32" fill="rgb(0,48,255)"/>
<rect x="1553.14" y="1005.05" width="20.32" height="20.32" fill="rgb(0,0,239)"/>
<rect x="1573.16" y="1005.05" width="20.32" height="20.32" fill="rgb(128,0,0)"/>
<rect x="1593.17" y="1005.05" width="20.32" height="20.32" fill="rgb(0,0,159)"/>
<rect x="1613.19" y="1005.05" width="20.32" height="20.32" fill="rgb(0,0,239)"/>
<rect x="1633.2" y="1005.05" width="20.32" height="20.32" fill="rgb(0,0,143)"/>
<rect x="1653.22" y="1005.05" width="20.32" height="20.32" fill="rgb(0,0,159)"/>
<rect x="1673.23" y="1005.05" width="20.32" height="20.32" fill="rgb(0,0,207)"/>
<rect x="1693.25" y="1005.05" width="20.32" height="20.32" fill="rgb(0,0,175)"/>
<rect x="1713.26" y="1005.05" width="20.32" height="20.32" fill="rgb(0,0,207)"/>
<rect x="1733.28" y="1005.05" width="20.32" height="20.32" fill="rgb(0,0,191)"/>
<rect x="1753.29" y="1005.05" width="20.32" height="20.32" fill="rgb(0,0,239)"/>
<rect x="1773.31" y="1005.05" width="20.32" height="20.32" fill="rgb(0,159,255)"/>
<rect x="1793.32" y="1005.05" width="20.32" height="20.32" fill="rgb(0,0,207)"/>
<rect x="1813.34" y="1005.05" width="20.32" height="20.32" fill="rgb(0,0,175)"/>
<rect x="1232.9" y="1025.07" width="20.32" height="20.32" fill="rgb(0,112,255)"/>
<rect x="1252.92" y="1025.07" width="20.32" height="20.32" fill="rgb(0,0,239)"/>
<rect x="1272.93" y="1025.07" width="60.34" height="20.32" fill="rgb(0,0,191)"/>
<rect x="1332.98" y="1025.07" width="20.32" height="20.32" fill="rgb(0,0,143)"/>
<rect x="1352.99" y="1025.07" width="40.33" height="20.32" fill="rgb(0,0,159)"/>
<rect x="1393.02" y="1025.07" width="40.33" height="20.32" fill="rgb(0,0,191)"/>
<rect x="1433.05" y="1025.07" width="20.32" height="20.32" fill="rgb(0,0,207)"/>
<rect x="1453.07" y="1025.07" width="60.34" height="20.32" fill="rgb(0,0,175)"/>
<rect x="1513.11" y="1025.07" width="20.32" height="20.32" fill="rgb(0,0,159)"/>
<rect x="1533.12" y="1025.07" width="20.32" height="20.32" fill="rgb(0,0,223)"/>
<rect x="1553.14" y="1025.07" width="20.32" height="20.32" fill="rgb(0,0,207)"/>
<rect x="1573.16" y="1025.07" width="20.32" height="20.32" fill="rgb(0,0,159)"/>
<rect x="1593.17" y="1025.07" width="20.32" height="20.32" fill="rgb(128,0,0)"/>
<rect x="1613.19" y="1025.07" width="20.32" height="20.32" fill="rgb(0,80,255)"/>
<rect x="1633.2" y="1025.07" width="20.32" height="20.32" fill="rgb(0,96,255)"/>
<rect x="1653.22" y="1025.07" width="20.32" height="20.32" fill="rgb(0,48,255)"/>
<rect x="1673.23" y="1025.07" width="20.32" height="20.32" fill="rgb(0,0,223)"/>
<rect x="1693.25" y="1025.07" width="20.32" height="20.32" fill="rgb(0,0,175)"/>
<rect x="1713.26" y="1025.07" width="20.32" height="20.32" fill="rgb(0,0,159)"/>
<rect x="1733.28" y="1025.07" width="20.32" height="20.32" fill="rgb(0,0,207)"/>
<rect x="1753.29" y="1025.07" width="20.32" height="20.32" fill="rgb(0,0,255)"/>
<rect x="1773.31" y="1025.07" width="20.32" height="20.32" fill="rgb(0,0,239)"/>
<rect x="1793.32" y="1025.07" width="20.32" height="20.32" fill="rgb(0,0,255)"/>
<rect x="1813.34" y="1025.07" width="20.32" height="20.32" fill="rgb(0,0,191)"/>
<rect x="1232.9" y="1045.09" width="20.32" height="20.32" fill="rgb(0,0,207)"/>
<rect x="1252.92" y="1045.09" width="20.32" height="20.32" fill="rgb(0,112,255)"/>
<rect x="1272.93" y="1045.09" width="20.32" height="20.32" fill="rgb(0,0,143)"/>
<rect x="1292.95" y="1045.09" width="20.32" height="20.32" fill="rgb(0,0,175)"/>
<rect x="1312.96" y="1045.09" width="20.32" height="20.32" fill="rgb(0,0,159)"/>
<rect x="1332.98" y="1045.09" width="80.36" height="20.32" fill="rgb(0,0,175)"/>
<rect x="1413.04" y="1045.09" width="20.32" height="20.32" fill="rgb(0,0,191)"/>
<rect x="1433.05" y="1045.09" width="20.32" height="20.32" fill="rgb(0,0,175)"/>
<rect x="1453.07" y="1045.09" width="20.32" height="20.32" fill="rgb(0,0,239)"/>
<rect x="1473.08" y="1045.09" width="20.32" height="20.32" fill="rgb(0,0,191)"/>
<rect x="1493.1" y="1045.09" width="20.32" height="20.32" fill="rgb(0,0,223)"/>
<rect x="1513.11" y="1045.09" width="20.32" height="20.32" fill="rgb(0,0,175)"/>
<rect x="1533.12" y="1045.09" width="20.32" height="20.32" fill="rgb(0,0,207)"/>
<rect x="1553.14" y="1045.09" width="20.32" height="20.32" fill="rgb(0,0,191)"/>
<rect x="1573.16" y="1045.09" width="20.32" height="20.32" fill="rgb(0,0,239)"/>
<rect x="1593.17" y="1045.09" width="20.32" height="20.32" fill="rgb(0,80,255)"/>
<rect x="1613.19" y="1045.09" width="20.32" height="20.32" fill="rgb(128,0,0)"/>
<rect x="1633.2" y="1045.09" width="20.32" height="20.32" fill="rgb(0,32,255)"/>
<rect x="1653.22" y="1045.09" width="40.33" height="20.32" fill="rgb(0,0,239)"/>
<rect x="1693.25" y="1045.09" width="20.32" height="20.32" fill="rgb(0,0,255)"/>
<rect x="1713.26" y="1045.09" width="20.32" height="20.32" fill="rgb(0,0,159)"/>
<rect x="1733.28" y="1045.09" width="20.32" height="20.32" fill="rgb(0,48,255)"/>
<rect x="1753.29" y="1045.09" width="20.32" height="20.32" fill="rgb(0,0,175)"/>
<rect x="1773.31" y="1045.09" width="20.32" height="20.32" fill="rgb(0,32,255)"/>
<rect x="1793.32" y="1045.09" width="20.32" height="20.32" fill="rgb(0,0,239)"/>
<rect x="1813.34" y="1045.09" width="20.32" height="20.32" fill="rgb(0,0,255)"/>
<rect x="1232.9" y="1065.1" width="20.32" height="20.32" fill="rgb(0,112,255)"/>
<rect x="1252.92" y="1065.1" width="20.32" height="20.32" fill="rgb(0,0,223)"/>
<rect x="1272.93" y="1065.1" width="20.32" height="20.32" fill="rgb(0,0,175)"/>
<rect x="1292.95" y="1065.1" width="20.32" height="20.32" fill="rgb(0,0,159)"/>
<rect x="1312.96" y="1065.1" width="20.32" height="20.32" fill="rgb(0,0,175)"/>
<rect x="1332.98" y="1065.1" width="40.33" height="20.32" fill="rgb(0,0,159)"/>
<rect x="1373.01" y="1065.1" width="20.32" height="20.32" fill="rgb(0,0,175)"/>
<rect x="1393.02" y="1065.1" width="20.32" height="20.32" fill="rgb(0,0,239)"/>
<rect x="1413.04" y="1065.1" width="20.32" height="20.32" fill="rgb(0,0,191)"/>
<rect x="1433.05" y="1065.1" width="20.32" height="20.32" fill="rgb(0,0,175)"/>
<rect x="1453.07" y="1065.1" width="20.32" height="20.32" fill="rgb(0,0,143)"/>
<rect x="1473.08" y="1065.1" width="20.32" height="20.32" fill="rgb(0,0,175)"/>
<rect x="1493.1" y="1065.1" width="20.32" height="20.32" fill="rgb(0,0,239)"/>
<rect x="1513.11" y="1065.1" width="20.32" height="20.32" fill="rgb(0,0,159)"/>
<rect x="1533.12" y="1065.1" width="20.32" height="20.32" fill="rgb(0,0,143)"/>
<rect x="1553.14" y="1065.1" width="20.32" height="20.32" fill="rgb(0,0,159)"/>
<rect x="1573.16" y="1065.1" width="20.32" height="20.32" fill="rgb(0,0,143)"/>
<rect x="1593.17" y="1065.1" width="20.32" height="20.32" fill="rgb(0,96,255)"/>
<rect x="1613.19" y="1065.1" width="20.32" height="20.32" fill="rgb(0,32,255)"/>
<rect x="1633.2" y="1065.1" width="20.32" height="20.32" fill="rgb(128,0,0)"/>
<rect x="1653.22" y="1065.1" width="20.32" height="20.32" fill="rgb(0,143,255)"/>
<rect x="1673.23" y="1065.1" width="20.32" height="20.32" fill="rgb(48,255,207)"/>
<rect x="1693.25" y="1065.1" width="20.32" height="20.32" fill="rgb(0,128,255)"/>
<rect x="1713.26" y="1065.1" width="40.33" height="20.32" fill="rgb(0,0,207)"/>
<rect x="1753.29" y="1065.1" width="20.32" height="20.32" fill="rgb(0,0,191)"/>
<rect x="1773.31" y="1065.1" width="20.32" height="20.32" fill="rgb(0,0,175)"/>
<rect x="1793.32" y="1065.1" width="20.32" height="20.32" fill="rgb(0,0,159)"/>
<rect x="1813.34" y="1065.1" width="20.32" height="20.32" fill="rgb(0,0,143)"/>
<rect x="1232.9" y="1085.12" width="20.32" height="20.32" fill="rgb(0,64,255)"/>
<rect x="1252.92" y="1085.12" width="20.32" height="20.32" fill="rgb(0,112,255)"/>
<rect x="1272.93" y="1085.12" width="40.33" height="20.32" fill="rgb(0,0,175)"/>
<rect x="1312.96" y="1085.12" width="20.32" height="20.32" fill="rgb(0,0,207)"/>
<rect x="1332.98" y="1085.12" width="60.34" height="20.32" fill="rgb(0,0,175)"/>
<rect x="1393.02" y="1085.12" width="20.32" height="20.32" fill="rgb(0,0,223)"/>
<rect x="1413.04" y="1085.12" width="20.32" height="20.32" fill="rgb(0,0,191)"/>
<rect x="1433.05" y="1085.12" width="20.32" height="20.32" fill="rgb(0,0,207)"/>
<rect x="1453.07" y="1085.12" width="20.32" height="20.32" fill="rgb(0,0,159)"/>
<rect x="1473.08" y="1085.12" width="20.32" height="20.32" fill="rgb(0,0,175)"/>
<rect x="1493.1" y="1085.12" width="20.32" height="20.32" fill="rgb(0,0,223)"/>
<rect x="1513.11" y="1085.12" width="20.32" height="20.32" fill="rgb(0,0,143)"/>
<rect x="1533.12" y="1085.12" width="20.32" height="20.32" fill="rgb(0,0,207)"/>
<rect x="1553.14" y="1085.12" width="40.33" height="20.32" fill="rgb(0,0,159)"/>
<rect x="1593.17" y="1085.12" width="20.32" height="20.32" fill="rgb(0,48,255)"/>
<rect x="1613.19" y="1085.12" width="20.32" height="20.32" fill="rgb(0,0,239)"/>
<rect x="1633.2" y="1085.12" width="20.32" height="20.32" fill="rgb(0,143,255)"/>
<rect x="1653.22" y="1085.12" width="20.32" height="20.32" fill="rgb(128,0,0)"/>
<rect x="1673.23" y="1085.12" width="20.32" height="20.32" fill="rgb(0,0,255)"/>
<rect x="1693.25" y="1085.12" width="20.32" height="20.32" fill="rgb(0,255,255)"/>
<rect x="1713.26" y="1085.12" width="20.32" height="20.32" fill="rgb(0,0,239)"/>
<rect x="1733.28" y="1085.12" width="40.33" height="20.32" fill="rgb(0,16,255)"/>
<rect x="1773.31" y="1085.12" width="20.32" height="20.32" fill="rgb(0,32,255)"/>
<rect x="1793.32" y="1085.12" width="20.32" height="20.32" fill="rgb(0,64,255)"/>
<rect x="1813.34" y="1085.12" width="20.32" height="20.32" fill="rgb(0,0,191)"/>
<rect x="1232.9" y="1105.13" width="20.32" height="20.32" fill="rgb(0,112,255)"/>
<rect x="1252.92" y="1105.13" width="20.32" height="20.32" fill="rgb(0,0,239)"/>
<rect x="1272.93" y="1105.13" width="20.32" height="20.32" fill="rgb(0,0,175)"/>
<rect x="1292.95" y="1105.13" width="40.33" height="20.32" fill="rgb(0,0,191)"/>
<rect x="1332.98" y="1105.13" width="40.33" height="20.32" fill="rgb(0,0,159)"/>
<rect x="1373.01" y="1105.13" width="20.32" height="20.32" fill="rgb(0,0,191)"/>
<rect x="1393.02" y="1105.13" width="20.32" height="20.32" fill="rgb(0,0,223)"/>
<rect x="1413.04" y="1105.13" width="20.32" height="20.32" fill="rgb(0,0,191)"/>
<rect x="1433.05" y="1105.13" width="20.32" height="20.32" fill="rgb(0,0,175)"/>
<rect x="1453.07" y="1105.13" width="40.33" height="20.32" fill="rgb(0,0,159)"/>
<rect x="1493.1" y="1105.13" width="20.32" height="20.32" fill="rgb(0,0,223)"/>
<rect x="1513.11" y="1105.13" width="20.32" height="20.32" fill="rgb(0,0,239)"/>
<rect x="1533.12" y="1105.13" width="20.32" height="20.32" fill="rgb(0,0,175)"/>
<rect x="1553.14" y="1105.13" width="20.32" height="20.32" fill="rgb(0,0,159)"/>
<rect x="1573.16" y="1105.13" width="20.32" height="20.32" fill="rgb(0,0,207)"/>
<rect x="1593.17" y="1105.13" width="20.32" height="20.32" fill="rgb(0,0,223)"/>
<rect x="1613.19" y="1105.13" width="20.32" height="20.32" fill="rgb(0,0,239)"/>
<rect x="1633.2" y="1105.13" width="20.32" height="20.32" fill="rgb(48,255,207)"/>
<rect x="1653.22" y="1105.13" width="20.32" height="20.32" fill="rgb(0,0,255)"/>
<rect x="1673.23" y="1105.13" width="20.32" height="20.32" fill="rgb(128,0,0)"/>
<rect x="1693.25" y="1105.13" width="20.32" height="20.32" fill="rgb(96,255,159)"/>
<rect x="1713.26" y="1105.13" width="40.33" height="20.32" fill="rgb(0,0,191)"/>
<rect x="1753.29" y="1105.13" width="20.32" height="20.32" fill="rgb(0,0,159)"/>
<rect x="1773.31" y="1105.13" width="20.32" height="20.32" fill="rgb(0,0,223)"/>
<rect x="1793.32" y="1105.13" width="20.32" height="20.32" fill="rgb(0,0,175)"/>
<rect x="1813.34" y="1105.13" width="20.32" height="20.32" fill="rgb(0,0,143)"/>
<rect x="1232.9" y="1125.14" width="20.32" height="20.32" fill="rgb(0,80,255)"/>
<rect x="1252.92" y="1125.14" width="20.32" height="20.32" fill="rgb(0,64,255)"/>
<rect x="1272.93" y="1125.14" width="20.32" height="20.32" fill="rgb(0,0,175)"/>
<rect x="1292.95" y="1125.14" width="20.32" height="20.32" fill="rgb(0,0,191)"/>
<rect x="1312.96" y="1125.14" width="20.32" height="20.32" fill="rgb(0,0,159)"/>
<rect x="1332.98" y="1125.14" width="20.32" height="20.32" fill="rgb(0,0,255)"/>
<rect x="1352.99" y="1125.14" width="20.32" height="20.32" fill="rgb(0,0,175)"/>
<rect x="1373.01" y="1125.14" width="20.32" height="20.32" fill="rgb(0,0,191)"/>
<rect x="1393.02" y="1125.14" width="20.32" height="20.32" fill="rgb(0,0,223)"/>
<rect x="1413.04" y="1125.14" width="20.32" height="20.32" fill="rgb(0,0,175)"/>
<rect x="1433.05" y="1125.14" width="20.32" height="20.32" fill="rgb(0,0,255)"/>
<rect x="1453.07" y="1125.14" width="20.32" height="20.32" fill="rgb(0,0,159)"/>
<rect x="1473.08" y="1125.14" width="20.32" height="20.32" fill="rgb(0,0,175)"/>
<rect x="1493.1" y="1125.14" width="20.32" height="20.32" fill="rgb(0,0,223)"/>
<rect x="1513.11" y="1125.14" width="20.32" height="20.32" fill="rgb(0,0,159)"/>
<rect x="1533.12" y="1125.14" width="20.32" height="20.32" fill="rgb(0,0,223)"/>
<rect x="1553.14" y="1125.14" width="60.34" height="20.32" fill="rgb(0,0,175)"/>
<rect x="1613.19" y="1125.14" width="20.32" height="20.32" fill="rgb(0,0,255)"/>
<rect x="1633.2" y="1125.14" width="20.32" height="20.32" fill="rgb(0,128,255)"/>
<rect x="1653.22" y="1125.14" width="20.32" height="20.32" fill="rgb(0,255,255)"/>
<rect x="1673.23" y="1125.14" width="20.32" height="20.32" fill="rgb(96,255,159)"/>
<rect x="1693.25" y="1125.14" width="20.32" height="20.32" fill="rgb(128,0,0)"/>
<rect x="1713.26" y="1125.14" width="20.32" height="20.32" fill="rgb(0,16,255)"/>
<rect x="1733.28" y="1125.14" width="20.32" height="20.32" fill="rgb(0,0,207)"/>
<rect x="1753.29" y="1125.14" width="20.32" height="20.32" fill="rgb(0,0,191)"/>
<rect x="1773.31" y="1125.14" width="20.32" height="20.32" fill="rgb(0,0,223)"/>
<rect x="1793.32" y="1125.14" width="20.32" height="20.32" fill="rgb(0,0,175)"/>
<rect x="1813.34" y="1125.14" width="20.32" height="20.32" fill="rgb(0,0,143)"/>
<rect x="1232.9" y="1145.16" width="20.32" height="20.32" fill="rgb(175,255,80)"/>
<rect x="1252.92" y="1145.16" width="20.32" height="20.32" fill="rgb(0,159,255)"/>
<rect x="1272.93" y="1145.16" width="20.32" height="20.32" fill="rgb(0,0,207)"/>
<rect x="1292.95" y="1145.16" width="20.32" height="20.32" fill="rgb(0,0,191)"/>
<rect x="1312.96" y="1145.16" width="20.32" height="20.32" fill="rgb(0,0,207)"/>
<rect x="1332.98" y="1145.16" width="20.32" height="20.32" fill="rgb(0,255,255)"/>
<rect x="1352.99" y="1145.16" width="20.32" height="20.32" fill="rgb(0,0,239)"/>
<rect x="1373.01" y="1145.16" width="20.32" height="20.32" fill="rgb(0,159,255)"/>
<rect x="1393.02" y="1145.16" width="20.32" height="20.32" fill="rgb(0,112,255)"/>
<rect x="1413.04" y="1145.16" width="20.32" height="20.32" fill="rgb(0,0,159)"/>
<rect x="1433.05" y="1145.16" width="20.32" height="20.32" fill="rgb(0,0,239)"/>
<rect x="1453.07" y="1145.16" width="20.32" height="20.32" fill="rgb(0,32,255)"/>
<rect x="1473.08" y="1145.16" width="20.32" height="20.32" fill="rgb(0,0,191)"/>
<rect x="1493.1" y="1145.16" width="20.32" height="20.32" fill="rgb(0,0,207)"/>
<rect x="1513.11" y="1145.16" width="20.32" height="20.32" fill="rgb(0,112,255)"/>
<rect x="1533.12" y="1145.16" width="20.32" height="20.32" fill="rgb(0,0,223)"/>
<rect x="1553.14" y="1145.16" width="20.32" height="20.32" fill="rgb(0,0,159)"/>
<rect x="1573.16" y="1145.16" width="20.32" height="20.32" fill="rgb(0,0,207)"/>
<rect x="1593.17" y="1145.16" width="40.33" height="20.32" fill="rgb(0,0,159)"/>
<rect x="1633.2" y="1145.16" width="20.32" height="20.32" fill="rgb(0,0,207)"/>
<rect x="1653.22" y="1145.16" width="20.32" height="20.32" fill="rgb(0,0,239)"/>
<rect x="1673.23" y="1145.16" width="20.32" height="20.32" fill="rgb(0,0,191)"/>
<rect x="1693.25" y="1145.16" width="20.32" height="20.32" fill="rgb(0,16,255)"/>
<rect x="1713.26" y="1145.16" width="20.32" height="20.32" fill="rgb(128,0,0)"/>
<rect x="1733.28" y="1145.16" width="20.32" height="20.32" fill="rgb(0,239,255)"/>
<rect x="1753.29" y="1145.16" width="20.32" height="20.32" fill="rgb(0,64,255)"/>
<rect x="1773.31" y="1145.16" width="40.33" height="20.32" fill="rgb(0,32,255)"/>
<rect x="1813.34" y="1145.16" width="20.32" height="20.32" fill="rgb(0,112,255)"/>
<rect x="1232.9" y="1165.17" width="20.32" height="20.32" fill="rgb(0,239,255)"/>
<rect x="1252.92" y="1165.17" width="20.32" height="20.32" fill="rgb(239,255,16)"/>
<rect x="1272.93" y="1165.17" width="20.32" height="20.32" fill="rgb(0,0,191)"/>
<rect x="1292.95" y="1165.17" width="20.32" height="20.32" fill="rgb(0,32,255)"/>
<rect x="1312.96" y="1165.17" width="20.32" height="20.32" fill="rgb(0,80,255)"/>
<rect x="1332.98" y="1165.17" width="20.32" height="20.32" fill="rgb(0,159,255)"/>
<rect x="1352.99" y="1165.17" width="20.32" height="20.32" fill="rgb(0,239,255)"/>
<rect x="1373.01" y="1165.17" width="40.33" height="20.32" fill="rgb(0,0,239)"/>
<rect x="1413.04" y="1165.17" width="20.32" height="20.32" fill="rgb(0,0,191)"/>
<rect x="1433.05" y="1165.17" width="20.32" height="20.32" fill="rgb(0,32,255)"/>
<rect x="1453.07" y="1165.17" width="20.32" height="20.32" fill="rgb(0,80,255)"/>
<rect x="1473.08" y="1165.17" width="20.32" height="20.32" fill="rgb(0,64,255)"/>
<rect x="1493.1" y="1165.17" width="20.32" height="20.32" fill="rgb(0,0,207)"/>
<rect x="1513.11" y="1165.17" width="20.32" height="20.32" fill="rgb(0,0,223)"/>
<rect x="1533.12" y="1165.17" width="20.32" height="20.32" fill="rgb(0,159,255)"/>
<rect x="1553.14" y="1165.17" width="20.32" height="20.32" fill="rgb(0,0,143)"/>
<rect x="1573.16" y="1165.17" width="20.32" height="20.32" fill="rgb(0,0,191)"/>
<rect x="1593.17" y="1165.17" width="20.32" height="20.32" fill="rgb(0,0,207)"/>
<rect x="1613.19" y="1165.17" width="20.32" height="20.32" fill="rgb(0,48,255)"/>
<rect x="1633.2" y="1165.17" width="20.32" height="20.32" fill="rgb(0,0,207)"/>
<rect x="1653.22" y="1165.17" width="20.32" height="20.32" fill="rgb(0,16,255)"/>
<rect x="1673.23" y="1165.17" width="20.32" height="20.32" fill="rgb(0,0,191)"/>
<rect x="1693.25" y="1165.17" width="20.32" height="20.32" fill="rgb(0,0,207)"/>
<rect x="1713.26" y="1165.17" width="20.32" height="20.32" fill="rgb(0,239,255)"/>
<rect x="1733.28" y="1165.17" width="20.32" height="20.32" fill="rgb(128,0,0)"/>
<rect x="1753.29" y="1165.17" width="20.32" height="20.32" fill="rgb(0,80,255)"/>
<rect x="1773.31" y="1165.17" width="20.32" height="20.32" fill="rgb(0,159,255)"/>
<rect x="1793.32" y="1165.17" width="20.32" height="20.32" fill="rgb(0,207,255)"/>
<rect x="1813.34" y="1165.17" width="20.32" height="20.32" fill="rgb(64,255,191)"/>
<rect x="1232.9" y="1185.19" width="20.32" height="20.32" fill="rgb(255,255,0)"/>
<rect x="1252.92" y="1185.19" width="20.32" height="20.32" fill="rgb(0,207,255)"/>
<rect x="1272.93" y="1185.19" width="20.32" height="20.32" fill="rgb(0,0,223)"/>
<rect x="1292.95" y="1185.19" width="20.32" height="20.32" fill="rgb(0,0,159)"/>
<rect x="1312.96" y="1185.19" width="20.32" height="20.32" fill="rgb(0,32,255)"/>
<rect x="1332.98" y="1185.19" width="20.32" height="20.32" fill="rgb(0,0,239)"/>
<rect x="1352.99" y="1185.19" width="20.32" height="20.32" fill="rgb(0,16,255)"/>
<rect x="1373.01" y="1185.19" width="20.32" height="20.32" fill="rgb(0,0,175)"/>
<rect x="1393.02" y="1185.19" width="20.32" height="20.32" fill="rgb(0,0,239)"/>
<rect x="1413.04" y="1185.19" width="20.32" height="20.32" fill="rgb(0,0,191)"/>
<rect x="1433.05" y="1185.19" width="20.32" height="20.32" fill="rgb(0,80,255)"/>
<rect x="1453.07" y="1185.19" width="20.32" height="20.32" fill="rgb(0,16,255)"/>
<rect x="1473.08" y="1185.19" width="20.32" height="20.32" fill="rgb(0,159,255)"/>
<rect x="1493.1" y="1185.19" width="20.32" height="20.32" fill="rgb(0,16,255)"/>
<rect x="1513.11" y="1185.19" width="20.32" height="20.32" fill="rgb(0,0,239)"/>
<rect x="1533.12" y="1185.19" width="40.33" height="20.32" fill="rgb(0,64,255)"/>
<rect x="1573.16" y="1185.19" width="20.32" height="20.32" fill="rgb(0,0,239)"/>
<rect x="1593.17" y="1185.19" width="20.32" height="20.32" fill="rgb(0,0,255)"/>
<rect x="1613.19" y="1185.19" width="20.32" height="20.32" fill="rgb(0,0,175)"/>
<rect x="1633.2" y="1185.19" width="20.32" height="20.32" fill="rgb(0,0,191)"/>
<rect x="1653.22" y="1185.19" width="20.32" height="20.32" fill="rgb(0,16,255)"/>
<rect x="1673.23" y="1185.19" width="20.32" height="20.32" fill="rgb(0,0,159)"/>
<rect x="1693.25" y="1185.19" width="20.32" height="20.32" fill="rgb(0,0,191)"/>
<rect x="1713.26" y="1185.19" width="20.32" height="20.32" fill="rgb(0,64,255)"/>
<rect x="1733.28" y="1185.19" width="20.32" height="20.32" fill="rgb(0,80,255)"/>
<rect x="1753.29" y="1185.19" width="20.32" height="20.32" fill="rgb(128,0,0)"/>
<rect x="1773.31" y="1185.19" width="20.32" height="20.32" fill="rgb(16,255,239)"/>
<rect x="1793.32" y="1185.19" width="20.32" height="20.32" fill="rgb(159,255,96)"/>
<rect x="1813.34" y="1185.19" width="20.32" height="20.32" fill="rgb(0,207,255)"/>
<rect x="1232.9" y="1205.2" width="20.32" height="20.32" fill="rgb(0,223,255)"/>
<rect x="1252.92" y="1205.2" width="20.32" height="20.32" fill="rgb(255,159,0)"/>
<rect x="1272.93" y="1205.2" width="40.33" height="20.32" fill="rgb(0,0,239)"/>
<rect x="1312.96" y="1205.2" width="20.32" height="20.32" fill="rgb(0,0,223)"/>
<rect x="1332.98" y="1205.2" width="20.32" height="20.32" fill="rgb(0,48,255)"/>
<rect x="1352.99" y="1205.2" width="20.32" height="20.32" fill="rgb(0,64,255)"/>
<rect x="1373.01" y="1205.2" width="20.32" height="20.32" fill="rgb(0,0,191)"/>
<rect x="1393.02" y="1205.2" width="20.32" height="20.32" fill="rgb(0,0,207)"/>
<rect x="1413.04" y="1205.2" width="20.32" height="20.32" fill="rgb(0,0,191)"/>
<rect x="1433.05" y="1205.2" width="20.32" height="20.32" fill="rgb(0,0,207)"/>
<rect x="1453.07" y="1205.2" width="20.32" height="20.32" fill="rgb(0,191,255)"/>
<rect x="1473.08" y="1205.2" width="20.32" height="20.32" fill="rgb(0,96,255)"/>
<rect x="1493.1" y="1205.2" width="20.32" height="20.32" fill="rgb(0,191,255)"/>
<rect x="1513.11" y="1205.2" width="20.32" height="20.32" fill="rgb(0,80,255)"/>
<rect x="1533.12" y="1205.2" width="20.32" height="20.32" fill="rgb(0,64,255)"/>
<rect x="1553.14" y="1205.2" width="20.32" height="20.32" fill="rgb(0,0,191)"/>
<rect x="1573.16" y="1205.2" width="20.32" height="20.32" fill="rgb(0,159,255)"/>
<rect x="1593.17" y="1205.2" width="20.32" height="20.32" fill="rgb(0,0,239)"/>
<rect x="1613.19" y="1205.2" width="20.32" height="20.32" fill="rgb(0,32,255)"/>
<rect x="1633.2" y="1205.2" width="20.32" height="20.32" fill="rgb(0,0,175)"/>
<rect x="1653.22" y="1205.2" width="20.32" height="20.32" fill="rgb(0,32,255)"/>
<rect x="1673.23" y="1205.2" width="40.33" height="20.32" fill="rgb(0,0,223)"/>
<rect x="1713.26" y="1205.2" width="20.32" height="20.32" fill="rgb(0,32,255)"/>
<rect x="1733.28" y="1205.2" width="20.32" height="20.32" fill="rgb(0,159,255)"/>
<rect x="1753.29" y="1205.2" width="20.32" height="20.32" fill="rgb(16,255,239)"/>
<rect x="1773.31" y="1205.2" width="20.32" height="20.32" fill="rgb(128,0,0)"/>
<rect x="1793.32" y="1205.2" width="20.32" height="20.32" fill="rgb(0,191,255)"/>
<rect x="1813.34" y="1205.2" width="20.32" height="20.32" fill="rgb(128,255,128)"/>
<rect x="1232.9" y="1225.22" width="20.32" height="20.32" fill="rgb(112,255,143)"/>
<rect x="1252.92" y="1225.22" width="20.32" height="20.32" fill="rgb(0,207,255)"/>
<rect x="1272.93" y="1225.22" width="20.32" height="20.32" fill="rgb(0,0,159)"/>
<rect x="1292.95" y="1225.22" width="20.32" height="20.32" fill="rgb(0,0,191)"/>
<rect x="1312.96" y="1225.22" width="20.32" height="20.32" fill="rgb(0,32,255)"/>
<rect x="1332.98" y="1225.22" width="20.32" height="20.32" fill="rgb(0,0,191)"/>
<rect x="1352.99" y="1225.22" width="20.32" height="20.32" fill="rgb(0,32,255)"/>
<rect x="1373.01" y="1225.22" width="40.33" height="20.32" fill="rgb(0,0,191)"/>
<rect x="1413.04" y="1225.22" width="20.32" height="20.32" fill="rgb(0,0,175)"/>
<rect x="1433.05" y="1225.22" width="20.32" height="20.32" fill="rgb(0,80,255)"/>
<rect x="1453.07" y="1225.22" width="20.32" height="20.32" fill="rgb(0,0,239)"/>
<rect x="1473.08" y="1225.22" width="20.32" height="20.32" fill="rgb(0,48,255)"/>
<rect x="1493.1" y="1225.22" width="20.32" height="20.32" fill="rgb(0,0,159)"/>
<rect x="1513.11" y="1225.22" width="20.32" height="20.32" fill="rgb(0,0,191)"/>
<rect x="1533.12" y="1225.22" width="20.32" height="20.32" fill="rgb(0,96,255)"/>
<rect x="1553.14" y="1225.22" width="20.32" height="20.32" fill="rgb(0,0,239)"/>
<rect x="1573.16" y="1225.22" width="20.32" height="20.32" fill="rgb(0,0,207)"/>
<rect x="1593.17" y="1225.22" width="20.32" height="20.32" fill="rgb(0,0,255)"/>
<rect x="1613.19" y="1225.22" width="20.32" height="20.32" fill="rgb(0,0,239)"/>
<rect x="1633.2" y="1225.22" width="20.32" height="20.32" fill="rgb(0,0,159)"/>
<rect x="1653.22" y="1225.22" width="20.32" height="20.32" fill="rgb(0,64,255)"/>
<rect x="1673.23" y="1225.22" width="40.33" height="20.32" fill="rgb(0,0,175)"/>
<rect x="1713.26" y="1225.22" width="20.32" height="20.32" fill="rgb(0,32,255)"/>
<rect x="1733.28" y="1225.22" width="20.32" height="20.32" fill="rgb(0,207,255)"/>
<rect x="1753.29" y="1225.22" width="20.32" height="20.32" fill="rgb(159,255,96)"/>
<rect x="1773.31" y="1225.22" width="20.32" height="20.32" fill="rgb(0,191,255)"/>
<rect x="1793.32" y="1225.22" width="20.32" height="20.32" fill="rgb(128,0,0)"/>
<rect x="1813.34" y="1225.22" width="20.32" height="20.32" fill="rgb(0,255,255)"/>
<rect x="1232.9" y="1245.24" width="20.32" height="20.32" fill="rgb(0,239,255)"/>
<rect x="1252.92" y="1245.24" width="20.32" height="20.32" fill="rgb(255,159,0)"/>
<rect x="1272.93" y="1245.24" width="20.32" height="20.32" fill="rgb(0,16,255)"/>
<rect x="1292.95" y="1245.24" width="20.32" height="20.32" fill="rgb(0,32,255)"/>
<rect x="1312.96" y="1245.24" width="20.32" height="20.32" fill="rgb(0,0,223)"/>
<rect x="1332.98" y="1245.24" width="20.32" height="20.32" fill="rgb(0,175,255)"/>
<rect x="1352.99" y="1245.24" width="20.32" height="20.32" fill="rgb(0,128,255)"/>
<rect x="1373.01" y="1245.24" width="20.32" height="20.32" fill="rgb(0,32,255)"/>
<rect x="1393.02" y="1245.24" width="20.32" height="20.32" fill="rgb(0,0,207)"/>
<rect x="1413.04" y="1245.24" width="20.32" height="20.32" fill="rgb(0,0,175)"/>
<rect x="1433.05" y="1245.24" width="20.32" height="20.32" fill="rgb(0,0,207)"/>
<rect x="1453.07" y="1245.24" width="20.32" height="20.32" fill="rgb(64,255,191)"/>
<rect x="1473.08" y="1245.24" width="20.32" height="20.32" fill="rgb(0,32,255)"/>
<rect x="1493.1" y="1245.24" width="20.32" height="20.32" fill="rgb(0,48,255)"/>
<rect x="1513.11" y="1245.24" width="20.32" height="20.32" fill="rgb(0,0,239)"/>
<rect x="1533.12" y="1245.24" width="20.32" height="20.32" fill="rgb(0,191,255)"/>
<rect x="1553.14" y="1245.24" width="20.32" height="20.32" fill="rgb(0,0,159)"/>
<rect x="1573.16" y="1245.24" width="20.32" height="20.32" fill="rgb(0,0,175)"/>
<rect x="1593.17" y="1245.24" width="20.32" height="20.32" fill="rgb(0,0,191)"/>
<rect x="1613.19" y="1245.24" width="20.32" height="20.32" fill="rgb(0,0,255)"/>
<rect x="1633.2" y="1245.24" width="20.32" height="20.32" fill="rgb(0,0,143)"/>
<rect x="1653.22" y="1245.24" width="20.32" height="20.32" fill="rgb(0,0,191)"/>
<rect x="1673.23" y="1245.24" width="40.33" height="20.32" fill="rgb(0,0,143)"/>
<rect x="1713.26" y="1245.24" width="20.32" height="20.32" fill="rgb(0,112,255)"/>
<rect x="1733.28" y="1245.24" width="20.32" height="20.32" fill="rgb(64,255,191)"/>
<rect x="1753.29" y="1245.24" width="20.32" height="20.32" fill="rgb(0,207,255)"/>
<rect x="1773.31" y="1245.24" width="20.32" height="20.32" fill="rgb(128,255,128)"/>
<rect x="1793.32" y="1245.24" width="20.32" height="20.32" fill="rgb(0,255,255)"/>
<rect x="1813.34" y="1245.24" width="20.32" height="20.32" fill="rgb(128,0,0)"/>
</g>
<rect x="1232.5" y="664.4" width="601.25" height="601.25" fill="none" stroke="#7a7a7a" stroke-width="0.9"/>
<text x="1227.7" y="681.7" font-size="16.5" text-anchor="end" font-weight="bold" fill="#696969">cortex.L</text>
<text transform="translate(1244.4 1269.6) rotate(-90) scale(1 1.04)" x="0" y="5.75" font-size="16.6" text-anchor="end" font-weight="bold" fill="#696969">cortex.L</text>
<text x="1227.7" y="701.6" font-size="16.5" text-anchor="end" font-weight="bold" fill="#696969">cortex.R</text>
<text transform="translate(1264.31 1269.6) rotate(-90) scale(1 1.04)" x="0" y="5.75" font-size="16.6" text-anchor="end" font-weight="bold" fill="#696969">cortex.R</text>
<text x="1227.7" y="721.5" font-size="16.5" text-anchor="end" font-weight="bold" fill="#000" stroke="#000" stroke-width="0.3">V1.L</text>
<text transform="translate(1284.22 1269.6) rotate(-90) scale(1 1.04)" x="0" y="5.75" font-size="16.6" text-anchor="end" font-weight="bold" fill="#000" stroke="#000" stroke-width="0.3">V1.L</text>
<text x="1227.7" y="741.4" font-size="16.5" text-anchor="end" font-weight="bold" fill="#000" stroke="#000" stroke-width="0.3">V1.R</text>
<text transform="translate(1304.13 1269.6) rotate(-90) scale(1 1.04)" x="0" y="5.75" font-size="16.6" text-anchor="end" font-weight="bold" fill="#000" stroke="#000" stroke-width="0.3">V1.R</text>
<text x="1227.7" y="761.3" font-size="16.5" text-anchor="end" font-weight="bold" fill="#696969">V2M.R</text>
<text transform="translate(1324.04 1269.6) rotate(-90) scale(1 1.04)" x="0" y="5.75" font-size="16.6" text-anchor="end" font-weight="bold" fill="#696969">V2M.R</text>
<text x="1227.7" y="781.2" font-size="16.5" text-anchor="end" font-weight="bold" fill="#696969">V2M.L</text>
<text transform="translate(1343.95 1269.6) rotate(-90) scale(1 1.04)" x="0" y="5.75" font-size="16.6" text-anchor="end" font-weight="bold" fill="#696969">V2M.L</text>
<text x="1227.7" y="801.1" font-size="16.5" text-anchor="end" font-weight="bold" fill="#000" stroke="#000" stroke-width="0.3">V2L.R</text>
<text transform="translate(1363.86 1269.6) rotate(-90) scale(1 1.04)" x="0" y="5.75" font-size="16.6" text-anchor="end" font-weight="bold" fill="#000" stroke="#000" stroke-width="0.3">V2L.R</text>
<text x="1227.7" y="821" font-size="16.5" text-anchor="end" font-weight="bold" fill="#000" stroke="#000" stroke-width="0.3">V2L.L</text>
<text transform="translate(1383.77 1269.6) rotate(-90) scale(1 1.04)" x="0" y="5.75" font-size="16.6" text-anchor="end" font-weight="bold" fill="#000" stroke="#000" stroke-width="0.3">V2L.L</text>
<text x="1227.7" y="840.9" font-size="16.5" text-anchor="end" font-weight="bold" fill="#696969">A1.L</text>
<text transform="translate(1403.68 1269.6) rotate(-90) scale(1 1.04)" x="0" y="5.75" font-size="16.6" text-anchor="end" font-weight="bold" fill="#696969">A1.L</text>
<text x="1227.7" y="860.8" font-size="16.5" text-anchor="end" font-weight="bold" fill="#696969">A1.R</text>
<text transform="translate(1423.59 1269.6) rotate(-90) scale(1 1.04)" x="0" y="5.75" font-size="16.6" text-anchor="end" font-weight="bold" fill="#696969">A1.R</text>
<text x="1227.7" y="880.7" font-size="16.5" text-anchor="end" font-weight="bold" fill="#000" stroke="#000" stroke-width="0.3">barrel.L</text>
<text transform="translate(1443.5 1269.6) rotate(-90) scale(1 1.04)" x="0" y="5.75" font-size="16.6" text-anchor="end" font-weight="bold" fill="#000" stroke="#000" stroke-width="0.3">barrel.L</text>
<text x="1227.7" y="900.6" font-size="16.5" text-anchor="end" font-weight="bold" fill="#000" stroke="#000" stroke-width="0.3">barrel.R</text>
<text transform="translate(1463.41 1269.6) rotate(-90) scale(1 1.04)" x="0" y="5.75" font-size="16.6" text-anchor="end" font-weight="bold" fill="#000" stroke="#000" stroke-width="0.3">barrel.R</text>
<text x="1227.7" y="920.5" font-size="16.5" text-anchor="end" font-weight="bold" fill="#696969">AS.L</text>
<text transform="translate(1483.32 1269.6) rotate(-90) scale(1 1.04)" x="0" y="5.75" font-size="16.6" text-anchor="end" font-weight="bold" fill="#696969">AS.L</text>
<text x="1227.7" y="940.4" font-size="16.5" text-anchor="end" font-weight="bold" fill="#696969">AS.R</text>
<text transform="translate(1503.23 1269.6) rotate(-90) scale(1 1.04)" x="0" y="5.75" font-size="16.6" text-anchor="end" font-weight="bold" fill="#696969">AS.R</text>
<text x="1227.7" y="960.3" font-size="16.5" text-anchor="end" font-weight="bold" fill="#000" stroke="#000" stroke-width="0.3">PPC.L</text>
<text transform="translate(1523.14 1269.6) rotate(-90) scale(1 1.04)" x="0" y="5.75" font-size="16.6" text-anchor="end" font-weight="bold" fill="#000" stroke="#000" stroke-width="0.3">PPC.L</text>
<text x="1227.7" y="980.2" font-size="16.5" text-anchor="end" font-weight="bold" fill="#000" stroke="#000" stroke-width="0.3">PPC.R</text>
<text transform="translate(1543.05 1269.6) rotate(-90) scale(1 1.04)" x="0" y="5.75" font-size="16.6" text-anchor="end" font-weight="bold" fill="#000" stroke="#000" stroke-width="0.3">PPC.R</text>
<text x="1227.7" y="1000.1" font-size="16.5" text-anchor="end" font-weight="bold" fill="#696969">LS.L</text>
<text transform="translate(1562.96 1269.6) rotate(-90) scale(1 1.04)" x="0" y="5.75" font-size="16.6" text-anchor="end" font-weight="bold" fill="#696969">LS.L</text>
<text x="1227.7" y="1020" font-size="16.5" text-anchor="end" font-weight="bold" fill="#696969">LS.R</text>
<text transform="translate(1582.87 1269.6) rotate(-90) scale(1 1.04)" x="0" y="5.75" font-size="16.6" text-anchor="end" font-weight="bold" fill="#696969">LS.R</text>
<text x="1227.7" y="1039.9" font-size="16.5" text-anchor="end" font-weight="bold" fill="#000" stroke="#000" stroke-width="0.3">FL.L</text>
<text transform="translate(1602.78 1269.6) rotate(-90) scale(1 1.04)" x="0" y="5.75" font-size="16.6" text-anchor="end" font-weight="bold" fill="#000" stroke="#000" stroke-width="0.3">FL.L</text>
<text x="1227.7" y="1059.8" font-size="16.5" text-anchor="end" font-weight="bold" fill="#000" stroke="#000" stroke-width="0.3">FL.R</text>
<text transform="translate(1622.69 1269.6) rotate(-90) scale(1 1.04)" x="0" y="5.75" font-size="16.6" text-anchor="end" font-weight="bold" fill="#000" stroke="#000" stroke-width="0.3">FL.R</text>
<text x="1227.7" y="1079.7" font-size="16.5" text-anchor="end" font-weight="bold" fill="#696969">HL.L</text>
<text transform="translate(1642.6 1269.6) rotate(-90) scale(1 1.04)" x="0" y="5.75" font-size="16.6" text-anchor="end" font-weight="bold" fill="#696969">HL.L</text>
<text x="1227.7" y="1099.6" font-size="16.5" text-anchor="end" font-weight="bold" fill="#696969">HL.R</text>
<text transform="translate(1662.51 1269.6) rotate(-90) scale(1 1.04)" x="0" y="5.75" font-size="16.6" text-anchor="end" font-weight="bold" fill="#696969">HL.R</text>
<text x="1227.7" y="1119.5" font-size="16.5" text-anchor="end" font-weight="bold" fill="#000" stroke="#000" stroke-width="0.3">T.L</text>
<text transform="translate(1682.42 1269.6) rotate(-90) scale(1 1.04)" x="0" y="5.75" font-size="16.6" text-anchor="end" font-weight="bold" fill="#000" stroke="#000" stroke-width="0.3">T.L</text>
<text x="1227.7" y="1139.4" font-size="16.5" text-anchor="end" font-weight="bold" fill="#000" stroke="#000" stroke-width="0.3">T.R</text>
<text transform="translate(1702.33 1269.6) rotate(-90) scale(1 1.04)" x="0" y="5.75" font-size="16.6" text-anchor="end" font-weight="bold" fill="#000" stroke="#000" stroke-width="0.3">T.R</text>
<text x="1227.7" y="1159.3" font-size="16.5" text-anchor="end" font-weight="bold" fill="#696969">RSA.L</text>
<text transform="translate(1722.24 1269.6) rotate(-90) scale(1 1.04)" x="0" y="5.75" font-size="16.6" text-anchor="end" font-weight="bold" fill="#696969">RSA.L</text>
<text x="1227.7" y="1179.2" font-size="16.5" text-anchor="end" font-weight="bold" fill="#696969">RSA.R</text>
<text transform="translate(1742.15 1269.6) rotate(-90) scale(1 1.04)" x="0" y="5.75" font-size="16.6" text-anchor="end" font-weight="bold" fill="#696969">RSA.R</text>
<text x="1227.7" y="1199.1" font-size="16.5" text-anchor="end" font-weight="bold" fill="#000" stroke="#000" stroke-width="0.3">M1.L</text>
<text transform="translate(1762.06 1269.6) rotate(-90) scale(1 1.04)" x="0" y="5.75" font-size="16.6" text-anchor="end" font-weight="bold" fill="#000" stroke="#000" stroke-width="0.3">M1.L</text>
<text x="1227.7" y="1219" font-size="16.5" text-anchor="end" font-weight="bold" fill="#000" stroke="#000" stroke-width="0.3">M1.R</text>
<text transform="translate(1781.97 1269.6) rotate(-90) scale(1 1.04)" x="0" y="5.75" font-size="16.6" text-anchor="end" font-weight="bold" fill="#000" stroke="#000" stroke-width="0.3">M1.R</text>
<text x="1227.7" y="1238.9" font-size="16.5" text-anchor="end" font-weight="bold" fill="#696969">M2.L</text>
<text transform="translate(1801.88 1269.6) rotate(-90) scale(1 1.04)" x="0" y="5.75" font-size="16.6" text-anchor="end" font-weight="bold" fill="#696969">M2.L</text>
<text x="1227.7" y="1258.8" font-size="16.5" text-anchor="end" font-weight="bold" fill="#696969">M2.R</text>
<text transform="translate(1821.79 1269.6) rotate(-90) scale(1 1.04)" x="0" y="5.75" font-size="16.6" text-anchor="end" font-weight="bold" fill="#696969">M2.R</text>
<path d="M1283.35 1326.2V1333.05H1383.15V1326.2" fill="none" stroke="#000" stroke-width="3.5" stroke-linejoin="miter"/>
<path d="M1442.85 1339V1344.85H1502.55V1339" fill="none" stroke="#000" stroke-width="3.5" stroke-linejoin="miter"/>
<path d="M1640.35 1315.4V1322.25H1704.65V1315.4" fill="none" stroke="#000" stroke-width="3.5" stroke-linejoin="miter"/>
<path d="M1723.25 1327.7V1334.25H1823.25V1327.7" fill="none" stroke="#000" stroke-width="3.5" stroke-linejoin="miter"/>
<text x="1329" y="1352.5" font-size="20.6" text-anchor="middle" fill="#000">visual</text>
<text x="1473" y="1366.7" font-size="20.6" text-anchor="middle" fill="#000">whiskers,</text>
<text x="1473.4" y="1386.7" font-size="20.6" text-anchor="middle" fill="#000">snout</text>
<text x="1670.2" y="1342.8" font-size="20.6" text-anchor="middle" fill="#000">hindlimb,</text>
<text x="1670.2" y="1363.6" font-size="20.6" text-anchor="middle" fill="#000">trunk,</text>
<text x="1670.4" y="1384.4" font-size="20.6" text-anchor="middle" fill="#000">tail</text>
<text x="1777.3" y="1355.5" font-size="20.6" text-anchor="middle" fill="#000">retrosplenial,</text>
<text x="1777.3" y="1376" font-size="20.6" text-anchor="middle" fill="#000">cingulate,</text>
<text x="1778" y="1396.4" font-size="20.6" text-anchor="middle" fill="#000">motor</text>
<g shape-rendering="crispEdges">
<rect x="1862.3" y="986.8" width="34.5" height="4.79" fill="rgb(128,0,0)"/>
<rect x="1862.3" y="991.19" width="34.5" height="4.79" fill="rgb(143,0,0)"/>
<rect x="1862.3" y="995.58" width="34.5" height="4.79" fill="rgb(159,0,0)"/>
<rect x="1862.3" y="999.97" width="34.5" height="4.79" fill="rgb(175,0,0)"/>
<rect x="1862.3" y="1004.36" width="34.5" height="4.79" fill="rgb(191,0,0)"/>
<rect x="1862.3" y="1008.74" width="34.5" height="4.79" fill="rgb(207,0,0)"/>
<rect x="1862.3" y="1013.13" width="34.5" height="4.79" fill="rgb(223,0,0)"/>
<rect x="1862.3" y="1017.52" width="34.5" height="4.79" fill="rgb(239,0,0)"/>
<rect x="1862.3" y="1021.91" width="34.5" height="4.79" fill="rgb(255,0,0)"/>
<rect x="1862.3" y="1026.3" width="34.5" height="4.79" fill="rgb(255,16,0)"/>
<rect x="1862.3" y="1030.69" width="34.5" height="4.79" fill="rgb(255,32,0)"/>
<rect x="1862.3" y="1035.08" width="34.5" height="4.79" fill="rgb(255,48,0)"/>
<rect x="1862.3" y="1039.47" width="34.5" height="4.79" fill="rgb(255,64,0)"/>
<rect x="1862.3" y="1043.86" width="34.5" height="4.79" fill="rgb(255,80,0)"/>
<rect x="1862.3" y="1048.24" width="34.5" height="4.79" fill="rgb(255,96,0)"/>
<rect x="1862.3" y="1052.63" width="34.5" height="4.79" fill="rgb(255,112,0)"/>
<rect x="1862.3" y="1057.02" width="34.5" height="4.79" fill="rgb(255,128,0)"/>
<rect x="1862.3" y="1061.41" width="34.5" height="4.79" fill="rgb(255,143,0)"/>
<rect x="1862.3" y="1065.8" width="34.5" height="4.79" fill="rgb(255,159,0)"/>
<rect x="1862.3" y="1070.19" width="34.5" height="4.79" fill="rgb(255,175,0)"/>
<rect x="1862.3" y="1074.58" width="34.5" height="4.79" fill="rgb(255,191,0)"/>
<rect x="1862.3" y="1078.97" width="34.5" height="4.79" fill="rgb(255,207,0)"/>
<rect x="1862.3" y="1083.36" width="34.5" height="4.79" fill="rgb(255,223,0)"/>
<rect x="1862.3" y="1087.74" width="34.5" height="4.79" fill="rgb(255,239,0)"/>
<rect x="1862.3" y="1092.13" width="34.5" height="4.79" fill="rgb(255,255,0)"/>
<rect x="1862.3" y="1096.52" width="34.5" height="4.79" fill="rgb(239,255,16)"/>
<rect x="1862.3" y="1100.91" width="34.5" height="4.79" fill="rgb(223,255,32)"/>
<rect x="1862.3" y="1105.3" width="34.5" height="4.79" fill="rgb(207,255,48)"/>
<rect x="1862.3" y="1109.69" width="34.5" height="4.79" fill="rgb(191,255,64)"/>
<rect x="1862.3" y="1114.08" width="34.5" height="4.79" fill="rgb(175,255,80)"/>
<rect x="1862.3" y="1118.47" width="34.5" height="4.79" fill="rgb(159,255,96)"/>
<rect x="1862.3" y="1122.86" width="34.5" height="4.79" fill="rgb(143,255,112)"/>
<rect x="1862.3" y="1127.24" width="34.5" height="4.79" fill="rgb(128,255,128)"/>
<rect x="1862.3" y="1131.63" width="34.5" height="4.79" fill="rgb(112,255,143)"/>
<rect x="1862.3" y="1136.02" width="34.5" height="4.79" fill="rgb(96,255,159)"/>
<rect x="1862.3" y="1140.41" width="34.5" height="4.79" fill="rgb(80,255,175)"/>
<rect x="1862.3" y="1144.8" width="34.5" height="4.79" fill="rgb(64,255,191)"/>
<rect x="1862.3" y="1149.19" width="34.5" height="4.79" fill="rgb(48,255,207)"/>
<rect x="1862.3" y="1153.58" width="34.5" height="4.79" fill="rgb(32,255,223)"/>
<rect x="1862.3" y="1157.97" width="34.5" height="4.79" fill="rgb(16,255,239)"/>
<rect x="1862.3" y="1162.36" width="34.5" height="4.79" fill="rgb(0,255,255)"/>
<rect x="1862.3" y="1166.75" width="34.5" height="4.79" fill="rgb(0,239,255)"/>
<rect x="1862.3" y="1171.13" width="34.5" height="4.79" fill="rgb(0,223,255)"/>
<rect x="1862.3" y="1175.52" width="34.5" height="4.79" fill="rgb(0,207,255)"/>
<rect x="1862.3" y="1179.91" width="34.5" height="4.79" fill="rgb(0,191,255)"/>
<rect x="1862.3" y="1184.3" width="34.5" height="4.79" fill="rgb(0,175,255)"/>
<rect x="1862.3" y="1188.69" width="34.5" height="4.79" fill="rgb(0,159,255)"/>
<rect x="1862.3" y="1193.08" width="34.5" height="4.79" fill="rgb(0,143,255)"/>
<rect x="1862.3" y="1197.47" width="34.5" height="4.79" fill="rgb(0,128,255)"/>
<rect x="1862.3" y="1201.86" width="34.5" height="4.79" fill="rgb(0,112,255)"/>
<rect x="1862.3" y="1206.25" width="34.5" height="4.79" fill="rgb(0,96,255)"/>
<rect x="1862.3" y="1210.63" width="34.5" height="4.79" fill="rgb(0,80,255)"/>
<rect x="1862.3" y="1215.02" width="34.5" height="4.79" fill="rgb(0,64,255)"/>
<rect x="1862.3" y="1219.41" width="34.5" height="4.79" fill="rgb(0,48,255)"/>
<rect x="1862.3" y="1223.8" width="34.5" height="4.79" fill="rgb(0,32,255)"/>
<rect x="1862.3" y="1228.19" width="34.5" height="4.79" fill="rgb(0,16,255)"/>
<rect x="1862.3" y="1232.58" width="34.5" height="4.79" fill="rgb(0,0,255)"/>
<rect x="1862.3" y="1236.97" width="34.5" height="4.79" fill="rgb(0,0,239)"/>
<rect x="1862.3" y="1241.36" width="34.5" height="4.79" fill="rgb(0,0,223)"/>
<rect x="1862.3" y="1245.75" width="34.5" height="4.79" fill="rgb(0,0,207)"/>
<rect x="1862.3" y="1250.13" width="34.5" height="4.79" fill="rgb(0,0,191)"/>
<rect x="1862.3" y="1254.52" width="34.5" height="4.79" fill="rgb(0,0,175)"/>
<rect x="1862.3" y="1258.91" width="34.5" height="4.79" fill="rgb(0,0,159)"/>
<rect x="1862.3" y="1263.3" width="34.5" height="4.79" fill="rgb(0,0,143)"/>
</g>
<rect x="1862.3" y="986.3" width="34.5" height="281.39" fill="none" stroke="#222" stroke-width="1"/>
<path d="M1862.3 1253.4h5 M1896.8 1253.4h-5 M1862.3 1226.74h5 M1896.8 1226.74h-5 M1862.3 1200.08h5 M1896.8 1200.08h-5 M1862.3 1173.42h5 M1896.8 1173.42h-5 M1862.3 1146.76h5 M1896.8 1146.76h-5 M1862.3 1120.1h5 M1896.8 1120.1h-5 M1862.3 1093.44h5 M1896.8 1093.44h-5 M1862.3 1066.78h5 M1896.8 1066.78h-5 M1862.3 1040.12h5 M1896.8 1040.12h-5 M1862.3 1013.46h5 M1896.8 1013.46h-5 M1862.3 986.8h5 M1896.8 986.8h-5 " stroke="#222" stroke-width="1" fill="none"/>
<text x="1900.3" y="991.8" font-size="14.6" text-anchor="start" fill="#1a1a1a">1</text>
<text x="1900.3" y="1045.12" font-size="14.6" text-anchor="start" fill="#1a1a1a">0.8</text>
<text x="1900.3" y="1098.44" font-size="14.6" text-anchor="start" fill="#1a1a1a">0.6</text>
<text x="1900.3" y="1151.76" font-size="14.6" text-anchor="start" fill="#1a1a1a">0.4</text>
<text x="1900.3" y="1205.08" font-size="14.6" text-anchor="start" fill="#1a1a1a">0.2</text>
<text x="1900.3" y="1258.4" font-size="14.6" text-anchor="start" fill="#1a1a1a">0</text>
<text x="1858.3" y="947.7" font-size="19" text-anchor="start" fill="#1a1a1a">Corr</text>
<text x="1858.6" y="969.8" font-size="19" text-anchor="start" fill="#1a1a1a">coeff</text>
</svg>
</body></html>
